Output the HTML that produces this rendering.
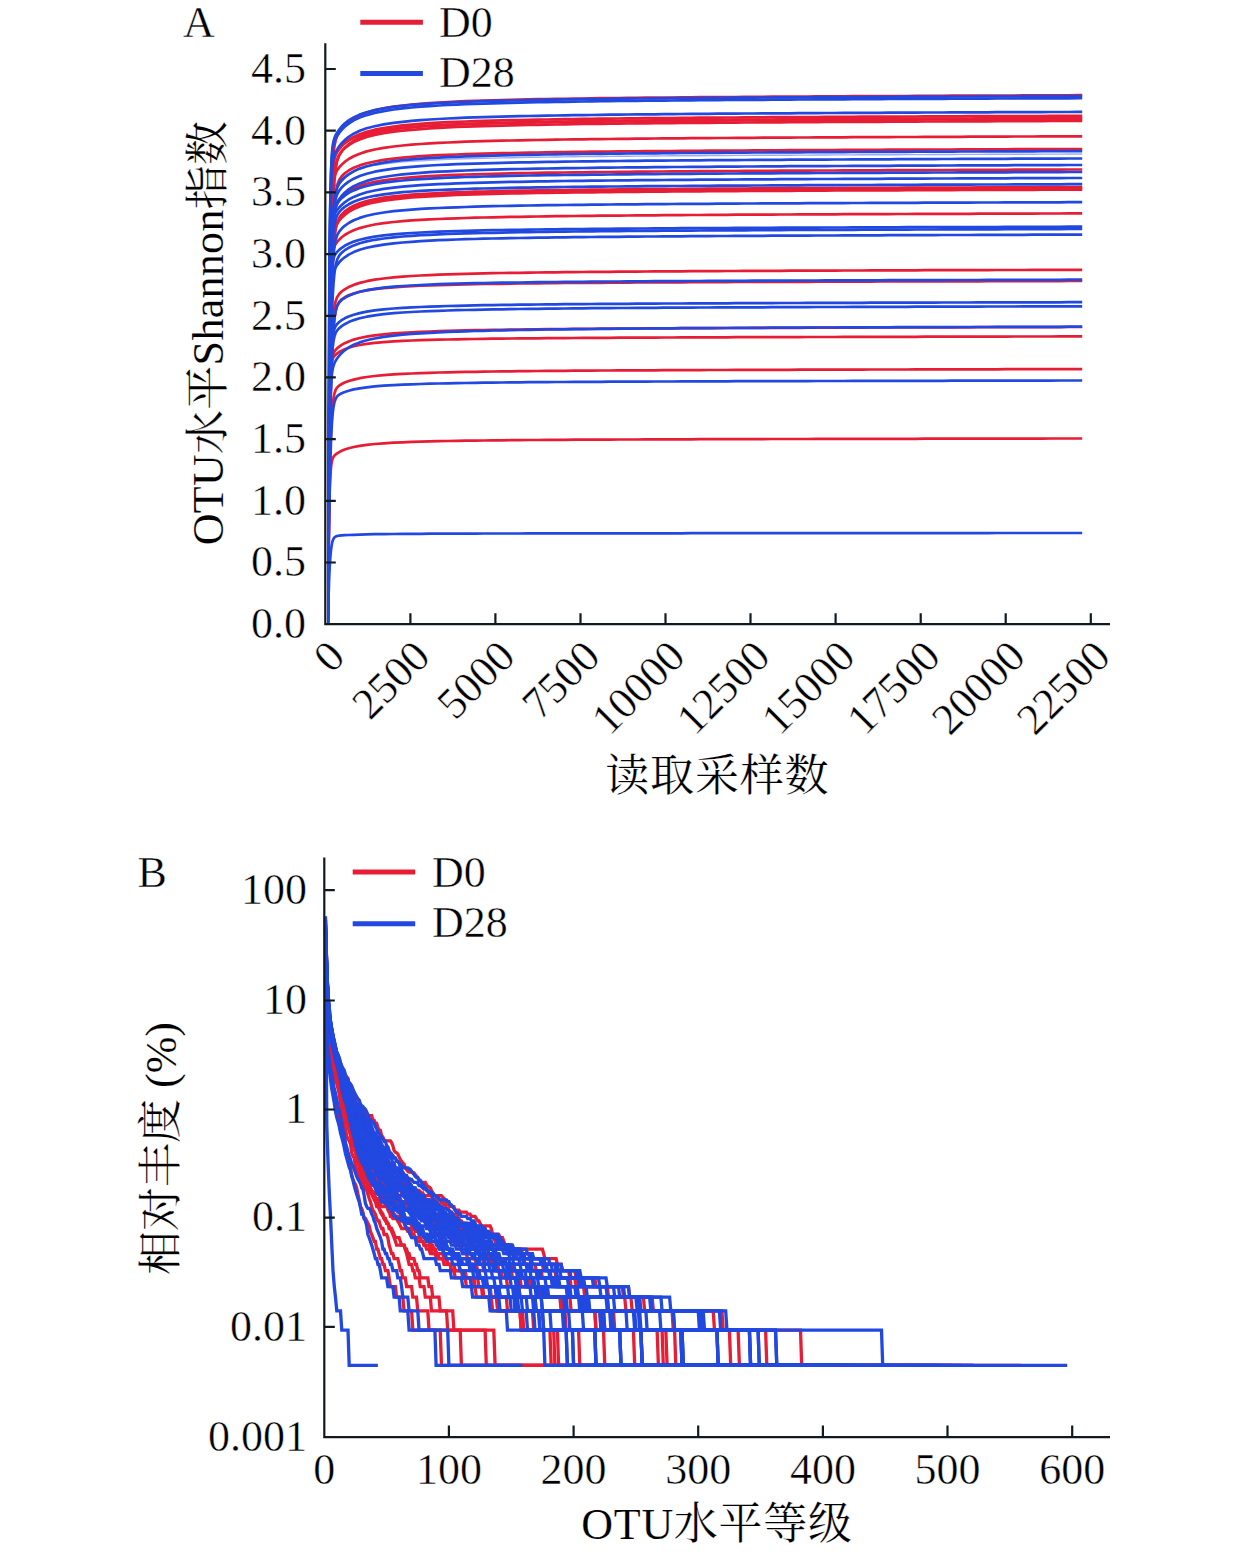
<!DOCTYPE html>
<html lang="zh"><head><meta charset="utf-8"><title>Figure</title>
<style>html,body{margin:0;padding:0;background:#fff}svg{display:block}text{font-family:"Liberation Serif","Noto Serif CJK SC",serif;font-size:44px;fill:#000;stroke:#fff;stroke-width:.45px}.cj{stroke-width:.15px}.ax{stroke:#111a1e;stroke-width:2.2;fill:none;stroke-linecap:butt}.r{stroke:#e71d36;fill:none}.b{stroke:#2148e0;fill:none}.ca path{stroke-width:2.7;stroke-linejoin:round}.cb path{stroke-width:3.3;stroke-linejoin:miter}</style></head><body>
<svg width="1260" height="1555" viewBox="0 0 1260 1555">
<rect width="1260" height="1555" fill="#fff"/>
<clipPath id="ca"><rect x="327.7" y="40" width="760" height="590"/></clipPath>
<g class="ca" clip-path="url(#ca)">
<path class="r" d="M327.7 624.2L327.8 604.0L327.9 578.4L328.1 548.3L328.3 509.1L328.5 471.9L328.8 429.0L329.0 390.5L329.3 350.0L329.6 315.3L330.0 277.1L330.4 246.7L330.9 217.6L331.4 196.2L332.0 177.9L332.7 163.7L333.5 153.3L334.5 145.6L335.7 140.1L337.2 135.9L339.2 132.1L341.7 128.6L344.7 125.2L348.7 121.6L353.7 118.2L359.7 115.1L366.7 112.5L374.7 110.2L383.7 108.3L393.7 106.6L402.7 105.5L411.7 104.6L420.7 103.8L429.7 103.1L438.7 102.6L447.7 102.1L456.7 101.6L465.7 101.2L474.7 100.9L483.7 100.6L492.7 100.3L501.7 100.1L510.7 99.8L519.7 99.6L528.7 99.4L537.7 99.2L546.7 99.1L555.7 98.9L564.7 98.8L573.7 98.6L582.7 98.5L591.7 98.4L600.7 98.2L609.7 98.1L618.7 98.0L627.7 97.9L636.7 97.8L645.7 97.7L654.7 97.6L663.7 97.6L672.7 97.5L681.7 97.4L690.7 97.3L699.7 97.2L708.7 97.2L717.7 97.1L726.7 97.0L735.7 97.0L744.7 96.9L753.7 96.8L762.7 96.8L771.7 96.7L780.7 96.7L789.7 96.6L798.7 96.5L807.7 96.5L816.7 96.4L825.7 96.4L834.7 96.3L843.7 96.3L852.7 96.2L861.7 96.2L870.7 96.1L879.7 96.1L888.7 96.0L897.7 96.0L906.7 96.0L915.7 95.9L924.7 95.9L933.7 95.8L942.7 95.8L951.7 95.7L960.7 95.7L969.7 95.7L978.7 95.6L987.7 95.6L996.7 95.5L1005.7 95.5L1014.7 95.5L1023.7 95.4L1032.7 95.4L1041.7 95.4L1050.7 95.3L1059.7 95.3L1068.7 95.3L1077.7 95.2L1082.2 95.2"/>
<path class="r" d="M327.7 624.2L327.8 597.0L327.9 563.4L328.1 524.8L328.3 476.2L328.5 432.2L328.8 383.9L329.0 343.1L329.3 302.9L329.6 270.9L330.0 238.5L330.4 215.3L330.9 195.4L331.4 182.3L332.0 172.5L332.7 165.6L333.5 161.0L334.5 157.5L335.7 154.7L337.2 152.0L339.2 149.1L341.7 146.1L344.7 143.1L348.7 139.9L353.7 136.9L359.7 134.2L366.7 131.8L374.7 129.7L383.7 128.0L393.7 126.5L402.7 125.4L411.7 124.6L420.7 123.8L429.7 123.2L438.7 122.7L447.7 122.2L456.7 121.8L465.7 121.5L474.7 121.2L483.7 120.9L492.7 120.6L501.7 120.4L510.7 120.2L519.7 120.0L528.7 119.8L537.7 119.6L546.7 119.5L555.7 119.3L564.7 119.2L573.7 119.0L582.7 118.9L591.7 118.8L600.7 118.7L609.7 118.6L618.7 118.5L627.7 118.4L636.7 118.3L645.7 118.2L654.7 118.1L663.7 118.0L672.7 118.0L681.7 117.9L690.7 117.8L699.7 117.7L708.7 117.7L717.7 117.6L726.7 117.5L735.7 117.5L744.7 117.4L753.7 117.3L762.7 117.3L771.7 117.2L780.7 117.2L789.7 117.1L798.7 117.1L807.7 117.0L816.7 117.0L825.7 116.9L834.7 116.9L843.7 116.8L852.7 116.8L861.7 116.7L870.7 116.7L879.7 116.6L888.7 116.6L897.7 116.6L906.7 116.5L915.7 116.5L924.7 116.4L933.7 116.4L942.7 116.4L951.7 116.3L960.7 116.3L969.7 116.2L978.7 116.2L987.7 116.2L996.7 116.1L1005.7 116.1L1014.7 116.1L1023.7 116.0L1032.7 116.0L1041.7 116.0L1050.7 115.9L1059.7 115.9L1068.7 115.9L1077.7 115.8L1082.2 115.8"/>
<path class="r" d="M327.7 624.2L327.8 607.8L327.9 587.0L328.1 562.2L328.3 529.4L328.5 497.7L328.8 460.6L329.0 426.5L329.3 389.6L329.6 357.2L330.0 320.1L330.4 289.5L330.9 258.9L331.4 235.2L332.0 213.9L332.7 196.4L333.5 182.9L334.5 172.3L335.7 164.8L337.2 159.3L339.2 154.9L341.7 151.2L344.7 147.8L348.7 144.2L353.7 140.8L359.7 137.8L366.7 135.1L374.7 132.9L383.7 130.9L393.7 129.3L402.7 128.2L411.7 127.3L420.7 126.5L429.7 125.8L438.7 125.3L447.7 124.8L456.7 124.3L465.7 124.0L474.7 123.6L483.7 123.3L492.7 123.0L501.7 122.8L510.7 122.6L519.7 122.4L528.7 122.2L537.7 122.0L546.7 121.8L555.7 121.6L564.7 121.5L573.7 121.4L582.7 121.2L591.7 121.1L600.7 121.0L609.7 120.9L618.7 120.8L627.7 120.7L636.7 120.6L645.7 120.5L654.7 120.4L663.7 120.3L672.7 120.2L681.7 120.1L690.7 120.1L699.7 120.0L708.7 119.9L717.7 119.9L726.7 119.8L735.7 119.7L744.7 119.7L753.7 119.6L762.7 119.5L771.7 119.5L780.7 119.4L789.7 119.4L798.7 119.3L807.7 119.3L816.7 119.2L825.7 119.2L834.7 119.1L843.7 119.1L852.7 119.0L861.7 119.0L870.7 118.9L879.7 118.9L888.7 118.8L897.7 118.8L906.7 118.7L915.7 118.7L924.7 118.7L933.7 118.6L942.7 118.6L951.7 118.5L960.7 118.5L969.7 118.5L978.7 118.4L987.7 118.4L996.7 118.3L1005.7 118.3L1014.7 118.3L1023.7 118.2L1032.7 118.2L1041.7 118.2L1050.7 118.1L1059.7 118.1L1068.7 118.1L1077.7 118.0L1082.2 118.0"/>
<path class="r" d="M327.7 624.2L327.8 604.2L327.9 579.1L328.1 549.4L328.3 510.8L328.5 474.2L328.8 432.2L329.0 394.6L329.3 355.0L329.6 321.2L330.0 284.1L330.4 254.7L330.9 226.7L331.4 206.2L332.0 188.8L332.7 175.5L333.5 166.0L334.5 159.1L335.7 154.5L337.2 151.2L339.2 148.3L341.7 145.7L344.7 143.2L348.7 140.5L353.7 137.8L359.7 135.5L366.7 133.3L374.7 131.5L383.7 130.0L393.7 128.6L402.7 127.7L411.7 126.9L420.7 126.3L429.7 125.7L438.7 125.3L447.7 124.9L456.7 124.5L465.7 124.2L474.7 123.9L483.7 123.6L492.7 123.4L501.7 123.2L510.7 123.0L519.7 122.8L528.7 122.6L537.7 122.5L546.7 122.3L555.7 122.2L564.7 122.1L573.7 121.9L582.7 121.8L591.7 121.7L600.7 121.6L609.7 121.5L618.7 121.4L627.7 121.3L636.7 121.2L645.7 121.2L654.7 121.1L663.7 121.0L672.7 120.9L681.7 120.9L690.7 120.8L699.7 120.7L708.7 120.7L717.7 120.6L726.7 120.5L735.7 120.5L744.7 120.4L753.7 120.4L762.7 120.3L771.7 120.3L780.7 120.2L789.7 120.2L798.7 120.1L807.7 120.1L816.7 120.0L825.7 120.0L834.7 119.9L843.7 119.9L852.7 119.8L861.7 119.8L870.7 119.8L879.7 119.7L888.7 119.7L897.7 119.6L906.7 119.6L915.7 119.6L924.7 119.5L933.7 119.5L942.7 119.4L951.7 119.4L960.7 119.4L969.7 119.3L978.7 119.3L987.7 119.3L996.7 119.2L1005.7 119.2L1014.7 119.1L1023.7 119.1L1032.7 119.1L1041.7 119.0L1050.7 119.0L1059.7 119.0L1068.7 118.9L1077.7 118.9L1082.2 118.9"/>
<path class="r" d="M327.7 624.2L327.8 610.8L327.9 593.6L328.1 572.9L328.3 545.1L328.5 517.9L328.8 485.2L329.0 454.5L329.3 420.5L329.6 389.6L330.0 353.2L330.4 321.7L330.9 288.8L331.4 262.0L332.0 236.5L332.7 214.1L333.5 195.8L334.5 180.5L335.7 169.1L337.2 161.1L339.2 155.3L341.7 151.4L344.7 148.2L348.7 145.1L353.7 142.1L359.7 139.4L366.7 137.0L374.7 135.0L383.7 133.2L393.7 131.7L402.7 130.7L411.7 129.8L420.7 129.1L429.7 128.4L438.7 127.9L447.7 127.4L456.7 127.0L465.7 126.7L474.7 126.4L483.7 126.1L492.7 125.8L501.7 125.6L510.7 125.3L519.7 125.1L528.7 124.9L537.7 124.8L546.7 124.6L555.7 124.5L564.7 124.3L573.7 124.2L582.7 124.0L591.7 123.9L600.7 123.8L609.7 123.7L618.7 123.6L627.7 123.5L636.7 123.4L645.7 123.3L654.7 123.2L663.7 123.2L672.7 123.1L681.7 123.0L690.7 122.9L699.7 122.9L708.7 122.8L717.7 122.7L726.7 122.6L735.7 122.6L744.7 122.5L753.7 122.5L762.7 122.4L771.7 122.3L780.7 122.3L789.7 122.2L798.7 122.2L807.7 122.1L816.7 122.1L825.7 122.0L834.7 122.0L843.7 121.9L852.7 121.9L861.7 121.8L870.7 121.8L879.7 121.8L888.7 121.7L897.7 121.7L906.7 121.6L915.7 121.6L924.7 121.5L933.7 121.5L942.7 121.5L951.7 121.4L960.7 121.4L969.7 121.3L978.7 121.3L987.7 121.3L996.7 121.2L1005.7 121.2L1014.7 121.2L1023.7 121.1L1032.7 121.1L1041.7 121.1L1050.7 121.0L1059.7 121.0L1068.7 121.0L1077.7 120.9L1082.2 120.9"/>
<path class="r" d="M327.7 624.2L327.8 602.7L327.9 575.8L328.1 544.3L328.3 503.8L328.5 466.0L328.8 423.3L329.0 385.8L329.3 347.1L329.6 314.9L330.0 280.5L330.4 254.1L330.9 229.9L331.4 212.8L332.0 199.0L332.7 188.7L333.5 181.7L334.5 176.6L335.7 173.0L337.2 170.2L339.2 167.4L341.7 164.6L344.7 161.9L348.7 159.0L353.7 156.2L359.7 153.7L366.7 151.4L374.7 149.5L383.7 147.9L393.7 146.5L402.7 145.5L411.7 144.6L420.7 144.0L429.7 143.4L438.7 142.9L447.7 142.5L456.7 142.1L465.7 141.7L474.7 141.4L483.7 141.2L492.7 140.9L501.7 140.7L510.7 140.5L519.7 140.3L528.7 140.1L537.7 140.0L546.7 139.8L555.7 139.7L564.7 139.5L573.7 139.4L582.7 139.3L591.7 139.2L600.7 139.1L609.7 139.0L618.7 138.9L627.7 138.8L636.7 138.7L645.7 138.6L654.7 138.5L663.7 138.4L672.7 138.4L681.7 138.3L690.7 138.2L699.7 138.2L708.7 138.1L717.7 138.0L726.7 138.0L735.7 137.9L744.7 137.8L753.7 137.8L762.7 137.7L771.7 137.7L780.7 137.6L789.7 137.6L798.7 137.5L807.7 137.5L816.7 137.4L825.7 137.4L834.7 137.3L843.7 137.3L852.7 137.2L861.7 137.2L870.7 137.2L879.7 137.1L888.7 137.1L897.7 137.0L906.7 137.0L915.7 137.0L924.7 136.9L933.7 136.9L942.7 136.8L951.7 136.8L960.7 136.8L969.7 136.7L978.7 136.7L987.7 136.7L996.7 136.6L1005.7 136.6L1014.7 136.5L1023.7 136.5L1032.7 136.5L1041.7 136.4L1050.7 136.4L1059.7 136.4L1068.7 136.3L1077.7 136.3L1082.2 136.3"/>
<path class="r" d="M327.7 624.2L327.8 611.8L327.9 595.8L328.1 576.5L328.3 550.7L328.5 525.3L328.8 494.8L329.0 466.1L329.3 434.1L329.6 405.1L330.0 370.6L330.4 340.8L330.9 309.5L331.4 283.8L332.0 259.3L332.7 237.7L333.5 219.8L334.5 204.8L335.7 193.6L337.2 185.6L339.2 180.0L341.7 176.2L344.7 173.3L348.7 170.5L353.7 167.8L359.7 165.4L366.7 163.3L374.7 161.5L383.7 159.9L393.7 158.6L402.7 157.7L411.7 156.9L420.7 156.2L429.7 155.7L438.7 155.2L447.7 154.8L456.7 154.5L465.7 154.1L474.7 153.9L483.7 153.6L492.7 153.4L501.7 153.2L510.7 153.0L519.7 152.8L528.7 152.6L537.7 152.5L546.7 152.3L555.7 152.2L564.7 152.1L573.7 151.9L582.7 151.8L591.7 151.7L600.7 151.6L609.7 151.5L618.7 151.4L627.7 151.3L636.7 151.3L645.7 151.2L654.7 151.1L663.7 151.0L672.7 151.0L681.7 150.9L690.7 150.8L699.7 150.8L708.7 150.7L717.7 150.6L726.7 150.6L735.7 150.5L744.7 150.5L753.7 150.4L762.7 150.4L771.7 150.3L780.7 150.3L789.7 150.2L798.7 150.2L807.7 150.1L816.7 150.1L825.7 150.0L834.7 150.0L843.7 149.9L852.7 149.9L861.7 149.9L870.7 149.8L879.7 149.8L888.7 149.7L897.7 149.7L906.7 149.7L915.7 149.6L924.7 149.6L933.7 149.5L942.7 149.5L951.7 149.5L960.7 149.4L969.7 149.4L978.7 149.4L987.7 149.3L996.7 149.3L1005.7 149.3L1014.7 149.2L1023.7 149.2L1032.7 149.2L1041.7 149.1L1050.7 149.1L1059.7 149.1L1068.7 149.0L1077.7 149.0L1082.2 149.0"/>
<path class="r" d="M327.7 624.2L327.8 608.8L327.9 589.2L328.1 565.9L328.3 535.2L328.5 505.7L328.8 471.3L329.0 439.8L329.3 405.9L329.6 376.3L330.0 342.8L330.4 315.3L330.9 288.1L331.4 267.3L332.0 248.8L332.7 233.8L333.5 222.5L334.5 213.8L335.7 207.7L337.2 203.4L339.2 199.9L341.7 196.8L344.7 194.1L348.7 191.2L353.7 188.4L359.7 185.9L366.7 183.7L374.7 181.9L383.7 180.3L393.7 179.0L402.7 178.0L411.7 177.3L420.7 176.6L429.7 176.1L438.7 175.6L447.7 175.2L456.7 174.8L465.7 174.5L474.7 174.3L483.7 174.0L492.7 173.8L501.7 173.6L510.7 173.4L519.7 173.2L528.7 173.0L537.7 172.9L546.7 172.7L555.7 172.6L564.7 172.5L573.7 172.4L582.7 172.3L591.7 172.1L600.7 172.0L609.7 172.0L618.7 171.9L627.7 171.8L636.7 171.7L645.7 171.6L654.7 171.5L663.7 171.5L672.7 171.4L681.7 171.3L690.7 171.3L699.7 171.2L708.7 171.2L717.7 171.1L726.7 171.0L735.7 171.0L744.7 170.9L753.7 170.9L762.7 170.8L771.7 170.8L780.7 170.7L789.7 170.7L798.7 170.6L807.7 170.6L816.7 170.5L825.7 170.5L834.7 170.5L843.7 170.4L852.7 170.4L861.7 170.3L870.7 170.3L879.7 170.3L888.7 170.2L897.7 170.2L906.7 170.1L915.7 170.1L924.7 170.1L933.7 170.0L942.7 170.0L951.7 170.0L960.7 169.9L969.7 169.9L978.7 169.9L987.7 169.8L996.7 169.8L1005.7 169.8L1014.7 169.7L1023.7 169.7L1032.7 169.7L1041.7 169.6L1050.7 169.6L1059.7 169.6L1068.7 169.5L1077.7 169.5L1082.2 169.5"/>
<path class="r" d="M327.7 624.2L327.8 612.2L327.9 596.9L328.1 578.4L328.3 553.7L328.5 529.5L328.8 500.6L329.0 473.5L329.3 443.6L329.6 416.6L330.0 384.9L330.4 357.7L330.9 329.4L331.4 306.6L332.0 285.1L332.7 266.4L333.5 251.2L334.5 238.6L335.7 229.4L337.2 222.8L339.2 217.9L341.7 214.4L344.7 211.4L348.7 208.5L353.7 205.8L359.7 203.3L366.7 201.1L374.7 199.3L383.7 197.7L393.7 196.4L402.7 195.5L411.7 194.7L420.7 194.1L429.7 193.5L438.7 193.1L447.7 192.7L456.7 192.3L465.7 192.0L474.7 191.7L483.7 191.5L492.7 191.3L501.7 191.1L510.7 190.9L519.7 190.7L528.7 190.5L537.7 190.4L546.7 190.3L555.7 190.1L564.7 190.0L573.7 189.9L582.7 189.8L591.7 189.7L600.7 189.6L609.7 189.5L618.7 189.4L627.7 189.3L636.7 189.2L645.7 189.2L654.7 189.1L663.7 189.0L672.7 189.0L681.7 188.9L690.7 188.8L699.7 188.8L708.7 188.7L717.7 188.6L726.7 188.6L735.7 188.5L744.7 188.5L753.7 188.4L762.7 188.4L771.7 188.3L780.7 188.3L789.7 188.2L798.7 188.2L807.7 188.2L816.7 188.1L825.7 188.1L834.7 188.0L843.7 188.0L852.7 187.9L861.7 187.9L870.7 187.9L879.7 187.8L888.7 187.8L897.7 187.8L906.7 187.7L915.7 187.7L924.7 187.6L933.7 187.6L942.7 187.6L951.7 187.5L960.7 187.5L969.7 187.5L978.7 187.4L987.7 187.4L996.7 187.4L1005.7 187.4L1014.7 187.3L1023.7 187.3L1032.7 187.3L1041.7 187.2L1050.7 187.2L1059.7 187.2L1068.7 187.1L1077.7 187.1L1082.2 187.1"/>
<path class="r" d="M327.7 624.2L327.8 607.7L327.9 586.9L328.1 562.3L328.3 530.2L328.5 499.8L328.8 464.8L329.0 433.3L329.3 400.1L329.6 371.7L330.0 340.3L330.4 315.4L330.9 291.4L331.4 273.8L332.0 258.7L332.7 246.9L333.5 238.3L334.5 231.9L335.7 227.3L337.2 223.9L339.2 220.7L341.7 217.7L344.7 214.9L348.7 211.9L353.7 209.0L359.7 206.5L366.7 204.2L374.7 202.3L383.7 200.7L393.7 199.3L402.7 198.3L411.7 197.5L420.7 196.9L429.7 196.3L438.7 195.8L447.7 195.4L456.7 195.0L465.7 194.7L474.7 194.4L483.7 194.2L492.7 193.9L501.7 193.7L510.7 193.5L519.7 193.3L528.7 193.2L537.7 193.0L546.7 192.9L555.7 192.7L564.7 192.6L573.7 192.5L582.7 192.4L591.7 192.3L600.7 192.2L609.7 192.1L618.7 192.0L627.7 191.9L636.7 191.8L645.7 191.7L654.7 191.6L663.7 191.6L672.7 191.5L681.7 191.4L690.7 191.4L699.7 191.3L708.7 191.2L717.7 191.2L726.7 191.1L735.7 191.1L744.7 191.0L753.7 191.0L762.7 190.9L771.7 190.9L780.7 190.8L789.7 190.8L798.7 190.7L807.7 190.7L816.7 190.6L825.7 190.6L834.7 190.5L843.7 190.5L852.7 190.5L861.7 190.4L870.7 190.4L879.7 190.3L888.7 190.3L897.7 190.3L906.7 190.2L915.7 190.2L924.7 190.2L933.7 190.1L942.7 190.1L951.7 190.1L960.7 190.0L969.7 190.0L978.7 190.0L987.7 189.9L996.7 189.9L1005.7 189.9L1014.7 189.8L1023.7 189.8L1032.7 189.8L1041.7 189.7L1050.7 189.7L1059.7 189.7L1068.7 189.6L1077.7 189.6L1082.2 189.6"/>
<path class="r" d="M327.7 624.2L327.8 606.1L327.9 583.4L328.1 556.8L328.3 522.3L328.5 489.9L328.8 453.1L329.0 420.4L329.3 386.5L329.6 358.0L330.0 327.1L330.4 303.0L330.9 280.6L331.4 264.5L332.0 251.1L332.7 241.0L333.5 233.9L334.5 228.7L335.7 225.0L337.2 222.1L339.2 219.3L341.7 216.5L344.7 213.8L348.7 211.0L353.7 208.2L359.7 205.6L366.7 203.4L374.7 201.5L383.7 199.8L393.7 198.4L402.7 197.4L411.7 196.6L420.7 195.9L429.7 195.4L438.7 194.9L447.7 194.4L456.7 194.0L465.7 193.7L474.7 193.4L483.7 193.1L492.7 192.9L501.7 192.7L510.7 192.5L519.7 192.3L528.7 192.1L537.7 191.9L546.7 191.8L555.7 191.6L564.7 191.5L573.7 191.4L582.7 191.3L591.7 191.2L600.7 191.0L609.7 191.0L618.7 190.9L627.7 190.8L636.7 190.7L645.7 190.6L654.7 190.5L663.7 190.4L672.7 190.4L681.7 190.3L690.7 190.2L699.7 190.2L708.7 190.1L717.7 190.0L726.7 190.0L735.7 189.9L744.7 189.9L753.7 189.8L762.7 189.8L771.7 189.7L780.7 189.7L789.7 189.6L798.7 189.6L807.7 189.5L816.7 189.5L825.7 189.4L834.7 189.4L843.7 189.3L852.7 189.3L861.7 189.2L870.7 189.2L879.7 189.2L888.7 189.1L897.7 189.1L906.7 189.0L915.7 189.0L924.7 189.0L933.7 188.9L942.7 188.9L951.7 188.9L960.7 188.8L969.7 188.8L978.7 188.8L987.7 188.7L996.7 188.7L1005.7 188.7L1014.7 188.6L1023.7 188.6L1032.7 188.6L1041.7 188.5L1050.7 188.5L1059.7 188.5L1068.7 188.4L1077.7 188.4L1082.2 188.4"/>
<path class="r" d="M327.7 624.2L327.8 602.6L327.9 576.0L328.1 545.3L328.3 506.5L328.5 471.2L328.8 432.5L329.0 399.5L329.3 366.8L329.6 340.7L330.0 314.1L330.4 294.8L330.9 278.1L331.4 267.2L332.0 258.8L332.7 253.0L333.5 249.1L334.5 246.3L335.7 244.0L337.2 241.9L339.2 239.7L341.7 237.3L344.7 235.0L348.7 232.6L353.7 230.2L359.7 228.1L366.7 226.2L374.7 224.5L383.7 223.1L393.7 222.0L402.7 221.1L411.7 220.4L420.7 219.9L429.7 219.4L438.7 219.0L447.7 218.6L456.7 218.3L465.7 218.0L474.7 217.7L483.7 217.5L492.7 217.3L501.7 217.1L510.7 216.9L519.7 216.8L528.7 216.6L537.7 216.5L546.7 216.3L555.7 216.2L564.7 216.1L573.7 216.0L582.7 215.9L591.7 215.8L600.7 215.7L609.7 215.6L618.7 215.6L627.7 215.5L636.7 215.4L645.7 215.3L654.7 215.3L663.7 215.2L672.7 215.1L681.7 215.1L690.7 215.0L699.7 215.0L708.7 214.9L717.7 214.8L726.7 214.8L735.7 214.7L744.7 214.7L753.7 214.7L762.7 214.6L771.7 214.6L780.7 214.5L789.7 214.5L798.7 214.4L807.7 214.4L816.7 214.3L825.7 214.3L834.7 214.3L843.7 214.2L852.7 214.2L861.7 214.2L870.7 214.1L879.7 214.1L888.7 214.1L897.7 214.0L906.7 214.0L915.7 213.9L924.7 213.9L933.7 213.9L942.7 213.9L951.7 213.8L960.7 213.8L969.7 213.8L978.7 213.7L987.7 213.7L996.7 213.7L1005.7 213.6L1014.7 213.6L1023.7 213.6L1032.7 213.6L1041.7 213.5L1050.7 213.5L1059.7 213.5L1068.7 213.4L1077.7 213.4L1082.2 213.4"/>
<path class="r" d="M327.7 624.2L327.8 613.1L327.9 598.9L328.1 582.0L328.3 559.6L328.5 537.9L328.8 512.3L329.0 488.7L329.3 463.1L329.6 440.3L330.0 414.2L330.4 392.5L330.9 370.5L331.4 353.3L332.0 337.7L332.7 324.7L333.5 314.6L334.5 306.6L335.7 301.0L337.2 297.0L339.2 294.0L341.7 291.5L344.7 289.4L348.7 287.1L353.7 284.9L359.7 282.9L366.7 281.2L374.7 279.7L383.7 278.5L393.7 277.4L402.7 276.6L411.7 276.0L420.7 275.5L429.7 275.1L438.7 274.7L447.7 274.4L456.7 274.1L465.7 273.8L474.7 273.6L483.7 273.4L492.7 273.2L501.7 273.0L510.7 272.9L519.7 272.8L528.7 272.6L537.7 272.5L546.7 272.4L555.7 272.3L564.7 272.2L573.7 272.1L582.7 272.0L591.7 271.9L600.7 271.8L609.7 271.8L618.7 271.7L627.7 271.6L636.7 271.6L645.7 271.5L654.7 271.4L663.7 271.4L672.7 271.3L681.7 271.3L690.7 271.2L699.7 271.2L708.7 271.1L717.7 271.1L726.7 271.0L735.7 271.0L744.7 270.9L753.7 270.9L762.7 270.9L771.7 270.8L780.7 270.8L789.7 270.7L798.7 270.7L807.7 270.7L816.7 270.6L825.7 270.6L834.7 270.6L843.7 270.5L852.7 270.5L861.7 270.5L870.7 270.4L879.7 270.4L888.7 270.4L897.7 270.3L906.7 270.3L915.7 270.3L924.7 270.2L933.7 270.2L942.7 270.2L951.7 270.2L960.7 270.1L969.7 270.1L978.7 270.1L987.7 270.1L996.7 270.0L1005.7 270.0L1014.7 270.0L1023.7 270.0L1032.7 269.9L1041.7 269.9L1050.7 269.9L1059.7 269.9L1068.7 269.8L1077.7 269.8L1082.2 269.8"/>
<path class="r" d="M327.7 624.2L327.8 615.0L327.9 603.1L328.1 588.9L328.3 569.7L328.5 551.0L328.8 528.5L329.0 507.4L329.3 484.0L329.6 462.7L330.0 437.6L330.4 415.9L330.9 393.3L331.4 374.8L332.0 357.3L332.7 342.0L333.5 329.4L334.5 318.9L335.7 311.2L337.2 305.7L339.2 301.9L341.7 299.3L344.7 297.3L348.7 295.3L353.7 293.5L359.7 291.8L366.7 290.4L374.7 289.2L383.7 288.2L393.7 287.3L402.7 286.7L411.7 286.2L420.7 285.7L429.7 285.4L438.7 285.1L447.7 284.8L456.7 284.6L465.7 284.4L474.7 284.2L483.7 284.0L492.7 283.9L501.7 283.8L510.7 283.6L519.7 283.5L528.7 283.4L537.7 283.3L546.7 283.2L555.7 283.1L564.7 283.0L573.7 283.0L582.7 282.9L591.7 282.8L600.7 282.8L609.7 282.7L618.7 282.6L627.7 282.6L636.7 282.5L645.7 282.5L654.7 282.4L663.7 282.4L672.7 282.3L681.7 282.3L690.7 282.2L699.7 282.2L708.7 282.1L717.7 282.1L726.7 282.1L735.7 282.0L744.7 282.0L753.7 282.0L762.7 281.9L771.7 281.9L780.7 281.9L789.7 281.8L798.7 281.8L807.7 281.8L816.7 281.7L825.7 281.7L834.7 281.7L843.7 281.6L852.7 281.6L861.7 281.6L870.7 281.6L879.7 281.5L888.7 281.5L897.7 281.5L906.7 281.5L915.7 281.4L924.7 281.4L933.7 281.4L942.7 281.4L951.7 281.3L960.7 281.3L969.7 281.3L978.7 281.3L987.7 281.2L996.7 281.2L1005.7 281.2L1014.7 281.2L1023.7 281.1L1032.7 281.1L1041.7 281.1L1050.7 281.1L1059.7 281.1L1068.7 281.0L1077.7 281.0L1082.2 281.0"/>
<path class="r" d="M327.7 624.2L327.8 606.0L327.9 583.8L328.1 558.6L328.3 527.7L328.5 500.3L328.8 471.3L329.0 447.5L329.3 424.9L329.6 407.7L330.0 391.2L330.4 380.0L330.9 371.0L331.4 365.5L332.0 361.6L332.7 359.0L333.5 357.3L334.5 355.9L335.7 354.7L337.2 353.4L339.2 352.0L341.7 350.6L344.7 349.2L348.7 347.7L353.7 346.3L359.7 345.0L366.7 343.9L374.7 342.9L383.7 342.1L393.7 341.4L402.7 340.9L411.7 340.5L420.7 340.2L429.7 339.9L438.7 339.7L447.7 339.5L456.7 339.3L465.7 339.1L474.7 339.0L483.7 338.9L492.7 338.7L501.7 338.6L510.7 338.5L519.7 338.4L528.7 338.3L537.7 338.3L546.7 338.2L555.7 338.1L564.7 338.1L573.7 338.0L582.7 337.9L591.7 337.9L600.7 337.8L609.7 337.8L618.7 337.7L627.7 337.7L636.7 337.6L645.7 337.6L654.7 337.6L663.7 337.5L672.7 337.5L681.7 337.4L690.7 337.4L699.7 337.4L708.7 337.3L717.7 337.3L726.7 337.3L735.7 337.2L744.7 337.2L753.7 337.2L762.7 337.2L771.7 337.1L780.7 337.1L789.7 337.1L798.7 337.1L807.7 337.0L816.7 337.0L825.7 337.0L834.7 337.0L843.7 336.9L852.7 336.9L861.7 336.9L870.7 336.9L879.7 336.8L888.7 336.8L897.7 336.8L906.7 336.8L915.7 336.8L924.7 336.7L933.7 336.7L942.7 336.7L951.7 336.7L960.7 336.6L969.7 336.6L978.7 336.6L987.7 336.6L996.7 336.6L1005.7 336.6L1014.7 336.5L1023.7 336.5L1032.7 336.5L1041.7 336.5L1050.7 336.5L1059.7 336.4L1068.7 336.4L1077.7 336.4L1082.2 336.4"/>
<path class="r" d="M327.7 624.2L327.8 608.3L327.9 588.7L328.1 566.1L328.3 537.8L328.5 512.0L328.8 483.8L329.0 460.0L329.3 436.4L329.6 417.7L330.0 398.8L330.4 385.2L330.9 373.5L331.4 365.9L332.0 360.1L332.7 356.1L333.5 353.5L334.5 351.5L335.7 349.8L337.2 348.3L339.2 346.6L341.7 344.9L344.7 343.2L348.7 341.4L353.7 339.6L359.7 338.0L366.7 336.6L374.7 335.3L383.7 334.3L393.7 333.4L402.7 332.8L411.7 332.3L420.7 331.8L429.7 331.5L438.7 331.1L447.7 330.9L456.7 330.6L465.7 330.4L474.7 330.2L483.7 330.1L492.7 329.9L501.7 329.8L510.7 329.6L519.7 329.5L528.7 329.4L537.7 329.3L546.7 329.2L555.7 329.1L564.7 329.0L573.7 328.9L582.7 328.9L591.7 328.8L600.7 328.7L609.7 328.7L618.7 328.6L627.7 328.5L636.7 328.5L645.7 328.4L654.7 328.4L663.7 328.3L672.7 328.3L681.7 328.2L690.7 328.2L699.7 328.2L708.7 328.1L717.7 328.1L726.7 328.0L735.7 328.0L744.7 328.0L753.7 327.9L762.7 327.9L771.7 327.9L780.7 327.8L789.7 327.8L798.7 327.8L807.7 327.7L816.7 327.7L825.7 327.7L834.7 327.6L843.7 327.6L852.7 327.6L861.7 327.6L870.7 327.5L879.7 327.5L888.7 327.5L897.7 327.5L906.7 327.4L915.7 327.4L924.7 327.4L933.7 327.4L942.7 327.3L951.7 327.3L960.7 327.3L969.7 327.3L978.7 327.2L987.7 327.2L996.7 327.2L1005.7 327.2L1014.7 327.2L1023.7 327.1L1032.7 327.1L1041.7 327.1L1050.7 327.1L1059.7 327.1L1068.7 327.0L1077.7 327.0L1082.2 327.0"/>
<path class="r" d="M327.7 624.2L327.8 615.6L327.9 604.7L328.1 591.7L328.3 574.5L328.5 558.1L328.8 538.8L329.0 521.1L329.3 502.1L329.6 485.5L330.0 466.6L330.4 451.0L330.9 435.6L331.4 423.8L332.0 413.3L332.7 404.7L333.5 398.2L334.5 393.3L335.7 389.8L337.2 387.4L339.2 385.6L341.7 384.0L344.7 382.5L348.7 381.0L353.7 379.6L359.7 378.2L366.7 377.0L374.7 376.0L383.7 375.2L393.7 374.4L402.7 373.9L411.7 373.5L420.7 373.1L429.7 372.8L438.7 372.5L447.7 372.3L456.7 372.1L465.7 371.9L474.7 371.8L483.7 371.6L492.7 371.5L501.7 371.4L510.7 371.3L519.7 371.2L528.7 371.1L537.7 371.0L546.7 370.9L555.7 370.9L564.7 370.8L573.7 370.7L582.7 370.7L591.7 370.6L600.7 370.5L609.7 370.5L618.7 370.4L627.7 370.4L636.7 370.3L645.7 370.3L654.7 370.3L663.7 370.2L672.7 370.2L681.7 370.1L690.7 370.1L699.7 370.1L708.7 370.0L717.7 370.0L726.7 370.0L735.7 369.9L744.7 369.9L753.7 369.9L762.7 369.8L771.7 369.8L780.7 369.8L789.7 369.8L798.7 369.7L807.7 369.7L816.7 369.7L825.7 369.7L834.7 369.6L843.7 369.6L852.7 369.6L861.7 369.6L870.7 369.5L879.7 369.5L888.7 369.5L897.7 369.5L906.7 369.5L915.7 369.4L924.7 369.4L933.7 369.4L942.7 369.4L951.7 369.4L960.7 369.3L969.7 369.3L978.7 369.3L987.7 369.3L996.7 369.3L1005.7 369.2L1014.7 369.2L1023.7 369.2L1032.7 369.2L1041.7 369.2L1050.7 369.2L1059.7 369.1L1068.7 369.1L1077.7 369.1L1082.2 369.1"/>
<path class="r" d="M327.7 624.2L327.8 614.0L327.9 601.5L328.1 587.2L328.3 569.2L328.5 553.0L328.8 535.5L329.0 520.7L329.3 506.3L329.6 494.9L330.0 483.5L330.4 475.5L330.9 468.6L331.4 464.2L332.0 460.8L332.7 458.5L333.5 456.9L334.5 455.5L335.7 454.4L337.2 453.3L339.2 452.1L341.7 450.8L344.7 449.5L348.7 448.2L353.7 447.0L359.7 445.9L366.7 444.9L374.7 444.0L383.7 443.3L393.7 442.7L402.7 442.3L411.7 441.9L420.7 441.7L429.7 441.4L438.7 441.2L447.7 441.0L456.7 440.9L465.7 440.7L474.7 440.6L483.7 440.5L492.7 440.4L501.7 440.3L510.7 440.2L519.7 440.1L528.7 440.0L537.7 440.0L546.7 439.9L555.7 439.9L564.7 439.8L573.7 439.7L582.7 439.7L591.7 439.7L600.7 439.6L609.7 439.6L618.7 439.5L627.7 439.5L636.7 439.5L645.7 439.4L654.7 439.4L663.7 439.4L672.7 439.3L681.7 439.3L690.7 439.3L699.7 439.2L708.7 439.2L717.7 439.2L726.7 439.2L735.7 439.1L744.7 439.1L753.7 439.1L762.7 439.1L771.7 439.0L780.7 439.0L789.7 439.0L798.7 439.0L807.7 439.0L816.7 438.9L825.7 438.9L834.7 438.9L843.7 438.9L852.7 438.9L861.7 438.9L870.7 438.8L879.7 438.8L888.7 438.8L897.7 438.8L906.7 438.8L915.7 438.8L924.7 438.7L933.7 438.7L942.7 438.7L951.7 438.7L960.7 438.7L969.7 438.7L978.7 438.7L987.7 438.6L996.7 438.6L1005.7 438.6L1014.7 438.6L1023.7 438.6L1032.7 438.6L1041.7 438.6L1050.7 438.5L1059.7 438.5L1068.7 438.5L1077.7 438.5L1082.2 438.5"/>
<path class="b" d="M327.7 624.2L327.8 595.3L327.9 559.6L328.1 518.6L328.3 467.3L328.5 420.9L328.8 370.3L329.0 327.5L329.3 285.7L329.6 252.5L330.0 219.2L330.4 195.5L330.9 175.3L331.4 162.2L332.0 152.4L332.7 145.7L333.5 141.2L334.5 137.8L335.7 135.0L337.2 132.4L339.2 129.5L341.7 126.5L344.7 123.5L348.7 120.4L353.7 117.4L359.7 114.6L366.7 112.2L374.7 110.1L383.7 108.4L393.7 106.9L402.7 105.8L411.7 104.9L420.7 104.2L429.7 103.6L438.7 103.0L447.7 102.6L456.7 102.2L465.7 101.8L474.7 101.5L483.7 101.2L492.7 100.9L501.7 100.7L510.7 100.5L519.7 100.3L528.7 100.1L537.7 99.9L546.7 99.7L555.7 99.6L564.7 99.4L573.7 99.3L582.7 99.2L591.7 99.1L600.7 99.0L609.7 98.8L618.7 98.7L627.7 98.6L636.7 98.5L645.7 98.5L654.7 98.4L663.7 98.3L672.7 98.2L681.7 98.1L690.7 98.1L699.7 98.0L708.7 97.9L717.7 97.8L726.7 97.8L735.7 97.7L744.7 97.7L753.7 97.6L762.7 97.5L771.7 97.5L780.7 97.4L789.7 97.4L798.7 97.3L807.7 97.3L816.7 97.2L825.7 97.2L834.7 97.1L843.7 97.1L852.7 97.0L861.7 97.0L870.7 96.9L879.7 96.9L888.7 96.8L897.7 96.8L906.7 96.7L915.7 96.7L924.7 96.7L933.7 96.6L942.7 96.6L951.7 96.5L960.7 96.5L969.7 96.5L978.7 96.4L987.7 96.4L996.7 96.3L1005.7 96.3L1014.7 96.3L1023.7 96.2L1032.7 96.2L1041.7 96.2L1050.7 96.1L1059.7 96.1L1068.7 96.1L1077.7 96.0L1082.2 96.0"/>
<path class="b" d="M327.7 624.2L327.8 595.4L327.9 559.8L328.1 519.0L328.3 467.9L328.5 421.7L328.8 371.4L329.0 329.0L329.3 287.4L329.6 254.6L330.0 221.6L330.4 198.2L330.9 178.2L331.4 165.4L332.0 155.7L332.7 149.0L333.5 144.6L334.5 141.2L335.7 138.5L337.2 135.8L339.2 132.9L341.7 129.8L344.7 126.8L348.7 123.6L353.7 120.4L359.7 117.6L366.7 115.1L374.7 112.9L383.7 111.1L393.7 109.5L402.7 108.4L411.7 107.5L420.7 106.7L429.7 106.1L438.7 105.5L447.7 105.0L456.7 104.6L465.7 104.2L474.7 103.9L483.7 103.6L492.7 103.3L501.7 103.1L510.7 102.8L519.7 102.6L528.7 102.4L537.7 102.2L546.7 102.1L555.7 101.9L564.7 101.8L573.7 101.6L582.7 101.5L591.7 101.4L600.7 101.2L609.7 101.1L618.7 101.0L627.7 100.9L636.7 100.8L645.7 100.7L654.7 100.6L663.7 100.6L672.7 100.5L681.7 100.4L690.7 100.3L699.7 100.2L708.7 100.2L717.7 100.1L726.7 100.0L735.7 100.0L744.7 99.9L753.7 99.8L762.7 99.8L771.7 99.7L780.7 99.7L789.7 99.6L798.7 99.5L807.7 99.5L816.7 99.4L825.7 99.4L834.7 99.3L843.7 99.3L852.7 99.2L861.7 99.2L870.7 99.1L879.7 99.1L888.7 99.0L897.7 99.0L906.7 99.0L915.7 98.9L924.7 98.9L933.7 98.8L942.7 98.8L951.7 98.7L960.7 98.7L969.7 98.7L978.7 98.6L987.7 98.6L996.7 98.5L1005.7 98.5L1014.7 98.5L1023.7 98.4L1032.7 98.4L1041.7 98.4L1050.7 98.3L1059.7 98.3L1068.7 98.3L1077.7 98.2L1082.2 98.2"/>
<path class="b" d="M327.7 624.2L327.8 596.7L327.9 562.7L328.1 523.7L328.3 474.6L328.5 430.2L328.8 381.6L329.0 340.6L329.3 300.2L329.6 268.1L330.0 235.8L330.4 212.6L330.9 192.8L331.4 179.8L332.0 170.0L332.7 163.2L333.5 158.6L334.5 155.1L335.7 152.2L337.2 149.4L339.2 146.3L341.7 143.2L344.7 140.1L348.7 136.8L353.7 133.7L359.7 130.8L366.7 128.3L374.7 126.2L383.7 124.4L393.7 122.9L402.7 121.8L411.7 120.9L420.7 120.1L429.7 119.5L438.7 119.0L447.7 118.5L456.7 118.1L465.7 117.7L474.7 117.4L483.7 117.1L492.7 116.8L501.7 116.6L510.7 116.4L519.7 116.2L528.7 116.0L537.7 115.8L546.7 115.6L555.7 115.5L564.7 115.3L573.7 115.2L582.7 115.1L591.7 115.0L600.7 114.8L609.7 114.7L618.7 114.6L627.7 114.5L636.7 114.4L645.7 114.3L654.7 114.3L663.7 114.2L672.7 114.1L681.7 114.0L690.7 113.9L699.7 113.9L708.7 113.8L717.7 113.7L726.7 113.7L735.7 113.6L744.7 113.5L753.7 113.5L762.7 113.4L771.7 113.4L780.7 113.3L789.7 113.3L798.7 113.2L807.7 113.1L816.7 113.1L825.7 113.0L834.7 113.0L843.7 112.9L852.7 112.9L861.7 112.9L870.7 112.8L879.7 112.8L888.7 112.7L897.7 112.7L906.7 112.6L915.7 112.6L924.7 112.5L933.7 112.5L942.7 112.5L951.7 112.4L960.7 112.4L969.7 112.4L978.7 112.3L987.7 112.3L996.7 112.2L1005.7 112.2L1014.7 112.2L1023.7 112.1L1032.7 112.1L1041.7 112.1L1050.7 112.0L1059.7 112.0L1068.7 112.0L1077.7 111.9L1082.2 111.9"/>
<path class="b" d="M327.7 624.2L327.8 608.3L327.9 588.1L328.1 564.1L328.3 532.5L328.5 502.0L328.8 466.5L329.0 433.9L329.3 398.9L329.6 368.2L330.0 333.5L330.4 304.9L330.9 276.7L331.4 255.0L332.0 235.7L332.7 220.0L333.5 208.0L334.5 198.8L335.7 192.3L337.2 187.6L339.2 183.8L341.7 180.5L344.7 177.5L348.7 174.4L353.7 171.3L359.7 168.6L366.7 166.3L374.7 164.3L383.7 162.6L393.7 161.2L402.7 160.2L411.7 159.3L420.7 158.7L429.7 158.1L438.7 157.6L447.7 157.1L456.7 156.8L465.7 156.4L474.7 156.1L483.7 155.9L492.7 155.6L501.7 155.4L510.7 155.2L519.7 155.0L528.7 154.8L537.7 154.7L546.7 154.5L555.7 154.4L564.7 154.2L573.7 154.1L582.7 154.0L591.7 153.9L600.7 153.8L609.7 153.7L618.7 153.6L627.7 153.5L636.7 153.4L645.7 153.3L654.7 153.3L663.7 153.2L672.7 153.1L681.7 153.0L690.7 153.0L699.7 152.9L708.7 152.8L717.7 152.8L726.7 152.7L735.7 152.7L744.7 152.6L753.7 152.5L762.7 152.5L771.7 152.4L780.7 152.4L789.7 152.3L798.7 152.3L807.7 152.2L816.7 152.2L825.7 152.1L834.7 152.1L843.7 152.1L852.7 152.0L861.7 152.0L870.7 151.9L879.7 151.9L888.7 151.9L897.7 151.8L906.7 151.8L915.7 151.7L924.7 151.7L933.7 151.7L942.7 151.6L951.7 151.6L960.7 151.5L969.7 151.5L978.7 151.5L987.7 151.4L996.7 151.4L1005.7 151.4L1014.7 151.3L1023.7 151.3L1032.7 151.3L1041.7 151.2L1050.7 151.2L1059.7 151.2L1068.7 151.1L1077.7 151.1L1082.2 151.1"/>
<path class="b" d="M327.7 624.2L327.8 608.7L327.9 588.9L328.1 565.4L328.3 534.4L328.5 504.6L328.8 469.7L329.0 437.8L329.3 403.4L329.6 373.2L330.0 338.9L330.4 310.8L330.9 282.8L331.4 261.3L332.0 242.1L332.7 226.4L333.5 214.5L334.5 205.3L335.7 198.9L337.2 194.3L339.2 190.7L341.7 187.5L344.7 184.6L348.7 181.6L353.7 178.7L359.7 176.0L366.7 173.7L374.7 171.7L383.7 170.1L393.7 168.6L402.7 167.6L411.7 166.8L420.7 166.1L429.7 165.5L438.7 165.0L447.7 164.6L456.7 164.2L465.7 163.9L474.7 163.6L483.7 163.3L492.7 163.1L501.7 162.8L510.7 162.6L519.7 162.4L528.7 162.3L537.7 162.1L546.7 161.9L555.7 161.8L564.7 161.7L573.7 161.5L582.7 161.4L591.7 161.3L600.7 161.2L609.7 161.1L618.7 161.0L627.7 160.9L636.7 160.8L645.7 160.7L654.7 160.7L663.7 160.6L672.7 160.5L681.7 160.4L690.7 160.4L699.7 160.3L708.7 160.2L717.7 160.2L726.7 160.1L735.7 160.1L744.7 160.0L753.7 159.9L762.7 159.9L771.7 159.8L780.7 159.8L789.7 159.7L798.7 159.7L807.7 159.6L816.7 159.6L825.7 159.6L834.7 159.5L843.7 159.5L852.7 159.4L861.7 159.4L870.7 159.3L879.7 159.3L888.7 159.3L897.7 159.2L906.7 159.2L915.7 159.1L924.7 159.1L933.7 159.1L942.7 159.0L951.7 159.0L960.7 158.9L969.7 158.9L978.7 158.9L987.7 158.8L996.7 158.8L1005.7 158.8L1014.7 158.7L1023.7 158.7L1032.7 158.7L1041.7 158.6L1050.7 158.6L1059.7 158.6L1068.7 158.5L1077.7 158.5L1082.2 158.5"/>
<path class="b" d="M327.7 624.2L327.8 596.0L327.9 561.6L328.1 522.8L328.3 475.0L328.5 432.7L328.8 387.9L329.0 351.3L329.3 316.6L329.6 290.2L330.0 264.9L330.4 247.6L330.9 233.6L331.4 224.9L332.0 218.6L332.7 214.0L333.5 210.8L334.5 207.9L335.7 205.2L337.2 202.3L339.2 199.2L341.7 195.9L344.7 192.7L348.7 189.4L353.7 186.2L359.7 183.4L366.7 180.9L374.7 178.8L383.7 177.0L393.7 175.5L402.7 174.4L411.7 173.6L420.7 172.8L429.7 172.2L438.7 171.7L447.7 171.3L456.7 170.9L465.7 170.5L474.7 170.2L483.7 169.9L492.7 169.6L501.7 169.4L510.7 169.2L519.7 169.0L528.7 168.8L537.7 168.7L546.7 168.5L555.7 168.4L564.7 168.2L573.7 168.1L582.7 168.0L591.7 167.9L600.7 167.7L609.7 167.6L618.7 167.5L627.7 167.4L636.7 167.4L645.7 167.3L654.7 167.2L663.7 167.1L672.7 167.0L681.7 167.0L690.7 166.9L699.7 166.8L708.7 166.8L717.7 166.7L726.7 166.6L735.7 166.6L744.7 166.5L753.7 166.5L762.7 166.4L771.7 166.4L780.7 166.3L789.7 166.2L798.7 166.2L807.7 166.2L816.7 166.1L825.7 166.1L834.7 166.0L843.7 166.0L852.7 165.9L861.7 165.9L870.7 165.8L879.7 165.8L888.7 165.8L897.7 165.7L906.7 165.7L915.7 165.6L924.7 165.6L933.7 165.6L942.7 165.5L951.7 165.5L960.7 165.4L969.7 165.4L978.7 165.4L987.7 165.3L996.7 165.3L1005.7 165.3L1014.7 165.2L1023.7 165.2L1032.7 165.2L1041.7 165.1L1050.7 165.1L1059.7 165.1L1068.7 165.0L1077.7 165.0L1082.2 165.0"/>
<path class="b" d="M327.7 624.2L327.8 608.1L327.9 587.7L328.1 563.6L328.3 531.8L328.5 501.5L328.8 466.2L329.0 434.1L329.3 399.9L329.6 370.1L330.0 336.6L330.4 309.5L330.9 282.9L331.4 262.8L332.0 245.2L332.7 231.1L333.5 220.7L334.5 212.9L335.7 207.5L337.2 203.8L339.2 200.7L341.7 198.1L344.7 195.6L348.7 192.9L353.7 190.4L359.7 188.0L366.7 186.0L374.7 184.2L383.7 182.7L393.7 181.4L402.7 180.5L411.7 179.7L420.7 179.1L429.7 178.6L438.7 178.1L447.7 177.7L456.7 177.3L465.7 177.0L474.7 176.8L483.7 176.5L492.7 176.3L501.7 176.1L510.7 175.9L519.7 175.7L528.7 175.5L537.7 175.4L546.7 175.2L555.7 175.1L564.7 175.0L573.7 174.9L582.7 174.8L591.7 174.7L600.7 174.6L609.7 174.5L618.7 174.4L627.7 174.3L636.7 174.2L645.7 174.1L654.7 174.1L663.7 174.0L672.7 173.9L681.7 173.8L690.7 173.8L699.7 173.7L708.7 173.7L717.7 173.6L726.7 173.5L735.7 173.5L744.7 173.4L753.7 173.4L762.7 173.3L771.7 173.3L780.7 173.2L789.7 173.2L798.7 173.1L807.7 173.1L816.7 173.0L825.7 173.0L834.7 173.0L843.7 172.9L852.7 172.9L861.7 172.8L870.7 172.8L879.7 172.8L888.7 172.7L897.7 172.7L906.7 172.6L915.7 172.6L924.7 172.6L933.7 172.5L942.7 172.5L951.7 172.5L960.7 172.4L969.7 172.4L978.7 172.4L987.7 172.3L996.7 172.3L1005.7 172.3L1014.7 172.2L1023.7 172.2L1032.7 172.2L1041.7 172.1L1050.7 172.1L1059.7 172.1L1068.7 172.0L1077.7 172.0L1082.2 172.0"/>
<path class="b" d="M327.7 624.2L327.8 601.2L327.9 572.7L328.1 539.8L328.3 498.3L328.5 460.4L328.8 418.6L329.0 383.0L329.3 347.6L329.6 319.1L330.0 290.1L330.4 268.9L330.9 250.5L331.4 238.4L332.0 229.0L332.7 222.5L333.5 218.1L334.5 214.9L335.7 212.3L337.2 210.0L339.2 207.5L341.7 204.9L344.7 202.3L348.7 199.5L353.7 196.9L359.7 194.5L366.7 192.3L374.7 190.5L383.7 188.9L393.7 187.6L402.7 186.7L411.7 185.9L420.7 185.2L429.7 184.7L438.7 184.2L447.7 183.8L456.7 183.4L465.7 183.1L474.7 182.8L483.7 182.6L492.7 182.3L501.7 182.1L510.7 181.9L519.7 181.8L528.7 181.6L537.7 181.4L546.7 181.3L555.7 181.2L564.7 181.0L573.7 180.9L582.7 180.8L591.7 180.7L600.7 180.6L609.7 180.5L618.7 180.4L627.7 180.3L636.7 180.2L645.7 180.1L654.7 180.1L663.7 180.0L672.7 179.9L681.7 179.9L690.7 179.8L699.7 179.7L708.7 179.7L717.7 179.6L726.7 179.6L735.7 179.5L744.7 179.4L753.7 179.4L762.7 179.3L771.7 179.3L780.7 179.2L789.7 179.2L798.7 179.1L807.7 179.1L816.7 179.0L825.7 179.0L834.7 179.0L843.7 178.9L852.7 178.9L861.7 178.8L870.7 178.8L879.7 178.8L888.7 178.7L897.7 178.7L906.7 178.6L915.7 178.6L924.7 178.6L933.7 178.5L942.7 178.5L951.7 178.5L960.7 178.4L969.7 178.4L978.7 178.4L987.7 178.3L996.7 178.3L1005.7 178.3L1014.7 178.2L1023.7 178.2L1032.7 178.2L1041.7 178.1L1050.7 178.1L1059.7 178.1L1068.7 178.0L1077.7 178.0L1082.2 178.0"/>
<path class="b" d="M327.7 624.2L327.8 609.1L327.9 589.8L328.1 567.0L328.3 536.9L328.5 508.1L328.8 474.4L329.0 443.6L329.3 410.6L329.6 381.7L330.0 349.1L330.4 322.5L330.9 296.1L331.4 276.1L332.0 258.3L332.7 243.9L333.5 233.1L334.5 224.9L335.7 219.2L337.2 215.3L339.2 212.1L341.7 209.4L344.7 206.9L348.7 204.3L353.7 201.8L359.7 199.5L366.7 197.5L374.7 195.8L383.7 194.3L393.7 193.1L402.7 192.2L411.7 191.5L420.7 190.9L429.7 190.4L438.7 190.0L447.7 189.6L456.7 189.3L465.7 189.0L474.7 188.7L483.7 188.5L492.7 188.3L501.7 188.1L510.7 187.9L519.7 187.7L528.7 187.6L537.7 187.4L546.7 187.3L555.7 187.2L564.7 187.0L573.7 186.9L582.7 186.8L591.7 186.7L600.7 186.6L609.7 186.5L618.7 186.5L627.7 186.4L636.7 186.3L645.7 186.2L654.7 186.2L663.7 186.1L672.7 186.0L681.7 186.0L690.7 185.9L699.7 185.8L708.7 185.8L717.7 185.7L726.7 185.7L735.7 185.6L744.7 185.6L753.7 185.5L762.7 185.5L771.7 185.4L780.7 185.4L789.7 185.3L798.7 185.3L807.7 185.2L816.7 185.2L825.7 185.2L834.7 185.1L843.7 185.1L852.7 185.0L861.7 185.0L870.7 185.0L879.7 184.9L888.7 184.9L897.7 184.8L906.7 184.8L915.7 184.8L924.7 184.7L933.7 184.7L942.7 184.7L951.7 184.6L960.7 184.6L969.7 184.6L978.7 184.5L987.7 184.5L996.7 184.5L1005.7 184.5L1014.7 184.4L1023.7 184.4L1032.7 184.4L1041.7 184.3L1050.7 184.3L1059.7 184.3L1068.7 184.2L1077.7 184.2L1082.2 184.2"/>
<path class="b" d="M327.7 624.2L327.8 610.6L327.9 593.2L328.1 572.6L328.3 545.2L328.5 518.8L328.8 487.8L329.0 459.3L329.3 428.6L329.6 401.4L330.0 370.4L330.4 344.7L330.9 319.0L331.4 299.1L332.0 281.1L332.7 266.3L333.5 254.9L334.5 246.0L335.7 239.7L337.2 235.2L339.2 231.6L341.7 228.6L344.7 225.8L348.7 223.0L353.7 220.3L359.7 217.9L366.7 215.8L374.7 214.0L383.7 212.5L393.7 211.2L402.7 210.3L411.7 209.6L420.7 208.9L429.7 208.4L438.7 208.0L447.7 207.6L456.7 207.3L465.7 207.0L474.7 206.7L483.7 206.4L492.7 206.2L501.7 206.0L510.7 205.8L519.7 205.7L528.7 205.5L537.7 205.4L546.7 205.2L555.7 205.1L564.7 205.0L573.7 204.9L582.7 204.8L591.7 204.7L600.7 204.6L609.7 204.5L618.7 204.4L627.7 204.3L636.7 204.3L645.7 204.2L654.7 204.1L663.7 204.1L672.7 204.0L681.7 203.9L690.7 203.9L699.7 203.8L708.7 203.8L717.7 203.7L726.7 203.6L735.7 203.6L744.7 203.5L753.7 203.5L762.7 203.4L771.7 203.4L780.7 203.3L789.7 203.3L798.7 203.3L807.7 203.2L816.7 203.2L825.7 203.1L834.7 203.1L843.7 203.1L852.7 203.0L861.7 203.0L870.7 202.9L879.7 202.9L888.7 202.9L897.7 202.8L906.7 202.8L915.7 202.8L924.7 202.7L933.7 202.7L942.7 202.7L951.7 202.6L960.7 202.6L969.7 202.6L978.7 202.5L987.7 202.5L996.7 202.5L1005.7 202.4L1014.7 202.4L1023.7 202.4L1032.7 202.4L1041.7 202.3L1050.7 202.3L1059.7 202.3L1068.7 202.2L1077.7 202.2L1082.2 202.2"/>
<path class="b" d="M327.7 624.2L327.8 603.7L327.9 578.4L328.1 549.1L328.3 512.1L328.5 478.2L328.8 440.8L329.0 408.7L329.3 376.7L329.6 351.0L330.0 324.5L330.4 305.2L330.9 288.3L331.4 277.2L332.0 268.6L332.7 262.6L333.5 258.6L334.5 255.8L335.7 253.7L337.2 251.9L339.2 249.9L341.7 247.8L344.7 245.8L348.7 243.7L353.7 241.6L359.7 239.7L366.7 238.1L374.7 236.6L383.7 235.4L393.7 234.4L402.7 233.6L411.7 233.0L420.7 232.5L429.7 232.1L438.7 231.7L447.7 231.4L456.7 231.1L465.7 230.9L474.7 230.6L483.7 230.4L492.7 230.2L501.7 230.1L510.7 229.9L519.7 229.8L528.7 229.6L537.7 229.5L546.7 229.4L555.7 229.3L564.7 229.2L573.7 229.1L582.7 229.0L591.7 228.9L600.7 228.8L609.7 228.8L618.7 228.7L627.7 228.6L636.7 228.5L645.7 228.5L654.7 228.4L663.7 228.4L672.7 228.3L681.7 228.2L690.7 228.2L699.7 228.1L708.7 228.1L717.7 228.0L726.7 228.0L735.7 227.9L744.7 227.9L753.7 227.9L762.7 227.8L771.7 227.8L780.7 227.7L789.7 227.7L798.7 227.7L807.7 227.6L816.7 227.6L825.7 227.5L834.7 227.5L843.7 227.5L852.7 227.4L861.7 227.4L870.7 227.4L879.7 227.3L888.7 227.3L897.7 227.3L906.7 227.2L915.7 227.2L924.7 227.2L933.7 227.2L942.7 227.1L951.7 227.1L960.7 227.1L969.7 227.0L978.7 227.0L987.7 227.0L996.7 227.0L1005.7 226.9L1014.7 226.9L1023.7 226.9L1032.7 226.8L1041.7 226.8L1050.7 226.8L1059.7 226.8L1068.7 226.7L1077.7 226.7L1082.2 226.7"/>
<path class="b" d="M327.7 624.2L327.8 612.9L327.9 598.5L328.1 581.2L328.3 558.0L328.5 535.5L328.8 508.7L329.0 483.6L329.3 456.0L329.6 431.2L330.0 402.3L330.4 377.7L330.9 352.2L331.4 331.8L332.0 312.8L332.7 296.5L333.5 283.4L334.5 272.7L335.7 264.9L337.2 259.5L339.2 255.6L341.7 252.7L344.7 250.2L348.7 247.8L353.7 245.4L359.7 243.3L366.7 241.4L374.7 239.8L383.7 238.5L393.7 237.3L402.7 236.5L411.7 235.8L420.7 235.2L429.7 234.8L438.7 234.4L447.7 234.0L456.7 233.7L465.7 233.4L474.7 233.2L483.7 233.0L492.7 232.8L501.7 232.6L510.7 232.4L519.7 232.2L528.7 232.1L537.7 232.0L546.7 231.8L555.7 231.7L564.7 231.6L573.7 231.5L582.7 231.4L591.7 231.3L600.7 231.2L609.7 231.2L618.7 231.1L627.7 231.0L636.7 230.9L645.7 230.9L654.7 230.8L663.7 230.7L672.7 230.7L681.7 230.6L690.7 230.6L699.7 230.5L708.7 230.4L717.7 230.4L726.7 230.3L735.7 230.3L744.7 230.3L753.7 230.2L762.7 230.2L771.7 230.1L780.7 230.1L789.7 230.0L798.7 230.0L807.7 230.0L816.7 229.9L825.7 229.9L834.7 229.8L843.7 229.8L852.7 229.8L861.7 229.7L870.7 229.7L879.7 229.7L888.7 229.6L897.7 229.6L906.7 229.6L915.7 229.5L924.7 229.5L933.7 229.5L942.7 229.4L951.7 229.4L960.7 229.4L969.7 229.3L978.7 229.3L987.7 229.3L996.7 229.3L1005.7 229.2L1014.7 229.2L1023.7 229.2L1032.7 229.1L1041.7 229.1L1050.7 229.1L1059.7 229.1L1068.7 229.0L1077.7 229.0L1082.2 229.0"/>
<path class="b" d="M327.7 624.2L327.8 605.7L327.9 582.7L328.1 555.9L328.3 521.9L328.5 490.4L328.8 455.4L329.0 425.1L329.3 394.4L329.6 369.4L330.0 343.2L330.4 323.7L330.9 306.2L331.4 294.3L332.0 284.8L332.7 278.0L333.5 273.3L334.5 269.8L335.7 267.2L337.2 264.8L339.2 262.3L341.7 259.7L344.7 257.3L348.7 254.6L353.7 252.1L359.7 249.8L366.7 247.8L374.7 246.1L383.7 244.6L393.7 243.4L402.7 242.5L411.7 241.8L420.7 241.2L429.7 240.7L438.7 240.2L447.7 239.9L456.7 239.5L465.7 239.2L474.7 239.0L483.7 238.7L492.7 238.5L501.7 238.3L510.7 238.1L519.7 238.0L528.7 237.8L537.7 237.7L546.7 237.6L555.7 237.4L564.7 237.3L573.7 237.2L582.7 237.1L591.7 237.0L600.7 236.9L609.7 236.8L618.7 236.8L627.7 236.7L636.7 236.6L645.7 236.5L654.7 236.5L663.7 236.4L672.7 236.3L681.7 236.3L690.7 236.2L699.7 236.1L708.7 236.1L717.7 236.0L726.7 236.0L735.7 235.9L744.7 235.9L753.7 235.8L762.7 235.8L771.7 235.7L780.7 235.7L789.7 235.7L798.7 235.6L807.7 235.6L816.7 235.5L825.7 235.5L834.7 235.5L843.7 235.4L852.7 235.4L861.7 235.3L870.7 235.3L879.7 235.3L888.7 235.2L897.7 235.2L906.7 235.2L915.7 235.1L924.7 235.1L933.7 235.1L942.7 235.0L951.7 235.0L960.7 235.0L969.7 235.0L978.7 234.9L987.7 234.9L996.7 234.9L1005.7 234.8L1014.7 234.8L1023.7 234.8L1032.7 234.7L1041.7 234.7L1050.7 234.7L1059.7 234.7L1068.7 234.6L1077.7 234.6L1082.2 234.6"/>
<path class="b" d="M327.7 624.2L327.8 614.3L327.9 601.6L328.1 586.4L328.3 566.1L328.5 546.3L328.8 522.7L329.0 500.7L329.3 476.6L329.6 454.9L330.0 429.6L330.4 408.1L330.9 386.0L331.4 368.3L332.0 351.8L332.7 337.7L333.5 326.4L334.5 317.2L335.7 310.6L337.2 305.9L339.2 302.5L341.7 300.0L344.7 297.9L348.7 295.7L353.7 293.7L359.7 291.8L366.7 290.2L374.7 288.9L383.7 287.7L393.7 286.7L402.7 286.0L411.7 285.5L420.7 285.0L429.7 284.6L438.7 284.2L447.7 283.9L456.7 283.7L465.7 283.4L474.7 283.2L483.7 283.1L492.7 282.9L501.7 282.7L510.7 282.6L519.7 282.5L528.7 282.3L537.7 282.2L546.7 282.1L555.7 282.0L564.7 281.9L573.7 281.8L582.7 281.8L591.7 281.7L600.7 281.6L609.7 281.5L618.7 281.5L627.7 281.4L636.7 281.3L645.7 281.3L654.7 281.2L663.7 281.2L672.7 281.1L681.7 281.1L690.7 281.0L699.7 281.0L708.7 280.9L717.7 280.9L726.7 280.8L735.7 280.8L744.7 280.8L753.7 280.7L762.7 280.7L771.7 280.7L780.7 280.6L789.7 280.6L798.7 280.5L807.7 280.5L816.7 280.5L825.7 280.4L834.7 280.4L843.7 280.4L852.7 280.4L861.7 280.3L870.7 280.3L879.7 280.3L888.7 280.2L897.7 280.2L906.7 280.2L915.7 280.2L924.7 280.1L933.7 280.1L942.7 280.1L951.7 280.0L960.7 280.0L969.7 280.0L978.7 280.0L987.7 279.9L996.7 279.9L1005.7 279.9L1014.7 279.9L1023.7 279.8L1032.7 279.8L1041.7 279.8L1050.7 279.8L1059.7 279.8L1068.7 279.7L1077.7 279.7L1082.2 279.7"/>
<path class="b" d="M327.7 624.2L327.8 610.9L327.9 594.3L328.1 574.7L328.3 549.3L328.5 525.4L328.8 498.1L329.0 473.8L329.3 448.5L329.6 427.1L330.0 403.9L330.4 385.7L330.9 368.6L331.4 356.3L332.0 346.0L332.7 338.2L333.5 332.7L334.5 328.7L335.7 326.0L337.2 323.9L339.2 322.0L341.7 320.1L344.7 318.3L348.7 316.5L353.7 314.7L359.7 313.1L366.7 311.6L374.7 310.4L383.7 309.4L393.7 308.5L402.7 307.9L411.7 307.4L420.7 307.0L429.7 306.6L438.7 306.3L447.7 306.0L456.7 305.8L465.7 305.6L474.7 305.4L483.7 305.2L492.7 305.1L501.7 304.9L510.7 304.8L519.7 304.7L528.7 304.6L537.7 304.5L546.7 304.4L555.7 304.3L564.7 304.2L573.7 304.1L582.7 304.1L591.7 304.0L600.7 303.9L609.7 303.9L618.7 303.8L627.7 303.8L636.7 303.7L645.7 303.6L654.7 303.6L663.7 303.5L672.7 303.5L681.7 303.5L690.7 303.4L699.7 303.4L708.7 303.3L717.7 303.3L726.7 303.3L735.7 303.2L744.7 303.2L753.7 303.1L762.7 303.1L771.7 303.1L780.7 303.0L789.7 303.0L798.7 303.0L807.7 302.9L816.7 302.9L825.7 302.9L834.7 302.9L843.7 302.8L852.7 302.8L861.7 302.8L870.7 302.7L879.7 302.7L888.7 302.7L897.7 302.7L906.7 302.6L915.7 302.6L924.7 302.6L933.7 302.6L942.7 302.5L951.7 302.5L960.7 302.5L969.7 302.5L978.7 302.4L987.7 302.4L996.7 302.4L1005.7 302.4L1014.7 302.4L1023.7 302.3L1032.7 302.3L1041.7 302.3L1050.7 302.3L1059.7 302.3L1068.7 302.2L1077.7 302.2L1082.2 302.2"/>
<path class="b" d="M327.7 624.2L327.8 612.3L327.9 597.3L328.1 579.5L328.3 556.3L328.5 534.3L328.8 508.9L329.0 485.9L329.3 461.6L329.6 440.8L330.0 417.6L330.4 399.1L330.9 381.3L331.4 368.1L332.0 356.7L332.7 347.7L333.5 341.2L334.5 336.3L335.7 332.9L337.2 330.4L339.2 328.2L341.7 326.1L344.7 324.2L348.7 322.1L353.7 320.1L359.7 318.3L366.7 316.7L374.7 315.3L383.7 314.2L393.7 313.2L402.7 312.5L411.7 312.0L420.7 311.5L429.7 311.1L438.7 310.8L447.7 310.5L456.7 310.2L465.7 310.0L474.7 309.8L483.7 309.6L492.7 309.4L501.7 309.3L510.7 309.1L519.7 309.0L528.7 308.9L537.7 308.8L546.7 308.7L555.7 308.6L564.7 308.5L573.7 308.4L582.7 308.3L591.7 308.2L600.7 308.1L609.7 308.1L618.7 308.0L627.7 308.0L636.7 307.9L645.7 307.8L654.7 307.8L663.7 307.7L672.7 307.7L681.7 307.6L690.7 307.6L699.7 307.5L708.7 307.5L717.7 307.4L726.7 307.4L735.7 307.4L744.7 307.3L753.7 307.3L762.7 307.3L771.7 307.2L780.7 307.2L789.7 307.1L798.7 307.1L807.7 307.1L816.7 307.0L825.7 307.0L834.7 307.0L843.7 307.0L852.7 306.9L861.7 306.9L870.7 306.9L879.7 306.8L888.7 306.8L897.7 306.8L906.7 306.8L915.7 306.7L924.7 306.7L933.7 306.7L942.7 306.7L951.7 306.6L960.7 306.6L969.7 306.6L978.7 306.6L987.7 306.5L996.7 306.5L1005.7 306.5L1014.7 306.5L1023.7 306.4L1032.7 306.4L1041.7 306.4L1050.7 306.4L1059.7 306.4L1068.7 306.3L1077.7 306.3L1082.2 306.3"/>
<path class="b" d="M327.7 624.2L327.8 609.5L327.9 591.3L328.1 570.3L328.3 543.8L328.5 519.8L328.8 493.3L329.0 470.7L329.3 448.4L329.6 430.5L330.0 412.2L330.4 398.9L330.9 387.3L331.4 379.5L332.0 373.4L332.7 369.0L333.5 365.7L334.5 363.0L335.7 360.7L337.2 358.3L339.2 355.7L341.7 353.0L344.7 350.3L348.7 347.5L353.7 344.8L359.7 342.4L366.7 340.3L374.7 338.5L383.7 336.9L393.7 335.6L402.7 334.7L411.7 333.9L420.7 333.3L429.7 332.8L438.7 332.3L447.7 331.9L456.7 331.6L465.7 331.3L474.7 331.0L483.7 330.8L492.7 330.5L501.7 330.3L510.7 330.1L519.7 330.0L528.7 329.8L537.7 329.7L546.7 329.5L555.7 329.4L564.7 329.3L573.7 329.2L582.7 329.1L591.7 329.0L600.7 328.9L609.7 328.8L618.7 328.7L627.7 328.7L636.7 328.6L645.7 328.5L654.7 328.4L663.7 328.4L672.7 328.3L681.7 328.2L690.7 328.2L699.7 328.1L708.7 328.1L717.7 328.0L726.7 328.0L735.7 327.9L744.7 327.9L753.7 327.8L762.7 327.8L771.7 327.7L780.7 327.7L789.7 327.7L798.7 327.6L807.7 327.6L816.7 327.5L825.7 327.5L834.7 327.5L843.7 327.4L852.7 327.4L861.7 327.4L870.7 327.3L879.7 327.3L888.7 327.3L897.7 327.2L906.7 327.2L915.7 327.2L924.7 327.2L933.7 327.1L942.7 327.1L951.7 327.1L960.7 327.0L969.7 327.0L978.7 327.0L987.7 327.0L996.7 326.9L1005.7 326.9L1014.7 326.9L1023.7 326.9L1032.7 326.8L1041.7 326.8L1050.7 326.8L1059.7 326.8L1068.7 326.7L1077.7 326.7L1082.2 326.7"/>
<path class="b" d="M327.7 624.2L327.8 616.1L327.9 605.7L328.1 593.4L328.3 577.2L328.5 561.5L328.8 543.2L329.0 526.3L329.3 508.1L329.6 492.1L330.0 473.9L330.4 458.9L330.9 443.8L331.4 432.3L332.0 421.9L332.7 413.4L333.5 407.0L334.5 402.0L335.7 398.7L337.2 396.3L339.2 394.6L341.7 393.2L344.7 392.0L348.7 390.7L353.7 389.4L359.7 388.3L366.7 387.3L374.7 386.4L383.7 385.7L393.7 385.1L402.7 384.6L411.7 384.3L420.7 384.0L429.7 383.7L438.7 383.5L447.7 383.3L456.7 383.1L465.7 383.0L474.7 382.8L483.7 382.7L492.7 382.6L501.7 382.5L510.7 382.4L519.7 382.3L528.7 382.2L537.7 382.2L546.7 382.1L555.7 382.0L564.7 382.0L573.7 381.9L582.7 381.9L591.7 381.8L600.7 381.8L609.7 381.7L618.7 381.7L627.7 381.6L636.7 381.6L645.7 381.6L654.7 381.5L663.7 381.5L672.7 381.5L681.7 381.4L690.7 381.4L699.7 381.4L708.7 381.3L717.7 381.3L726.7 381.3L735.7 381.2L744.7 381.2L753.7 381.2L762.7 381.2L771.7 381.1L780.7 381.1L789.7 381.1L798.7 381.1L807.7 381.1L816.7 381.0L825.7 381.0L834.7 381.0L843.7 381.0L852.7 380.9L861.7 380.9L870.7 380.9L879.7 380.9L888.7 380.9L897.7 380.8L906.7 380.8L915.7 380.8L924.7 380.8L933.7 380.8L942.7 380.8L951.7 380.7L960.7 380.7L969.7 380.7L978.7 380.7L987.7 380.7L996.7 380.7L1005.7 380.6L1014.7 380.6L1023.7 380.6L1032.7 380.6L1041.7 380.6L1050.7 380.6L1059.7 380.5L1068.7 380.5L1077.7 380.5L1082.2 380.5"/>
<path class="b" d="M327.7 624.2L327.8 620.7L327.9 616.2L328.1 610.9L328.3 604.0L328.5 597.4L328.8 589.8L329.0 582.8L329.3 575.5L329.6 569.2L330.0 562.2L330.4 556.5L330.9 551.0L331.4 546.9L332.0 543.4L332.7 540.7L333.5 538.8L334.5 537.4L335.7 536.6L337.2 536.0L339.2 535.7L341.7 535.4L344.7 535.2L348.7 535.0L353.7 534.8L359.7 534.6L366.7 534.4L374.7 534.2L383.7 534.1L393.7 534.0L402.7 533.9L411.7 533.8L420.7 533.8L429.7 533.7L438.7 533.7L447.7 533.6L456.7 533.6L465.7 533.6L474.7 533.6L483.7 533.5L492.7 533.5L501.7 533.5L510.7 533.5L519.7 533.5L528.7 533.4L537.7 533.4L546.7 533.4L555.7 533.4L564.7 533.4L573.7 533.4L582.7 533.4L591.7 533.3L600.7 533.3L609.7 533.3L618.7 533.3L627.7 533.3L636.7 533.3L645.7 533.3L654.7 533.3L663.7 533.3L672.7 533.3L681.7 533.3L690.7 533.2L699.7 533.2L708.7 533.2L717.7 533.2L726.7 533.2L735.7 533.2L744.7 533.2L753.7 533.2L762.7 533.2L771.7 533.2L780.7 533.2L789.7 533.2L798.7 533.2L807.7 533.2L816.7 533.2L825.7 533.1L834.7 533.1L843.7 533.1L852.7 533.1L861.7 533.1L870.7 533.1L879.7 533.1L888.7 533.1L897.7 533.1L906.7 533.1L915.7 533.1L924.7 533.1L933.7 533.1L942.7 533.1L951.7 533.1L960.7 533.1L969.7 533.1L978.7 533.1L987.7 533.1L996.7 533.0L1005.7 533.0L1014.7 533.0L1023.7 533.0L1032.7 533.0L1041.7 533.0L1050.7 533.0L1059.7 533.0L1068.7 533.0L1077.7 533.0L1082.2 533.0"/>
<path class="b" style="stroke-width:1.4;opacity:.45" d="M327.7 624.2L327.8 593.6L327.9 556.3L328.1 514.3L328.3 462.8L328.5 417.5L328.8 369.8L329.0 331.0L329.3 294.5L329.6 267.0L330.0 240.9L330.4 223.4L330.9 209.6L331.4 201.3L332.0 195.4L332.7 191.5L333.5 188.9L334.5 186.8L335.7 184.9L337.2 182.9L339.2 180.6L341.7 178.3L344.7 175.9L348.7 173.5L353.7 171.1L359.7 168.9L366.7 167.0L374.7 165.4L383.7 164.0L393.7 162.8L402.7 161.9L411.7 161.2L420.7 160.7L429.7 160.2L438.7 159.7L447.7 159.4L456.7 159.0L465.7 158.8L474.7 158.5L483.7 158.3L492.7 158.1L501.7 157.9L510.7 157.7L519.7 157.5L528.7 157.4L537.7 157.2L546.7 157.1L555.7 157.0L564.7 156.9L573.7 156.8L582.7 156.6L591.7 156.6L600.7 156.5L609.7 156.4L618.7 156.3L627.7 156.2L636.7 156.1L645.7 156.1L654.7 156.0L663.7 155.9L672.7 155.8L681.7 155.8L690.7 155.7L699.7 155.7L708.7 155.6L717.7 155.6L726.7 155.5L735.7 155.4L744.7 155.4L753.7 155.3L762.7 155.3L771.7 155.2L780.7 155.2L789.7 155.2L798.7 155.1L807.7 155.1L816.7 155.0L825.7 155.0L834.7 154.9L843.7 154.9L852.7 154.9L861.7 154.8L870.7 154.8L879.7 154.7L888.7 154.7L897.7 154.7L906.7 154.6L915.7 154.6L924.7 154.6L933.7 154.5L942.7 154.5L951.7 154.5L960.7 154.4L969.7 154.4L978.7 154.4L987.7 154.3L996.7 154.3L1005.7 154.3L1014.7 154.2L1023.7 154.2L1032.7 154.2L1041.7 154.1L1050.7 154.1L1059.7 154.1L1068.7 154.0L1077.7 154.0L1082.2 154.0"/>
</g>
<path class="ax" d="M325.3 43.2V624.2H1110.0"/>
<path class="ax" d="M325.3 562.5h10.5M325.3 500.8h10.5M325.3 439.1h10.5M325.3 377.4h10.5M325.3 315.8h10.5M325.3 254.1h10.5M325.3 192.4h10.5M325.3 130.7h10.5M325.3 69.0h10.5M410.4 624.2v-11M495.4 624.2v-11M580.5 624.2v-11M665.5 624.2v-11M750.5 624.2v-11M835.6 624.2v-11M920.7 624.2v-11M1005.7 624.2v-11M1090.8 624.2v-11"/>
<text x="306" y="638.0" text-anchor="end">0.0</text>
<text x="306" y="576.3" text-anchor="end">0.5</text>
<text x="306" y="514.6" text-anchor="end">1.0</text>
<text x="306" y="452.9" text-anchor="end">1.5</text>
<text x="306" y="391.2" text-anchor="end">2.0</text>
<text x="306" y="329.6" text-anchor="end">2.5</text>
<text x="306" y="267.9" text-anchor="end">3.0</text>
<text x="306" y="206.2" text-anchor="end">3.5</text>
<text x="306" y="144.5" text-anchor="end">4.0</text>
<text x="306" y="82.8" text-anchor="end">4.5</text>
<text transform="translate(347.1 659) rotate(-45)" text-anchor="end">0</text>
<text transform="translate(432.2 659) rotate(-45)" text-anchor="end">2500</text>
<text transform="translate(517.2 659) rotate(-45)" text-anchor="end">5000</text>
<text transform="translate(602.2 659) rotate(-45)" text-anchor="end">7500</text>
<text transform="translate(687.3 659) rotate(-45)" text-anchor="end">10000</text>
<text transform="translate(772.3 659) rotate(-45)" text-anchor="end">12500</text>
<text transform="translate(857.4 659) rotate(-45)" text-anchor="end">15000</text>
<text transform="translate(942.5 659) rotate(-45)" text-anchor="end">17500</text>
<text transform="translate(1027.5 659) rotate(-45)" text-anchor="end">20000</text>
<text transform="translate(1112.5 659) rotate(-45)" text-anchor="end">22500</text>
<text x="183" y="37.1">A</text>
<text transform="translate(223.3 333) rotate(-90)" text-anchor="middle" class="cj" style="letter-spacing:.3px">OTU水平Shannon指数</text>
<text x="717.3" y="790.5" text-anchor="middle" class="cj" style="letter-spacing:.8px">读取采样数</text>
<path d="M360.3 22.3H422.9" stroke="#e71d36" stroke-width="5" fill="none"/>
<path d="M360.3 73.4H422.9" stroke="#2148e0" stroke-width="5" fill="none"/>
<text x="439" y="36.8">D0</text>
<text x="439" y="87">D28</text>
<g class="cb">
<path class="r" d="M325.5 1026.3L326.8 1046.1L328.0 1057.5L329.3 1067.2L330.5 1074.5L331.8 1083.0L333.0 1090.2L334.3 1096.5L335.5 1103.8L336.8 1108.6L338.0 1113.6L339.3 1118.2L340.5 1121.3L341.8 1125.6L343.0 1133.5L344.2 1139.1L345.5 1144.5L346.7 1152.2L348.0 1158.1L349.2 1160.1L350.5 1168.7L351.7 1174.6L353.0 1179.3L354.2 1182.4L355.5 1184.5L356.7 1188.0L358.0 1194.3L359.2 1200.0L360.4 1206.6L361.7 1208.4L362.9 1212.2L364.2 1218.5L365.4 1218.5L366.7 1220.8L367.9 1223.3L369.2 1225.8L370.4 1231.4L371.7 1234.5L372.9 1237.7L374.2 1241.3L375.4 1241.3L376.7 1249.2L377.9 1249.2L379.1 1253.7L380.4 1258.7L381.6 1258.7L382.9 1264.3L384.1 1264.3L385.4 1270.6L387.9 1270.6L389.1 1277.9L390.4 1286.6L395.4 1286.6L396.6 1297.2L402.8 1297.2L404.1 1310.8L411.6 1310.8L412.8 1330.2L440.2 1330.2L441.5 1365.4L552.4 1365.4"/>
<path class="r" d="M325.5 1018.7L326.8 1033.3L328.0 1046.6L329.3 1055.2L330.5 1062.4L331.8 1066.6L333.0 1073.1L334.3 1075.0L335.5 1081.2L336.8 1083.4L338.0 1088.5L339.3 1093.8L340.5 1103.8L341.8 1110.7L343.0 1115.3L344.2 1121.9L345.5 1128.9L346.7 1135.9L348.0 1139.1L349.2 1140.9L350.5 1144.0L351.7 1152.8L353.0 1156.3L354.2 1158.1L355.5 1166.4L356.7 1168.7L358.0 1172.9L359.2 1177.4L360.4 1178.3L361.7 1182.4L362.9 1188.0L364.2 1188.0L365.4 1189.2L366.7 1190.4L367.9 1194.3L369.2 1198.5L370.4 1201.6L371.7 1206.6L372.9 1210.2L374.2 1212.2L375.4 1214.2L376.7 1218.5L377.9 1220.8L379.1 1220.8L380.4 1225.8L381.6 1228.5L382.9 1228.5L384.1 1234.5L386.6 1234.5L387.9 1237.7L389.1 1245.1L390.4 1249.2L391.6 1253.7L392.9 1253.7L394.1 1258.7L397.8 1258.7L399.1 1264.3L400.3 1270.6L401.6 1270.6L402.8 1277.9L405.3 1277.9L406.6 1286.6L411.6 1286.6L412.8 1297.2L416.5 1297.2L417.8 1310.8L427.8 1310.8L429.0 1330.2L460.2 1330.2L461.4 1365.4L573.6 1365.4"/>
<path class="r" d="M325.5 982.1L326.8 1008.8L328.0 1027.3L329.3 1039.5L330.5 1048.1L331.8 1055.0L333.0 1062.9L334.3 1067.7L335.5 1073.2L336.8 1080.1L338.0 1084.7L339.3 1090.1L340.5 1095.5L341.8 1100.9L343.0 1105.6L344.2 1109.8L345.5 1112.3L346.7 1118.0L348.0 1125.6L349.2 1131.0L350.5 1133.9L351.7 1138.7L353.0 1141.7L354.2 1146.9L355.5 1151.7L356.7 1158.1L358.0 1163.5L359.2 1164.9L360.4 1167.9L361.7 1172.0L362.9 1174.6L364.2 1179.3L365.4 1182.4L366.7 1183.4L367.9 1188.0L369.2 1188.0L370.4 1193.0L371.7 1194.3L372.9 1197.1L374.2 1198.5L375.4 1200.0L376.7 1203.2L377.9 1203.2L379.1 1208.4L380.4 1210.2L381.6 1214.2L382.9 1216.3L384.1 1218.5L385.4 1218.5L386.6 1223.3L387.9 1223.3L389.1 1225.8L390.4 1228.5L391.6 1231.4L392.9 1234.5L394.1 1237.7L395.4 1241.3L396.6 1245.1L404.1 1245.1L405.3 1249.2L406.6 1253.7L407.8 1258.7L409.1 1264.3L411.6 1264.3L412.8 1270.6L414.0 1270.6L415.3 1277.9L419.0 1277.9L420.3 1286.6L424.0 1286.6L425.3 1297.2L430.3 1297.2L431.5 1310.8L446.5 1310.8L447.7 1330.2L485.1 1330.2L486.3 1365.4L572.4 1365.4"/>
<path class="r" d="M325.5 966.9L326.8 997.4L328.0 1015.4L329.3 1024.4L330.5 1034.0L331.8 1043.3L333.0 1052.6L334.3 1059.7L335.5 1068.5L336.8 1073.1L338.0 1078.5L339.3 1085.6L340.5 1093.7L341.8 1099.7L343.0 1105.6L344.2 1111.2L345.5 1117.7L346.7 1121.3L348.0 1123.4L349.2 1129.9L350.5 1135.1L351.7 1140.9L353.0 1144.0L354.2 1148.5L355.5 1153.3L356.7 1156.3L358.0 1162.8L359.2 1167.2L360.4 1171.2L361.7 1177.4L362.9 1180.3L364.2 1185.6L365.4 1188.0L367.9 1188.0L369.2 1190.4L370.4 1190.4L371.7 1193.0L372.9 1194.3L374.2 1200.0L375.4 1201.6L376.7 1206.6L377.9 1206.6L379.1 1208.4L380.4 1212.2L381.6 1212.2L382.9 1214.2L384.1 1218.5L385.4 1220.8L386.6 1220.8L387.9 1223.3L389.1 1228.5L391.6 1228.5L392.9 1231.4L394.1 1234.5L395.4 1237.7L399.1 1237.7L400.3 1241.3L401.6 1245.1L404.1 1245.1L405.3 1249.2L406.6 1249.2L407.8 1253.7L409.1 1253.7L410.3 1258.7L414.0 1258.7L415.3 1264.3L416.5 1264.3L417.8 1270.6L419.0 1270.6L420.3 1277.9L427.8 1277.9L429.0 1286.6L431.5 1286.6L432.7 1297.2L439.0 1297.2L440.2 1310.8L452.7 1310.8L453.9 1330.2L493.8 1330.2L495.1 1365.4L601.0 1365.4"/>
<path class="r" d="M325.5 965.4L326.8 991.9L328.0 1010.6L329.3 1022.1L330.5 1031.7L331.8 1040.0L333.0 1047.3L334.3 1053.8L335.5 1059.6L336.8 1066.0L338.0 1072.8L339.3 1075.2L340.5 1080.3L341.8 1086.0L343.0 1091.9L344.2 1097.0L345.5 1107.1L346.7 1114.6L348.0 1118.8L349.2 1125.0L350.5 1129.9L351.7 1136.7L353.0 1140.4L354.2 1144.5L355.5 1149.5L356.7 1152.2L358.0 1153.9L359.2 1158.1L360.4 1160.7L361.7 1163.5L362.9 1167.9L364.2 1170.3L365.4 1172.9L366.7 1177.4L367.9 1180.3L369.2 1186.8L370.4 1188.0L371.7 1190.4L372.9 1191.7L374.2 1194.3L375.4 1197.1L376.7 1198.5L377.9 1198.5L379.1 1201.6L380.4 1203.2L381.6 1206.6L389.1 1206.6L390.4 1210.2L391.6 1212.2L392.9 1212.2L394.1 1214.2L395.4 1216.3L396.6 1216.3L397.8 1220.8L399.1 1223.3L400.3 1225.8L401.6 1228.5L406.6 1228.5L407.8 1231.4L409.1 1231.4L410.3 1234.5L414.0 1234.5L415.3 1237.7L420.3 1237.7L421.5 1241.3L422.8 1241.3L424.0 1245.1L425.3 1245.1L426.5 1249.2L429.0 1249.2L430.3 1253.7L437.7 1253.7L439.0 1258.7L446.5 1258.7L447.7 1264.3L450.2 1264.3L451.4 1270.6L453.9 1270.6L455.2 1277.9L465.2 1277.9L466.4 1286.6L475.1 1286.6L476.4 1297.2L491.3 1297.2L492.6 1310.8L520.0 1310.8L521.2 1330.2L549.9 1330.2L551.2 1365.4L670.8 1365.4"/>
<path class="r" d="M325.5 988.9L326.8 1006.4L328.0 1018.0L329.3 1025.6L330.5 1032.4L331.8 1040.9L333.0 1045.9L334.3 1050.0L335.5 1056.8L336.8 1065.1L338.0 1069.3L339.3 1078.8L340.5 1086.3L341.8 1095.7L343.0 1102.0L344.2 1107.1L345.5 1111.2L346.7 1116.9L348.0 1121.6L349.2 1125.9L350.5 1133.9L351.7 1139.1L353.0 1145.9L354.2 1146.4L355.5 1149.5L356.7 1154.5L358.0 1160.1L359.2 1163.5L360.4 1167.9L361.7 1172.9L362.9 1172.9L364.2 1174.6L365.4 1176.4L366.7 1177.4L367.9 1181.3L369.2 1183.4L370.4 1188.0L371.7 1191.7L372.9 1193.0L379.1 1193.0L380.4 1195.7L381.6 1198.5L382.9 1201.6L384.1 1201.6L385.4 1203.2L386.6 1206.6L387.9 1208.4L389.1 1210.2L390.4 1216.3L391.6 1216.3L392.9 1218.5L396.6 1218.5L397.8 1220.8L402.8 1220.8L404.1 1223.3L405.3 1225.8L406.6 1228.5L410.3 1228.5L411.6 1231.4L412.8 1234.5L414.0 1237.7L416.5 1237.7L417.8 1241.3L422.8 1241.3L424.0 1245.1L429.0 1245.1L430.3 1249.2L431.5 1249.2L432.7 1253.7L435.2 1253.7L436.5 1258.7L446.5 1258.7L447.7 1264.3L450.2 1264.3L451.4 1270.6L465.2 1270.6L466.4 1277.9L473.9 1277.9L475.1 1286.6L481.4 1286.6L482.6 1297.2L496.3 1297.2L497.6 1310.8L522.5 1310.8L523.7 1330.2L553.7 1330.2L554.9 1365.4L687.0 1365.4"/>
<path class="r" d="M325.5 935.8L326.8 977.0L328.0 1001.5L329.3 1018.2L330.5 1029.3L331.8 1038.9L333.0 1046.7L334.3 1054.9L335.5 1056.5L336.8 1061.1L338.0 1063.5L339.3 1068.2L340.5 1071.2L341.8 1075.9L343.0 1083.8L344.2 1090.2L345.5 1097.9L346.7 1106.3L348.0 1113.6L349.2 1115.8L350.5 1118.8L351.7 1122.2L353.0 1128.2L354.2 1133.2L355.5 1135.1L356.7 1140.9L358.0 1144.5L359.2 1145.9L360.4 1150.0L361.7 1152.2L362.9 1152.8L364.2 1158.1L365.4 1162.1L366.7 1164.9L367.9 1164.9L369.2 1167.2L370.4 1170.3L371.7 1172.9L372.9 1174.6L374.2 1178.3L375.4 1178.3L376.7 1180.3L377.9 1182.4L379.1 1183.4L380.4 1185.6L381.6 1185.6L382.9 1188.0L384.1 1190.4L385.4 1194.3L389.1 1194.3L390.4 1198.5L391.6 1200.0L392.9 1200.0L394.1 1201.6L395.4 1203.2L396.6 1204.9L397.8 1210.2L401.6 1210.2L402.8 1214.2L404.1 1216.3L405.3 1218.5L409.1 1218.5L410.3 1220.8L411.6 1220.8L412.8 1225.8L414.0 1228.5L415.3 1231.4L421.5 1231.4L422.8 1234.5L424.0 1237.7L427.8 1237.7L429.0 1241.3L430.3 1245.1L431.5 1249.2L435.2 1249.2L436.5 1253.7L442.7 1253.7L444.0 1258.7L446.5 1258.7L447.7 1264.3L450.2 1264.3L451.4 1270.6L462.7 1270.6L463.9 1277.9L471.4 1277.9L472.6 1286.6L482.6 1286.6L483.9 1297.2L497.6 1297.2L498.8 1310.8L520.0 1310.8L521.2 1330.2L557.4 1330.2L558.6 1365.4L703.2 1365.4"/>
<path class="r" d="M325.5 977.7L326.8 996.6L328.0 1012.4L329.3 1022.6L330.5 1029.0L331.8 1035.8L333.0 1042.9L334.3 1049.7L335.5 1056.2L336.8 1061.2L338.0 1067.2L339.3 1075.8L340.5 1080.0L341.8 1088.9L343.0 1095.3L344.2 1103.8L345.5 1107.5L346.7 1112.3L348.0 1117.4L349.2 1121.0L350.5 1127.5L351.7 1131.0L353.0 1134.7L354.2 1140.4L355.5 1146.4L356.7 1147.9L358.0 1151.1L359.2 1155.1L360.4 1155.7L361.7 1158.8L362.9 1162.8L364.2 1167.9L365.4 1170.3L366.7 1170.3L367.9 1172.0L369.2 1172.9L370.4 1172.9L371.7 1176.4L372.9 1178.3L374.2 1180.3L375.4 1184.5L376.7 1184.5L377.9 1185.6L379.1 1190.4L380.4 1193.0L381.6 1194.3L382.9 1197.1L384.1 1200.0L385.4 1203.2L386.6 1204.9L387.9 1210.2L389.1 1212.2L391.6 1212.2L392.9 1214.2L394.1 1214.2L395.4 1216.3L400.3 1216.3L401.6 1218.5L409.1 1218.5L410.3 1223.3L411.6 1225.8L412.8 1228.5L416.5 1228.5L417.8 1231.4L421.5 1231.4L422.8 1234.5L424.0 1234.5L425.3 1237.7L426.5 1241.3L430.3 1241.3L431.5 1245.1L432.7 1245.1L434.0 1249.2L435.2 1249.2L436.5 1253.7L437.7 1253.7L439.0 1258.7L442.7 1258.7L444.0 1264.3L453.9 1264.3L455.2 1270.6L461.4 1270.6L462.7 1277.9L477.6 1277.9L478.9 1286.6L490.1 1286.6L491.3 1297.2L506.3 1297.2L507.5 1310.8L532.5 1310.8L533.7 1330.2L578.6 1330.2L579.8 1365.4L728.2 1365.4"/>
<path class="r" d="M325.5 923.3L326.8 968.8L328.0 995.2L329.3 1013.3L330.5 1027.5L331.8 1034.5L333.0 1038.4L334.3 1046.2L335.5 1052.6L336.8 1057.1L338.0 1062.6L339.3 1067.5L340.5 1071.0L341.8 1075.1L343.0 1081.3L344.2 1087.2L345.5 1093.2L346.7 1096.4L348.0 1103.0L349.2 1104.4L350.5 1109.8L351.7 1112.3L353.0 1115.3L354.2 1116.9L355.5 1119.9L356.7 1124.6L358.0 1127.5L359.2 1129.2L360.4 1130.6L361.7 1133.9L362.9 1137.5L364.2 1138.7L365.4 1141.7L366.7 1145.9L367.9 1147.9L369.2 1149.0L370.4 1149.5L371.7 1150.6L372.9 1156.3L374.2 1159.4L375.4 1160.7L376.7 1162.1L377.9 1162.1L379.1 1165.7L380.4 1167.2L381.6 1167.2L382.9 1167.9L384.1 1167.9L385.4 1171.2L386.6 1172.9L387.9 1172.9L389.1 1175.5L390.4 1176.4L391.6 1178.3L392.9 1178.3L394.1 1182.4L395.4 1184.5L396.6 1184.5L397.8 1186.8L399.1 1189.2L400.3 1190.4L401.6 1193.0L402.8 1193.0L404.1 1194.3L405.3 1194.3L406.6 1197.1L407.8 1200.0L411.6 1200.0L412.8 1204.9L414.0 1206.6L415.3 1208.4L416.5 1210.2L417.8 1212.2L419.0 1214.2L420.3 1214.2L421.5 1216.3L422.8 1216.3L424.0 1218.5L425.3 1220.8L429.0 1220.8L430.3 1223.3L432.7 1223.3L434.0 1228.5L436.5 1228.5L437.7 1231.4L439.0 1231.4L440.2 1234.5L447.7 1234.5L448.9 1237.7L452.7 1237.7L453.9 1241.3L455.2 1245.1L458.9 1245.1L460.2 1249.2L461.4 1249.2L462.7 1253.7L466.4 1253.7L467.6 1258.7L475.1 1258.7L476.4 1264.3L477.6 1270.6L501.3 1270.6L502.5 1277.9L506.3 1277.9L507.5 1286.6L518.8 1286.6L520.0 1297.2L535.0 1297.2L536.2 1310.8L564.9 1310.8L566.1 1330.2L603.5 1330.2L604.8 1365.4L736.9 1365.4"/>
<path class="r" d="M325.5 962.8L326.8 989.8L328.0 1006.0L329.3 1018.3L330.5 1027.4L331.8 1036.9L333.0 1043.6L334.3 1048.7L335.5 1052.1L336.8 1061.0L338.0 1066.9L339.3 1069.9L340.5 1072.4L341.8 1075.2L343.0 1080.0L344.2 1084.6L345.5 1088.5L346.7 1094.7L348.0 1098.3L349.2 1101.8L350.5 1101.8L351.7 1105.6L353.0 1108.6L354.2 1115.1L355.5 1119.3L356.7 1122.2L358.0 1123.7L359.2 1126.2L360.4 1128.9L361.7 1133.2L362.9 1135.1L364.2 1136.3L365.4 1142.2L366.7 1145.0L367.9 1146.4L369.2 1147.4L370.4 1150.6L371.7 1150.6L372.9 1151.7L374.2 1151.7L375.4 1153.3L376.7 1156.9L377.9 1162.8L379.1 1165.7L380.4 1166.4L381.6 1167.9L382.9 1170.3L384.1 1170.3L385.4 1172.9L386.6 1174.6L390.4 1174.6L391.6 1177.4L392.9 1178.3L394.1 1178.3L395.4 1180.3L399.1 1180.3L400.3 1182.4L401.6 1184.5L404.1 1184.5L405.3 1188.0L406.6 1190.4L407.8 1193.0L409.1 1195.7L411.6 1195.7L412.8 1197.1L414.0 1198.5L415.3 1198.5L416.5 1201.6L417.8 1203.2L419.0 1204.9L420.3 1208.4L421.5 1208.4L422.8 1210.2L424.0 1212.2L426.5 1212.2L427.8 1214.2L429.0 1216.3L430.3 1218.5L437.7 1218.5L439.0 1220.8L440.2 1223.3L441.5 1223.3L442.7 1225.8L444.0 1231.4L448.9 1231.4L450.2 1234.5L452.7 1234.5L453.9 1237.7L455.2 1241.3L456.4 1241.3L457.7 1245.1L466.4 1245.1L467.6 1249.2L468.9 1249.2L470.1 1253.7L472.6 1253.7L473.9 1258.7L482.6 1258.7L483.9 1264.3L492.6 1264.3L493.8 1270.6L506.3 1270.6L507.5 1277.9L517.5 1277.9L518.8 1286.6L542.4 1286.6L543.7 1297.2L563.6 1297.2L564.9 1310.8L594.8 1310.8L596.0 1330.2L633.4 1330.2L634.7 1365.4L780.5 1365.4"/>
<path class="r" d="M325.5 988.3L326.8 1002.5L328.0 1013.9L329.3 1020.2L330.5 1026.0L331.8 1033.6L333.0 1038.7L334.3 1045.0L335.5 1051.7L336.8 1054.6L338.0 1058.0L339.3 1062.5L340.5 1066.4L341.8 1069.0L343.0 1071.9L344.2 1073.1L345.5 1075.3L346.7 1076.8L348.0 1078.5L349.2 1085.6L350.5 1089.8L351.7 1094.3L353.0 1097.7L354.2 1098.1L355.5 1101.6L356.7 1103.4L358.0 1106.7L359.2 1109.1L360.4 1110.9L361.7 1113.1L362.9 1114.8L364.2 1120.8L365.4 1125.3L366.7 1126.9L367.9 1128.9L369.2 1132.4L370.4 1133.5L371.7 1136.7L372.9 1139.6L374.2 1142.2L375.4 1145.5L376.7 1146.4L377.9 1149.0L379.1 1152.2L380.4 1155.7L382.9 1155.7L384.1 1157.5L385.4 1159.4L386.6 1162.1L387.9 1162.1L389.1 1163.5L391.6 1163.5L392.9 1164.9L394.1 1170.3L395.4 1173.7L396.6 1175.5L397.8 1178.3L399.1 1180.3L401.6 1180.3L402.8 1183.4L404.1 1184.5L405.3 1188.0L406.6 1190.4L407.8 1191.7L410.3 1191.7L411.6 1193.0L412.8 1194.3L414.0 1195.7L415.3 1197.1L416.5 1200.0L419.0 1200.0L420.3 1201.6L424.0 1201.6L425.3 1204.9L426.5 1206.6L427.8 1206.6L429.0 1208.4L430.3 1208.4L431.5 1212.2L432.7 1212.2L434.0 1214.2L435.2 1216.3L436.5 1218.5L437.7 1220.8L439.0 1220.8L440.2 1223.3L441.5 1225.8L446.5 1225.8L447.7 1228.5L456.4 1228.5L457.7 1231.4L463.9 1231.4L465.2 1234.5L466.4 1234.5L467.6 1237.7L468.9 1241.3L472.6 1241.3L473.9 1245.1L476.4 1245.1L477.6 1249.2L487.6 1249.2L488.8 1253.7L493.8 1253.7L495.1 1258.7L502.5 1258.7L503.8 1264.3L512.5 1264.3L513.8 1270.6L517.5 1270.6L518.8 1277.9L525.0 1277.9L526.2 1286.6L544.9 1286.6L546.2 1297.2L559.9 1297.2L561.1 1310.8L599.8 1310.8L601.0 1330.2L657.1 1330.2L658.4 1365.4L816.7 1365.4"/>
<path class="r" d="M325.5 971.5L326.8 994.2L328.0 1013.0L329.3 1021.5L330.5 1028.3L331.8 1033.2L333.0 1040.1L334.3 1045.5L335.5 1050.8L336.8 1054.0L338.0 1058.5L339.3 1064.8L340.5 1068.8L341.8 1074.9L343.0 1078.9L344.2 1079.0L345.5 1084.3L346.7 1088.3L348.0 1091.3L349.2 1092.9L350.5 1093.7L351.7 1098.1L353.0 1100.1L354.2 1103.8L355.5 1104.0L356.7 1104.8L358.0 1105.2L359.2 1108.9L360.4 1114.1L361.7 1117.4L362.9 1119.3L364.2 1121.6L365.4 1124.3L366.7 1127.5L367.9 1132.4L369.2 1133.5L370.4 1136.3L371.7 1138.3L372.9 1138.7L374.2 1140.0L375.4 1141.7L376.7 1141.7L377.9 1146.4L379.1 1148.5L380.4 1151.1L381.6 1151.7L382.9 1151.7L384.1 1155.1L385.4 1156.3L386.6 1159.4L387.9 1162.1L389.1 1162.1L390.4 1163.5L391.6 1167.2L392.9 1168.7L394.1 1171.2L395.4 1173.7L396.6 1175.5L397.8 1177.4L399.1 1179.3L400.3 1181.3L401.6 1181.3L402.8 1188.0L404.1 1190.4L405.3 1191.7L406.6 1194.3L407.8 1195.7L409.1 1200.0L410.3 1200.0L411.6 1201.6L414.0 1201.6L415.3 1204.9L416.5 1206.6L419.0 1206.6L420.3 1208.4L421.5 1208.4L422.8 1210.2L424.0 1210.2L425.3 1212.2L426.5 1212.2L427.8 1214.2L432.7 1214.2L434.0 1216.3L435.2 1216.3L436.5 1220.8L439.0 1220.8L440.2 1223.3L441.5 1223.3L442.7 1225.8L446.5 1225.8L447.7 1228.5L448.9 1228.5L450.2 1231.4L452.7 1231.4L453.9 1234.5L457.7 1234.5L458.9 1237.7L460.2 1237.7L461.4 1241.3L471.4 1241.3L472.6 1245.1L473.9 1245.1L475.1 1249.2L476.4 1249.2L477.6 1253.7L482.6 1253.7L483.9 1258.7L488.8 1258.7L490.1 1264.3L493.8 1264.3L495.1 1270.6L505.0 1270.6L506.3 1277.9L531.2 1277.9L532.5 1286.6L538.7 1286.6L539.9 1297.2L561.1 1297.2L562.4 1310.8L594.8 1310.8L596.0 1330.2L662.1 1330.2L663.3 1365.4L812.9 1365.4"/>
<path class="r" d="M325.5 983.9L326.8 1001.9L328.0 1011.4L329.3 1017.3L330.5 1024.2L331.8 1029.0L333.0 1039.4L334.3 1043.9L335.5 1050.4L336.8 1057.7L338.0 1062.7L339.3 1067.5L340.5 1070.4L341.8 1080.8L343.0 1086.5L344.2 1093.0L345.5 1098.6L346.7 1105.0L348.0 1109.5L349.2 1115.6L350.5 1119.9L351.7 1123.4L353.0 1126.9L354.2 1131.7L355.5 1135.1L356.7 1138.3L358.0 1142.6L359.2 1144.5L360.4 1146.9L361.7 1148.5L362.9 1149.0L364.2 1152.8L365.4 1156.3L366.7 1160.1L367.9 1164.2L369.2 1167.9L370.4 1168.7L371.7 1168.7L372.9 1169.5L374.2 1169.5L375.4 1172.9L376.7 1177.4L377.9 1178.3L379.1 1180.3L380.4 1182.4L381.6 1182.4L382.9 1183.4L384.1 1186.8L385.4 1189.2L386.6 1191.7L387.9 1191.7L389.1 1194.3L392.9 1194.3L394.1 1195.7L395.4 1197.1L396.6 1201.6L400.3 1201.6L401.6 1203.2L404.1 1203.2L405.3 1204.9L407.8 1204.9L409.1 1206.6L411.6 1206.6L412.8 1208.4L421.5 1208.4L422.8 1212.2L424.0 1212.2L425.3 1218.5L426.5 1220.8L430.3 1220.8L431.5 1223.3L434.0 1223.3L435.2 1225.8L436.5 1225.8L437.7 1228.5L439.0 1228.5L440.2 1231.4L442.7 1231.4L444.0 1234.5L456.4 1234.5L457.7 1237.7L458.9 1237.7L460.2 1241.3L466.4 1241.3L467.6 1245.1L468.9 1245.1L470.1 1249.2L482.6 1249.2L483.9 1253.7L486.3 1253.7L487.6 1258.7L492.6 1258.7L493.8 1264.3L497.6 1264.3L498.8 1270.6L511.3 1270.6L512.5 1277.9L520.0 1277.9L521.2 1286.6L537.5 1286.6L538.7 1297.2L569.9 1297.2L571.1 1310.8L603.5 1310.8L604.8 1330.2L665.8 1330.2L667.1 1365.4L839.1 1365.4"/>
<path class="r" d="M325.5 932.7L326.8 973.9L328.0 997.6L329.3 1014.0L330.5 1023.9L331.8 1031.1L333.0 1036.5L334.3 1042.7L335.5 1050.5L336.8 1055.0L338.0 1060.1L339.3 1066.2L340.5 1071.5L341.8 1075.2L343.0 1081.6L344.2 1087.6L345.5 1093.8L346.7 1098.8L348.0 1104.0L349.2 1107.8L350.5 1112.6L351.7 1114.8L353.0 1119.1L354.2 1125.6L355.5 1129.2L356.7 1132.4L358.0 1134.3L359.2 1136.7L360.4 1139.1L361.7 1139.1L362.9 1144.5L364.2 1147.9L365.4 1149.0L366.7 1154.5L367.9 1154.5L369.2 1155.7L370.4 1158.1L371.7 1160.7L372.9 1162.8L374.2 1165.7L375.4 1166.4L376.7 1170.3L377.9 1172.9L379.1 1174.6L380.4 1174.6L381.6 1177.4L382.9 1178.3L384.1 1180.3L385.4 1182.4L386.6 1183.4L387.9 1184.5L389.1 1185.6L390.4 1185.6L391.6 1186.8L392.9 1188.0L394.1 1193.0L396.6 1193.0L397.8 1194.3L399.1 1197.1L400.3 1198.5L401.6 1201.6L404.1 1201.6L405.3 1204.9L407.8 1204.9L409.1 1206.6L411.6 1206.6L412.8 1210.2L415.3 1210.2L416.5 1212.2L417.8 1214.2L421.5 1214.2L422.8 1216.3L424.0 1216.3L425.3 1218.5L427.8 1218.5L429.0 1220.8L441.5 1220.8L442.7 1223.3L444.0 1225.8L445.2 1225.8L446.5 1228.5L453.9 1228.5L455.2 1231.4L456.4 1231.4L457.7 1234.5L458.9 1234.5L460.2 1237.7L461.4 1237.7L462.7 1241.3L467.6 1241.3L468.9 1245.1L470.1 1245.1L471.4 1249.2L483.9 1249.2L485.1 1253.7L488.8 1253.7L490.1 1258.7L491.3 1258.7L492.6 1264.3L496.3 1264.3L497.6 1270.6L505.0 1270.6L506.3 1277.9L528.7 1277.9L530.0 1286.6L543.7 1286.6L544.9 1297.2L583.6 1297.2L584.8 1310.8L613.5 1310.8L614.7 1330.2L674.6 1330.2L675.8 1365.4L854.1 1365.4"/>
<path class="r" d="M325.5 952.3L326.8 985.1L328.0 1005.9L329.3 1019.8L330.5 1028.5L331.8 1034.0L333.0 1042.5L334.3 1047.6L335.5 1052.8L336.8 1057.7L338.0 1063.2L339.3 1068.5L340.5 1073.9L341.8 1078.3L343.0 1083.5L344.2 1087.6L345.5 1092.4L346.7 1099.6L348.0 1105.6L349.2 1110.7L350.5 1116.1L351.7 1118.8L353.0 1121.0L354.2 1125.9L355.5 1129.6L356.7 1132.8L358.0 1138.3L359.2 1140.9L360.4 1147.4L361.7 1151.1L362.9 1153.3L364.2 1155.7L365.4 1156.3L366.7 1157.5L367.9 1160.1L369.2 1163.5L370.4 1164.9L371.7 1165.7L372.9 1168.7L374.2 1168.7L375.4 1170.3L376.7 1171.2L377.9 1174.6L379.1 1177.4L380.4 1178.3L381.6 1179.3L385.4 1179.3L386.6 1180.3L387.9 1181.3L389.1 1181.3L390.4 1182.4L391.6 1183.4L392.9 1183.4L394.1 1185.6L395.4 1186.8L396.6 1186.8L397.8 1188.0L399.1 1189.2L400.3 1189.2L401.6 1191.7L402.8 1194.3L411.6 1194.3L412.8 1195.7L414.0 1195.7L415.3 1197.1L419.0 1197.1L420.3 1198.5L421.5 1200.0L422.8 1203.2L424.0 1203.2L425.3 1206.6L426.5 1206.6L427.8 1208.4L429.0 1208.4L430.3 1210.2L431.5 1214.2L445.2 1214.2L446.5 1216.3L451.4 1216.3L452.7 1218.5L457.7 1218.5L458.9 1223.3L460.2 1225.8L461.4 1228.5L463.9 1228.5L465.2 1231.4L467.6 1231.4L468.9 1237.7L477.6 1237.7L478.9 1241.3L481.4 1241.3L482.6 1245.1L496.3 1245.1L497.6 1249.2L506.3 1249.2L507.5 1253.7L508.8 1253.7L510.0 1258.7L523.7 1258.7L525.0 1264.3L535.0 1264.3L536.2 1270.6L541.2 1270.6L542.4 1277.9L574.8 1277.9L576.1 1286.6L607.3 1286.6L608.5 1297.2L624.7 1297.2L626.0 1310.8L673.3 1310.8L674.6 1330.2L729.4 1330.2L730.7 1365.4L927.6 1365.4"/>
<path class="r" d="M325.5 967.4L326.8 993.2L328.0 1010.0L329.3 1021.3L330.5 1028.8L331.8 1034.5L333.0 1040.7L334.3 1046.5L335.5 1050.7L336.8 1055.4L338.0 1059.4L339.3 1062.2L340.5 1066.2L341.8 1071.1L343.0 1077.1L344.2 1083.4L345.5 1088.2L346.7 1090.7L348.0 1092.6L349.2 1095.7L350.5 1100.7L351.7 1105.8L353.0 1105.8L354.2 1108.2L355.5 1112.1L356.7 1115.3L358.0 1118.0L359.2 1120.5L360.4 1123.1L361.7 1125.0L362.9 1125.6L364.2 1126.9L365.4 1128.2L366.7 1130.6L367.9 1130.6L369.2 1133.2L370.4 1135.9L371.7 1138.3L372.9 1140.0L374.2 1145.0L375.4 1149.5L376.7 1152.2L377.9 1156.3L379.1 1156.9L380.4 1158.1L381.6 1159.4L382.9 1160.7L384.1 1162.1L385.4 1164.2L386.6 1164.9L390.4 1164.9L391.6 1167.9L392.9 1171.2L397.8 1171.2L399.1 1173.7L400.3 1174.6L401.6 1176.4L405.3 1176.4L406.6 1178.3L407.8 1179.3L409.1 1182.4L410.3 1183.4L411.6 1186.8L412.8 1189.2L414.0 1190.4L415.3 1191.7L417.8 1191.7L419.0 1194.3L420.3 1195.7L421.5 1198.5L425.3 1198.5L426.5 1200.0L435.2 1200.0L436.5 1201.6L437.7 1203.2L439.0 1204.9L440.2 1206.6L441.5 1208.4L442.7 1212.2L444.0 1214.2L445.2 1216.3L446.5 1216.3L447.7 1218.5L452.7 1218.5L453.9 1220.8L455.2 1223.3L456.4 1225.8L457.7 1228.5L458.9 1231.4L466.4 1231.4L467.6 1234.5L476.4 1234.5L477.6 1237.7L493.8 1237.7L495.1 1241.3L496.3 1241.3L497.6 1245.1L498.8 1249.2L513.8 1249.2L515.0 1253.7L516.3 1258.7L530.0 1258.7L531.2 1264.3L542.4 1264.3L543.7 1270.6L554.9 1270.6L556.1 1277.9L569.9 1277.9L571.1 1286.6L583.6 1286.6L584.8 1297.2L630.9 1297.2L632.2 1310.8L672.1 1310.8L673.3 1330.2L738.1 1330.2L739.4 1365.4L933.8 1365.4"/>
<path class="r" d="M325.5 990.1L326.8 1005.9L328.0 1017.9L329.3 1023.4L330.5 1029.8L331.8 1036.8L333.0 1042.3L334.3 1047.3L335.5 1053.9L336.8 1058.7L338.0 1061.1L339.3 1066.4L340.5 1070.4L341.8 1071.8L343.0 1075.7L344.2 1079.1L345.5 1081.9L346.7 1087.3L348.0 1092.4L349.2 1098.5L350.5 1103.8L351.7 1106.7L353.0 1110.0L354.2 1113.6L355.5 1115.1L356.7 1116.4L358.0 1120.5L359.2 1122.2L360.4 1128.2L361.7 1131.0L362.9 1135.1L364.2 1136.3L365.4 1139.6L366.7 1144.0L367.9 1145.0L369.2 1147.9L370.4 1149.5L371.7 1149.5L372.9 1153.3L374.2 1153.3L375.4 1156.3L376.7 1156.3L377.9 1158.1L379.1 1160.1L380.4 1160.7L381.6 1161.4L382.9 1162.1L384.1 1163.5L385.4 1164.2L392.9 1164.2L394.1 1167.9L395.4 1168.7L397.8 1168.7L399.1 1171.2L400.3 1172.0L401.6 1172.9L402.8 1173.7L404.1 1176.4L405.3 1178.3L407.8 1178.3L409.1 1181.3L410.3 1184.5L411.6 1188.0L414.0 1188.0L415.3 1190.4L419.0 1190.4L420.3 1191.7L421.5 1193.0L422.8 1193.0L424.0 1195.7L431.5 1195.7L432.7 1200.0L440.2 1200.0L441.5 1203.2L442.7 1203.2L444.0 1204.9L445.2 1206.6L446.5 1208.4L447.7 1208.4L448.9 1210.2L450.2 1212.2L451.4 1212.2L452.7 1214.2L456.4 1214.2L457.7 1216.3L458.9 1218.5L460.2 1220.8L461.4 1220.8L462.7 1223.3L467.6 1223.3L468.9 1225.8L470.1 1228.5L473.9 1228.5L475.1 1231.4L478.9 1231.4L480.1 1234.5L498.8 1234.5L500.1 1237.7L502.5 1237.7L503.8 1241.3L505.0 1245.1L508.8 1245.1L510.0 1249.2L521.2 1249.2L522.5 1253.7L528.7 1253.7L530.0 1258.7L543.7 1258.7L544.9 1264.3L561.1 1264.3L562.4 1270.6L574.8 1270.6L576.1 1277.9L594.8 1277.9L596.0 1286.6L622.2 1286.6L623.5 1297.2L643.4 1297.2L644.7 1310.8L713.2 1310.8L714.5 1330.2L765.6 1330.2L766.8 1365.4L961.3 1365.4"/>
<path class="r" d="M325.5 944.1L326.8 983.0L328.0 1004.7L329.3 1017.1L330.5 1027.5L331.8 1036.5L333.0 1042.5L334.3 1046.0L335.5 1050.5L336.8 1052.7L338.0 1054.6L339.3 1061.3L340.5 1064.1L341.8 1067.5L343.0 1072.9L344.2 1075.4L345.5 1078.8L346.7 1080.1L348.0 1082.5L349.2 1084.4L350.5 1084.4L351.7 1087.5L353.0 1089.6L354.2 1094.7L355.5 1096.4L356.7 1098.8L358.0 1099.9L359.2 1102.0L360.4 1105.6L361.7 1108.6L362.9 1110.0L364.2 1112.8L365.4 1113.3L366.7 1114.6L367.9 1115.6L371.7 1115.6L372.9 1120.5L374.2 1120.5L375.4 1123.4L376.7 1123.4L377.9 1127.5L379.1 1129.6L380.4 1130.3L381.6 1135.5L382.9 1137.1L384.1 1140.4L385.4 1140.4L386.6 1140.9L390.4 1140.9L391.6 1142.6L392.9 1145.9L394.1 1150.6L395.4 1152.2L396.6 1152.8L397.8 1153.9L399.1 1156.9L400.3 1159.4L401.6 1161.4L402.8 1162.8L404.1 1164.2L405.3 1167.9L406.6 1169.5L407.8 1171.2L409.1 1172.0L411.6 1172.0L412.8 1172.9L414.0 1172.9L415.3 1174.6L416.5 1176.4L417.8 1178.3L419.0 1179.3L420.3 1181.3L421.5 1182.4L425.3 1182.4L426.5 1184.5L427.8 1186.8L429.0 1186.8L430.3 1188.0L431.5 1190.4L432.7 1193.0L434.0 1195.7L441.5 1195.7L442.7 1197.1L444.0 1198.5L445.2 1201.6L446.5 1204.9L448.9 1204.9L450.2 1206.6L453.9 1206.6L455.2 1210.2L458.9 1210.2L460.2 1212.2L466.4 1212.2L467.6 1214.2L470.1 1214.2L471.4 1216.3L475.1 1216.3L476.4 1218.5L477.6 1220.8L478.9 1220.8L480.1 1223.3L481.4 1225.8L490.1 1225.8L491.3 1228.5L492.6 1234.5L497.6 1234.5L498.8 1237.7L500.1 1241.3L501.3 1241.3L502.5 1245.1L511.3 1245.1L512.5 1249.2L542.4 1249.2L543.7 1253.7L544.9 1258.7L556.1 1258.7L557.4 1264.3L561.1 1264.3L562.4 1270.6L568.6 1270.6L569.9 1277.9L576.1 1277.9L577.3 1286.6L628.4 1286.6L629.7 1297.2L652.1 1297.2L653.4 1310.8L721.9 1310.8L723.2 1330.2L800.5 1330.2L801.7 1365.4L1021.1 1365.4"/>
<path class="b" d="M325.5 987.5L326.8 1029.5L328.0 1053.6L329.3 1069.0L330.5 1079.5L331.8 1089.2L333.0 1095.7L334.3 1103.2L335.5 1111.4L336.8 1117.7L338.0 1121.6L339.3 1126.6L340.5 1132.8L341.8 1137.5L343.0 1142.2L344.2 1147.4L345.5 1153.9L346.7 1158.1L348.0 1162.8L349.2 1167.2L350.5 1170.3L351.7 1176.4L353.0 1180.3L354.2 1185.6L355.5 1190.4L356.7 1194.3L358.0 1198.5L359.2 1201.6L360.4 1206.6L361.7 1214.2L362.9 1214.2L364.2 1218.5L365.4 1220.8L366.7 1225.8L367.9 1234.5L369.2 1237.7L370.4 1241.3L371.7 1245.1L372.9 1249.2L374.2 1253.7L375.4 1258.7L376.7 1258.7L377.9 1264.3L379.1 1264.3L380.4 1270.6L381.6 1277.9L386.6 1277.9L387.9 1286.6L392.9 1286.6L394.1 1297.2L399.1 1297.2L400.3 1310.8L407.8 1310.8L409.1 1330.2L434.9 1330.2L436.1 1365.4L519.6 1365.4"/>
<path class="b" d="M325.5 1007.3L326.8 1034.0L328.0 1049.9L329.3 1058.4L330.5 1068.1L331.8 1074.2L333.0 1081.3L334.3 1089.0L335.5 1093.2L336.8 1099.7L338.0 1105.6L339.3 1110.9L340.5 1116.4L341.8 1122.8L343.0 1130.3L344.2 1134.7L345.5 1143.1L346.7 1146.9L348.0 1152.2L349.2 1155.7L350.5 1159.4L351.7 1163.5L353.0 1166.4L354.2 1169.5L355.5 1172.9L356.7 1176.4L358.0 1179.3L359.2 1181.3L360.4 1183.4L361.7 1188.0L362.9 1189.2L364.2 1195.7L365.4 1203.2L366.7 1206.6L367.9 1208.4L369.2 1208.4L370.4 1210.2L371.7 1214.2L372.9 1216.3L374.2 1220.8L375.4 1223.3L376.7 1228.5L377.9 1231.4L379.1 1234.5L380.4 1237.7L381.6 1241.3L382.9 1249.2L384.1 1249.2L385.4 1253.7L386.6 1253.7L387.9 1258.7L389.1 1258.7L390.4 1264.3L391.6 1264.3L392.9 1270.6L396.6 1270.6L397.8 1277.9L400.3 1277.9L401.6 1286.6L402.8 1297.2L407.8 1297.2L409.1 1310.8L417.8 1310.8L419.0 1330.2L447.7 1330.2L448.9 1365.4L522.5 1365.4"/>
<path class="b" d="M325.5 959.4L326.8 988.2L328.0 1006.3L329.3 1021.5L330.5 1029.3L331.8 1034.2L333.0 1041.0L334.3 1048.0L335.5 1055.3L336.8 1062.5L338.0 1067.2L339.3 1072.5L340.5 1079.0L341.8 1085.5L343.0 1092.2L344.2 1095.7L345.5 1101.0L346.7 1103.4L348.0 1111.2L349.2 1117.4L350.5 1121.9L351.7 1126.6L353.0 1132.1L354.2 1137.1L355.5 1144.5L356.7 1148.5L358.0 1153.3L359.2 1157.5L360.4 1159.4L361.7 1162.1L362.9 1164.9L364.2 1164.9L365.4 1167.2L366.7 1171.2L367.9 1171.2L369.2 1172.0L370.4 1172.9L371.7 1176.4L372.9 1179.3L374.2 1180.3L375.4 1182.4L376.7 1185.6L377.9 1188.0L379.1 1193.0L380.4 1198.5L381.6 1201.6L382.9 1201.6L384.1 1203.2L385.4 1203.2L386.6 1204.9L387.9 1206.6L389.1 1208.4L390.4 1208.4L391.6 1210.2L392.9 1214.2L394.1 1216.3L395.4 1216.3L396.6 1218.5L400.3 1218.5L401.6 1220.8L404.1 1220.8L405.3 1225.8L406.6 1228.5L407.8 1228.5L409.1 1231.4L410.3 1234.5L411.6 1237.7L415.3 1237.7L416.5 1245.1L419.0 1245.1L420.3 1249.2L421.5 1249.2L422.8 1253.7L424.0 1258.7L435.2 1258.7L436.5 1264.3L439.0 1264.3L440.2 1270.6L450.2 1270.6L451.4 1277.9L461.4 1277.9L462.7 1286.6L471.4 1286.6L472.6 1297.2L488.8 1297.2L490.1 1310.8L506.3 1310.8L507.5 1330.2L543.7 1330.2L544.9 1365.4L657.1 1365.4"/>
<path class="b" d="M325.5 932.6L326.8 973.8L328.0 1000.2L329.3 1013.1L330.5 1021.7L331.8 1030.2L333.0 1037.7L334.3 1044.4L335.5 1048.3L336.8 1053.5L338.0 1057.7L339.3 1064.0L340.5 1069.5L341.8 1077.2L343.0 1079.4L344.2 1084.0L345.5 1090.2L346.7 1092.4L348.0 1097.9L349.2 1102.8L350.5 1105.6L351.7 1110.7L353.0 1115.6L354.2 1120.5L355.5 1122.8L356.7 1126.2L358.0 1127.5L359.2 1133.2L360.4 1134.7L361.7 1137.1L362.9 1141.3L364.2 1143.6L365.4 1145.5L366.7 1148.5L367.9 1148.5L369.2 1150.0L370.4 1152.8L371.7 1156.9L372.9 1159.4L374.2 1160.1L375.4 1160.1L376.7 1164.2L377.9 1167.2L379.1 1168.7L380.4 1172.0L381.6 1172.0L382.9 1174.6L384.1 1180.3L385.4 1181.3L386.6 1185.6L387.9 1185.6L389.1 1189.2L391.6 1189.2L392.9 1191.7L394.1 1193.0L395.4 1195.7L396.6 1198.5L397.8 1200.0L399.1 1201.6L400.3 1203.2L401.6 1204.9L402.8 1206.6L404.1 1208.4L409.1 1208.4L410.3 1212.2L412.8 1212.2L414.0 1216.3L415.3 1218.5L416.5 1223.3L417.8 1225.8L425.3 1225.8L426.5 1228.5L429.0 1228.5L430.3 1231.4L431.5 1234.5L434.0 1234.5L435.2 1237.7L436.5 1241.3L437.7 1245.1L439.0 1245.1L440.2 1249.2L442.7 1249.2L444.0 1253.7L451.4 1253.7L452.7 1258.7L458.9 1258.7L460.2 1264.3L472.6 1264.3L473.9 1270.6L478.9 1270.6L480.1 1277.9L486.3 1277.9L487.6 1286.6L498.8 1286.6L500.1 1297.2L510.0 1297.2L511.3 1310.8L533.7 1310.8L535.0 1330.2L566.1 1330.2L567.4 1365.4L704.5 1365.4"/>
<path class="b" d="M325.5 977.0L326.8 1000.4L328.0 1014.7L329.3 1025.8L330.5 1031.9L331.8 1036.4L333.0 1043.3L334.3 1050.9L335.5 1054.1L336.8 1059.6L338.0 1065.1L339.3 1068.7L340.5 1071.1L341.8 1075.9L343.0 1082.6L344.2 1086.5L345.5 1089.2L346.7 1091.5L348.0 1097.0L349.2 1101.6L350.5 1106.7L351.7 1113.6L353.0 1115.6L354.2 1118.5L355.5 1121.9L356.7 1125.0L358.0 1125.6L359.2 1131.3L360.4 1134.7L361.7 1137.9L362.9 1142.2L364.2 1144.5L365.4 1147.9L366.7 1151.7L367.9 1154.5L369.2 1154.5L370.4 1159.4L371.7 1161.4L372.9 1164.2L374.2 1164.2L375.4 1167.2L376.7 1171.2L377.9 1174.6L379.1 1178.3L380.4 1184.5L381.6 1184.5L382.9 1185.6L384.1 1189.2L385.4 1189.2L386.6 1191.7L387.9 1191.7L389.1 1193.0L390.4 1197.1L391.6 1198.5L392.9 1201.6L394.1 1201.6L395.4 1203.2L396.6 1204.9L397.8 1208.4L399.1 1210.2L400.3 1212.2L401.6 1214.2L404.1 1214.2L405.3 1218.5L411.6 1218.5L412.8 1220.8L414.0 1223.3L416.5 1223.3L417.8 1225.8L419.0 1228.5L420.3 1228.5L421.5 1234.5L429.0 1234.5L430.3 1237.7L431.5 1241.3L436.5 1241.3L437.7 1245.1L439.0 1249.2L442.7 1249.2L444.0 1253.7L445.2 1253.7L446.5 1258.7L451.4 1258.7L452.7 1264.3L458.9 1264.3L460.2 1270.6L462.7 1270.6L463.9 1277.9L470.1 1277.9L471.4 1286.6L488.8 1286.6L490.1 1297.2L498.8 1297.2L500.1 1310.8L526.2 1310.8L527.5 1330.2L566.1 1330.2L567.4 1365.4L684.5 1365.4"/>
<path class="b" d="M325.5 951.7L326.8 985.3L328.0 1005.6L329.3 1020.0L330.5 1028.7L331.8 1038.1L333.0 1040.4L334.3 1044.5L335.5 1049.0L336.8 1055.4L338.0 1062.4L339.3 1067.0L340.5 1071.1L341.8 1077.8L343.0 1077.8L344.2 1082.2L345.5 1085.8L346.7 1089.0L348.0 1092.6L349.2 1095.0L350.5 1098.1L351.7 1104.0L353.0 1104.0L354.2 1107.8L355.5 1110.0L356.7 1117.7L358.0 1120.5L359.2 1124.3L360.4 1125.9L361.7 1131.0L362.9 1133.5L364.2 1134.3L365.4 1136.3L366.7 1137.9L367.9 1140.9L369.2 1148.5L370.4 1149.5L371.7 1152.8L372.9 1153.3L374.2 1155.7L375.4 1157.5L376.7 1158.8L377.9 1159.4L379.1 1159.4L380.4 1164.9L382.9 1164.9L384.1 1165.7L385.4 1167.2L386.6 1171.2L387.9 1175.5L389.1 1178.3L390.4 1178.3L391.6 1179.3L392.9 1179.3L394.1 1182.4L395.4 1183.4L396.6 1183.4L397.8 1184.5L399.1 1185.6L400.3 1190.4L402.8 1190.4L404.1 1191.7L405.3 1193.0L406.6 1194.3L407.8 1195.7L409.1 1200.0L410.3 1201.6L411.6 1201.6L412.8 1203.2L414.0 1206.6L415.3 1208.4L416.5 1208.4L417.8 1210.2L420.3 1210.2L421.5 1212.2L422.8 1212.2L424.0 1214.2L425.3 1216.3L426.5 1216.3L427.8 1218.5L429.0 1220.8L430.3 1223.3L431.5 1225.8L432.7 1228.5L434.0 1228.5L435.2 1231.4L436.5 1234.5L440.2 1234.5L441.5 1237.7L442.7 1241.3L444.0 1245.1L446.5 1245.1L447.7 1249.2L450.2 1249.2L451.4 1253.7L457.7 1253.7L458.9 1258.7L466.4 1258.7L467.6 1264.3L468.9 1264.3L470.1 1270.6L477.6 1270.6L478.9 1277.9L482.6 1277.9L483.9 1286.6L507.5 1286.6L508.8 1297.2L521.2 1297.2L522.5 1310.8L538.7 1310.8L539.9 1330.2L572.4 1330.2L573.6 1365.4L718.2 1365.4"/>
<path class="b" d="M325.5 938.1L326.8 977.6L328.0 1002.4L329.3 1016.9L330.5 1027.3L331.8 1033.5L333.0 1041.4L334.3 1050.3L335.5 1059.4L336.8 1062.7L338.0 1064.9L339.3 1066.7L340.5 1071.9L341.8 1080.9L343.0 1085.1L344.2 1089.3L345.5 1095.7L346.7 1104.0L348.0 1109.1L349.2 1114.1L350.5 1119.3L351.7 1124.0L353.0 1126.2L354.2 1132.4L355.5 1139.6L356.7 1141.7L358.0 1143.6L359.2 1145.9L360.4 1147.4L361.7 1149.0L362.9 1151.1L364.2 1156.3L365.4 1159.4L366.7 1162.1L367.9 1164.9L369.2 1167.2L370.4 1171.2L371.7 1172.9L372.9 1173.7L374.2 1177.4L375.4 1181.3L376.7 1183.4L377.9 1185.6L379.1 1185.6L380.4 1186.8L381.6 1186.8L382.9 1190.4L384.1 1193.0L385.4 1195.7L386.6 1198.5L387.9 1198.5L389.1 1201.6L390.4 1203.2L391.6 1204.9L392.9 1206.6L394.1 1210.2L399.1 1210.2L400.3 1212.2L402.8 1212.2L404.1 1214.2L405.3 1218.5L406.6 1220.8L407.8 1223.3L412.8 1223.3L414.0 1225.8L415.3 1225.8L416.5 1228.5L419.0 1228.5L420.3 1231.4L421.5 1234.5L422.8 1234.5L424.0 1237.7L425.3 1237.7L426.5 1241.3L440.2 1241.3L441.5 1245.1L442.7 1245.1L444.0 1249.2L448.9 1249.2L450.2 1253.7L458.9 1253.7L460.2 1258.7L467.6 1258.7L468.9 1264.3L473.9 1264.3L475.1 1270.6L476.4 1270.6L477.6 1277.9L483.9 1277.9L485.1 1286.6L498.8 1286.6L500.1 1297.2L513.8 1297.2L515.0 1310.8L542.4 1310.8L543.7 1330.2L594.8 1330.2L596.0 1365.4L731.9 1365.4"/>
<path class="b" d="M325.5 920.0L326.8 970.8L328.0 1000.0L329.3 1017.1L330.5 1031.0L331.8 1036.4L333.0 1045.4L334.3 1054.1L335.5 1061.1L336.8 1064.6L338.0 1069.4L339.3 1075.4L340.5 1079.8L341.8 1088.7L343.0 1093.4L344.2 1099.0L345.5 1103.2L346.7 1105.4L348.0 1112.1L349.2 1116.6L350.5 1122.8L351.7 1128.5L353.0 1134.3L354.2 1137.5L355.5 1140.9L356.7 1142.2L358.0 1146.4L359.2 1151.1L360.4 1154.5L361.7 1158.1L362.9 1163.5L364.2 1165.7L365.4 1169.5L366.7 1172.0L367.9 1176.4L369.2 1179.3L370.4 1180.3L371.7 1182.4L372.9 1185.6L374.2 1185.6L375.4 1189.2L376.7 1191.7L377.9 1194.3L379.1 1194.3L380.4 1195.7L381.6 1197.1L384.1 1197.1L385.4 1200.0L386.6 1201.6L387.9 1201.6L389.1 1203.2L394.1 1203.2L395.4 1206.6L396.6 1208.4L397.8 1212.2L399.1 1212.2L400.3 1214.2L401.6 1214.2L402.8 1218.5L404.1 1218.5L405.3 1220.8L411.6 1220.8L412.8 1223.3L414.0 1225.8L415.3 1228.5L417.8 1228.5L419.0 1234.5L426.5 1234.5L427.8 1237.7L435.2 1237.7L436.5 1241.3L444.0 1241.3L445.2 1245.1L446.5 1245.1L447.7 1249.2L452.7 1249.2L453.9 1253.7L456.4 1253.7L457.7 1258.7L461.4 1258.7L462.7 1264.3L471.4 1264.3L472.6 1270.6L478.9 1270.6L480.1 1277.9L482.6 1277.9L483.9 1286.6L512.5 1286.6L513.8 1297.2L526.2 1297.2L527.5 1310.8L549.9 1310.8L551.2 1330.2L594.8 1330.2L596.0 1365.4L730.7 1365.4"/>
<path class="b" d="M325.5 960.9L326.8 990.9L328.0 1007.4L329.3 1018.5L330.5 1025.5L331.8 1031.7L333.0 1040.4L334.3 1043.4L335.5 1051.0L336.8 1056.8L338.0 1062.5L339.3 1065.1L340.5 1068.3L341.8 1073.6L343.0 1075.1L344.2 1082.2L345.5 1087.0L346.7 1088.5L348.0 1090.4L349.2 1091.0L350.5 1095.2L351.7 1099.4L353.0 1103.8L354.2 1108.2L355.5 1110.9L356.7 1116.1L358.0 1120.2L359.2 1123.1L360.4 1125.9L361.7 1126.2L362.9 1127.9L364.2 1130.3L365.4 1136.3L366.7 1138.7L367.9 1140.4L369.2 1142.2L370.4 1146.4L372.9 1146.4L374.2 1146.9L375.4 1147.4L376.7 1151.7L377.9 1154.5L379.1 1154.5L380.4 1156.9L381.6 1158.8L382.9 1160.7L384.1 1163.5L385.4 1164.2L386.6 1165.7L387.9 1168.7L389.1 1174.6L390.4 1175.5L391.6 1175.5L392.9 1176.4L394.1 1178.3L396.6 1178.3L397.8 1182.4L399.1 1185.6L400.3 1186.8L401.6 1189.2L402.8 1191.7L404.1 1193.0L405.3 1197.1L406.6 1201.6L407.8 1203.2L409.1 1203.2L410.3 1206.6L411.6 1208.4L412.8 1210.2L417.8 1210.2L419.0 1212.2L420.3 1212.2L421.5 1214.2L422.8 1216.3L424.0 1216.3L425.3 1218.5L426.5 1220.8L429.0 1220.8L430.3 1223.3L431.5 1223.3L432.7 1225.8L436.5 1225.8L437.7 1228.5L439.0 1228.5L440.2 1231.4L441.5 1234.5L447.7 1234.5L448.9 1237.7L450.2 1237.7L451.4 1241.3L462.7 1241.3L463.9 1245.1L466.4 1245.1L467.6 1249.2L468.9 1253.7L471.4 1253.7L472.6 1258.7L478.9 1258.7L480.1 1264.3L492.6 1264.3L493.8 1270.6L498.8 1270.6L500.1 1277.9L510.0 1277.9L511.3 1286.6L517.5 1286.6L518.8 1297.2L541.2 1297.2L542.4 1310.8L568.6 1310.8L569.9 1330.2L619.7 1330.2L621.0 1365.4L773.0 1365.4"/>
<path class="b" d="M325.5 979.4L326.8 999.3L328.0 1011.8L329.3 1020.5L330.5 1029.8L331.8 1037.1L333.0 1043.6L334.3 1050.9L335.5 1056.2L336.8 1059.8L338.0 1063.0L339.3 1069.3L340.5 1072.8L341.8 1077.6L343.0 1082.2L344.2 1085.4L345.5 1090.2L346.7 1094.7L348.0 1098.3L349.2 1101.4L350.5 1107.5L351.7 1111.9L353.0 1118.0L354.2 1121.3L355.5 1124.6L356.7 1133.9L358.0 1135.9L359.2 1136.7L360.4 1139.1L361.7 1141.3L362.9 1143.6L364.2 1145.0L365.4 1148.5L366.7 1154.5L367.9 1158.1L369.2 1158.1L370.4 1160.7L371.7 1162.1L372.9 1163.5L374.2 1163.5L375.4 1164.2L376.7 1164.2L377.9 1164.9L379.1 1167.9L380.4 1172.0L381.6 1176.4L382.9 1179.3L384.1 1180.3L385.4 1180.3L386.6 1184.5L387.9 1188.0L389.1 1188.0L390.4 1190.4L391.6 1194.3L392.9 1198.5L399.1 1198.5L400.3 1201.6L402.8 1201.6L404.1 1204.9L405.3 1210.2L407.8 1210.2L409.1 1212.2L412.8 1212.2L414.0 1214.2L417.8 1214.2L419.0 1216.3L420.3 1216.3L421.5 1218.5L425.3 1218.5L426.5 1223.3L429.0 1223.3L430.3 1225.8L431.5 1228.5L432.7 1228.5L434.0 1231.4L435.2 1231.4L436.5 1234.5L439.0 1234.5L440.2 1237.7L445.2 1237.7L446.5 1241.3L450.2 1241.3L451.4 1245.1L455.2 1245.1L456.4 1249.2L461.4 1249.2L462.7 1253.7L473.9 1253.7L475.1 1258.7L477.6 1258.7L478.9 1264.3L483.9 1264.3L485.1 1270.6L486.3 1277.9L493.8 1277.9L495.1 1286.6L518.8 1286.6L520.0 1297.2L535.0 1297.2L536.2 1310.8L563.6 1310.8L564.9 1330.2L619.7 1330.2L621.0 1365.4L758.1 1365.4"/>
<path class="b" d="M325.5 991.4L326.8 1007.1L328.0 1019.7L329.3 1025.8L330.5 1030.5L331.8 1033.9L333.0 1037.8L334.3 1044.7L335.5 1050.6L336.8 1055.8L338.0 1061.1L339.3 1068.7L340.5 1071.2L341.8 1075.7L343.0 1079.6L344.2 1080.8L345.5 1086.7L346.7 1090.8L348.0 1095.3L349.2 1099.4L350.5 1102.0L351.7 1108.4L353.0 1113.1L354.2 1114.8L355.5 1119.1L356.7 1124.0L358.0 1124.6L359.2 1128.5L360.4 1132.8L361.7 1135.5L362.9 1139.1L364.2 1141.3L365.4 1143.6L366.7 1146.4L367.9 1146.9L369.2 1148.5L370.4 1150.0L371.7 1151.1L372.9 1152.8L374.2 1153.9L375.4 1153.9L376.7 1154.5L377.9 1156.9L379.1 1158.8L380.4 1161.4L384.1 1161.4L385.4 1163.5L386.6 1167.2L387.9 1167.2L389.1 1167.9L390.4 1171.2L391.6 1173.7L392.9 1177.4L394.1 1177.4L395.4 1178.3L396.6 1179.3L397.8 1182.4L399.1 1183.4L400.3 1184.5L401.6 1188.0L402.8 1188.0L404.1 1190.4L407.8 1190.4L409.1 1195.7L410.3 1197.1L411.6 1200.0L412.8 1200.0L414.0 1201.6L415.3 1203.2L419.0 1203.2L420.3 1206.6L421.5 1208.4L422.8 1210.2L424.0 1210.2L425.3 1212.2L426.5 1214.2L427.8 1218.5L429.0 1218.5L430.3 1220.8L431.5 1225.8L441.5 1225.8L442.7 1228.5L444.0 1231.4L447.7 1231.4L448.9 1234.5L455.2 1234.5L456.4 1237.7L457.7 1241.3L458.9 1245.1L466.4 1245.1L467.6 1249.2L468.9 1249.2L470.1 1253.7L482.6 1253.7L483.9 1258.7L487.6 1258.7L488.8 1264.3L490.1 1270.6L505.0 1270.6L506.3 1277.9L517.5 1277.9L518.8 1286.6L530.0 1286.6L531.2 1297.2L541.2 1297.2L542.4 1310.8L582.3 1310.8L583.6 1330.2L640.9 1330.2L642.2 1365.4L809.2 1365.4"/>
<path class="b" d="M325.5 932.8L326.8 973.0L328.0 997.7L329.3 1014.4L330.5 1025.6L331.8 1030.7L333.0 1036.3L334.3 1041.1L335.5 1046.5L336.8 1053.3L338.0 1058.0L339.3 1062.9L340.5 1067.4L341.8 1073.9L343.0 1078.2L344.2 1082.5L345.5 1085.1L346.7 1091.5L348.0 1093.4L349.2 1097.9L350.5 1101.4L351.7 1107.5L353.0 1111.4L354.2 1114.6L355.5 1117.2L356.7 1120.2L358.0 1123.7L359.2 1125.3L360.4 1128.2L361.7 1129.2L362.9 1134.7L364.2 1137.9L365.4 1139.6L366.7 1142.2L367.9 1146.4L369.2 1146.4L370.4 1147.9L371.7 1150.0L372.9 1152.2L374.2 1155.7L375.4 1156.9L376.7 1158.8L377.9 1158.8L379.1 1161.4L381.6 1161.4L382.9 1164.9L384.1 1167.2L385.4 1169.5L386.6 1171.2L387.9 1174.6L389.1 1175.5L390.4 1175.5L391.6 1178.3L395.4 1178.3L396.6 1179.3L397.8 1182.4L399.1 1184.5L400.3 1185.6L402.8 1185.6L404.1 1186.8L405.3 1186.8L406.6 1190.4L407.8 1193.0L409.1 1193.0L410.3 1195.7L411.6 1197.1L412.8 1198.5L414.0 1200.0L415.3 1203.2L416.5 1203.2L417.8 1206.6L419.0 1206.6L420.3 1208.4L427.8 1208.4L429.0 1212.2L430.3 1214.2L431.5 1216.3L432.7 1218.5L434.0 1220.8L436.5 1220.8L437.7 1223.3L439.0 1225.8L441.5 1225.8L442.7 1228.5L446.5 1228.5L447.7 1231.4L448.9 1234.5L456.4 1234.5L457.7 1241.3L460.2 1241.3L461.4 1245.1L465.2 1245.1L466.4 1249.2L475.1 1249.2L476.4 1253.7L483.9 1253.7L485.1 1258.7L493.8 1258.7L495.1 1264.3L502.5 1264.3L503.8 1270.6L508.8 1270.6L510.0 1277.9L516.3 1277.9L517.5 1286.6L535.0 1286.6L536.2 1297.2L566.1 1297.2L567.4 1310.8L599.8 1310.8L601.0 1330.2L640.9 1330.2L642.2 1365.4L801.7 1365.4"/>
<path class="b" d="M325.5 926.4L326.8 970.6L328.0 1000.1L329.3 1014.5L330.5 1026.5L331.8 1034.2L333.0 1041.0L334.3 1046.9L335.5 1052.6L336.8 1059.8L338.0 1066.6L339.3 1070.5L340.5 1076.3L341.8 1084.4L343.0 1089.2L344.2 1090.8L345.5 1093.2L346.7 1096.4L348.0 1101.6L349.2 1106.7L350.5 1110.2L351.7 1114.3L353.0 1119.1L354.2 1125.0L355.5 1130.6L356.7 1133.9L358.0 1133.9L359.2 1137.1L360.4 1138.7L361.7 1144.5L362.9 1149.5L364.2 1151.1L365.4 1155.1L366.7 1157.5L367.9 1158.1L369.2 1160.7L370.4 1162.1L371.7 1162.1L372.9 1164.2L374.2 1165.7L375.4 1169.5L376.7 1169.5L377.9 1171.2L379.1 1173.7L380.4 1173.7L381.6 1178.3L382.9 1178.3L384.1 1181.3L385.4 1182.4L390.4 1182.4L391.6 1188.0L392.9 1188.0L394.1 1193.0L395.4 1194.3L396.6 1195.7L402.8 1195.7L404.1 1197.1L405.3 1197.1L406.6 1200.0L407.8 1201.6L409.1 1204.9L412.8 1204.9L414.0 1206.6L415.3 1208.4L416.5 1208.4L417.8 1210.2L420.3 1210.2L421.5 1212.2L422.8 1214.2L424.0 1216.3L425.3 1216.3L426.5 1218.5L436.5 1218.5L437.7 1223.3L439.0 1223.3L440.2 1225.8L444.0 1225.8L445.2 1228.5L446.5 1231.4L451.4 1231.4L452.7 1234.5L455.2 1234.5L456.4 1237.7L457.7 1237.7L458.9 1241.3L462.7 1241.3L463.9 1245.1L472.6 1245.1L473.9 1249.2L476.4 1249.2L477.6 1253.7L478.9 1253.7L480.1 1258.7L483.9 1258.7L485.1 1264.3L508.8 1264.3L510.0 1270.6L521.2 1270.6L522.5 1277.9L532.5 1277.9L533.7 1286.6L542.4 1286.6L543.7 1297.2L579.8 1297.2L581.1 1310.8L603.5 1310.8L604.8 1330.2L640.9 1330.2L642.2 1365.4L806.7 1365.4"/>
<path class="b" d="M325.5 938.2L326.8 975.2L328.0 999.6L329.3 1016.3L330.5 1027.4L331.8 1031.3L333.0 1035.5L334.3 1041.7L335.5 1047.1L336.8 1054.8L338.0 1057.8L339.3 1063.5L340.5 1072.0L341.8 1076.3L343.0 1082.3L344.2 1083.9L345.5 1088.3L346.7 1092.9L348.0 1095.8L349.2 1099.4L350.5 1102.8L351.7 1105.6L353.0 1108.9L354.2 1110.0L355.5 1115.8L356.7 1119.3L358.0 1120.2L359.2 1120.8L360.4 1125.3L361.7 1126.9L362.9 1129.6L364.2 1129.6L365.4 1133.9L366.7 1134.7L367.9 1135.9L369.2 1138.3L372.9 1138.3L374.2 1139.1L375.4 1143.6L376.7 1145.9L377.9 1146.9L379.1 1150.6L380.4 1152.2L381.6 1156.3L382.9 1159.4L384.1 1163.5L385.4 1163.5L386.6 1164.2L387.9 1167.2L389.1 1169.5L390.4 1172.9L391.6 1173.7L392.9 1178.3L395.4 1178.3L396.6 1180.3L397.8 1180.3L399.1 1182.4L400.3 1184.5L401.6 1184.5L402.8 1185.6L404.1 1188.0L405.3 1189.2L406.6 1189.2L407.8 1193.0L411.6 1193.0L412.8 1195.7L417.8 1195.7L419.0 1198.5L424.0 1198.5L425.3 1200.0L426.5 1201.6L427.8 1203.2L429.0 1206.6L430.3 1206.6L431.5 1210.2L432.7 1210.2L434.0 1214.2L435.2 1216.3L445.2 1216.3L446.5 1218.5L447.7 1218.5L448.9 1223.3L450.2 1225.8L451.4 1228.5L457.7 1228.5L458.9 1231.4L462.7 1231.4L463.9 1234.5L466.4 1234.5L467.6 1237.7L480.1 1237.7L481.4 1241.3L486.3 1241.3L487.6 1245.1L488.8 1245.1L490.1 1249.2L495.1 1249.2L496.3 1253.7L497.6 1253.7L498.8 1258.7L500.1 1258.7L501.3 1264.3L528.7 1264.3L530.0 1270.6L536.2 1270.6L537.5 1277.9L544.9 1277.9L546.2 1286.6L567.4 1286.6L568.6 1297.2L606.0 1297.2L607.3 1310.8L638.4 1310.8L639.7 1330.2L680.8 1330.2L682.0 1365.4L854.1 1365.4"/>
<path class="b" d="M325.5 948.9L326.8 983.9L328.0 1006.5L329.3 1018.6L330.5 1029.8L331.8 1036.1L333.0 1042.7L334.3 1046.9L335.5 1052.1L336.8 1057.3L338.0 1062.6L339.3 1068.2L340.5 1072.1L341.8 1078.2L343.0 1083.4L344.2 1087.0L345.5 1092.7L346.7 1096.0L348.0 1096.2L349.2 1102.8L350.5 1107.3L351.7 1112.8L353.0 1115.6L354.2 1119.6L355.5 1122.8L356.7 1124.3L358.0 1126.6L359.2 1129.9L360.4 1131.0L361.7 1131.3L362.9 1136.7L364.2 1137.5L365.4 1143.6L366.7 1145.9L367.9 1150.0L369.2 1153.9L370.4 1156.3L371.7 1161.4L376.7 1161.4L377.9 1162.1L379.1 1163.5L380.4 1164.9L381.6 1167.2L382.9 1169.5L384.1 1169.5L385.4 1173.7L386.6 1174.6L389.1 1174.6L390.4 1175.5L391.6 1177.4L392.9 1177.4L394.1 1178.3L395.4 1179.3L399.1 1179.3L400.3 1183.4L401.6 1184.5L402.8 1185.6L404.1 1189.2L405.3 1193.0L407.8 1193.0L409.1 1194.3L411.6 1194.3L412.8 1197.1L414.0 1198.5L415.3 1198.5L416.5 1200.0L417.8 1201.6L419.0 1203.2L420.3 1206.6L424.0 1206.6L425.3 1208.4L426.5 1210.2L427.8 1214.2L429.0 1216.3L432.7 1216.3L434.0 1218.5L435.2 1220.8L437.7 1220.8L439.0 1223.3L440.2 1223.3L441.5 1225.8L456.4 1225.8L457.7 1228.5L458.9 1231.4L460.2 1231.4L461.4 1234.5L462.7 1237.7L477.6 1237.7L478.9 1241.3L480.1 1241.3L481.4 1245.1L483.9 1245.1L485.1 1249.2L493.8 1249.2L495.1 1253.7L496.3 1258.7L503.8 1258.7L505.0 1264.3L510.0 1264.3L511.3 1270.6L525.0 1270.6L526.2 1277.9L533.7 1277.9L535.0 1286.6L569.9 1286.6L571.1 1297.2L582.3 1297.2L583.6 1310.8L626.0 1310.8L627.2 1330.2L680.8 1330.2L682.0 1365.4L845.3 1365.4"/>
<path class="b" d="M325.5 925.2L326.8 970.0L328.0 993.1L329.3 1007.9L330.5 1020.8L331.8 1029.1L333.0 1035.2L334.3 1043.9L335.5 1047.9L336.8 1052.2L338.0 1056.3L339.3 1059.0L340.5 1065.2L341.8 1068.4L343.0 1074.8L344.2 1081.1L345.5 1084.6L346.7 1086.3L348.0 1086.7L349.2 1093.2L350.5 1097.7L351.7 1099.6L353.0 1100.3L354.2 1102.4L355.5 1103.8L356.7 1108.2L358.0 1108.6L359.2 1109.5L360.4 1111.6L361.7 1114.1L362.9 1114.1L364.2 1116.4L365.4 1118.5L366.7 1120.2L367.9 1120.2L369.2 1121.6L370.4 1122.2L371.7 1126.9L372.9 1129.9L374.2 1135.1L375.4 1139.1L376.7 1142.2L377.9 1142.2L379.1 1143.6L380.4 1146.9L381.6 1146.9L382.9 1151.1L384.1 1151.7L385.4 1155.1L386.6 1157.5L387.9 1158.8L389.1 1164.2L390.4 1164.9L391.6 1165.7L394.1 1165.7L395.4 1170.3L396.6 1170.3L397.8 1172.9L399.1 1177.4L402.8 1177.4L404.1 1180.3L405.3 1181.3L406.6 1181.3L407.8 1184.5L409.1 1188.0L410.3 1188.0L411.6 1189.2L412.8 1190.4L415.3 1190.4L416.5 1194.3L417.8 1194.3L419.0 1195.7L421.5 1195.7L422.8 1197.1L424.0 1198.5L425.3 1200.0L429.0 1200.0L430.3 1201.6L431.5 1201.6L432.7 1204.9L435.2 1204.9L436.5 1206.6L437.7 1206.6L439.0 1208.4L440.2 1208.4L441.5 1210.2L442.7 1212.2L444.0 1216.3L445.2 1216.3L446.5 1220.8L452.7 1220.8L453.9 1223.3L455.2 1225.8L456.4 1228.5L457.7 1228.5L458.9 1231.4L468.9 1231.4L470.1 1234.5L471.4 1234.5L472.6 1237.7L476.4 1237.7L477.6 1241.3L478.9 1241.3L480.1 1245.1L482.6 1245.1L483.9 1249.2L487.6 1249.2L488.8 1253.7L490.1 1253.7L491.3 1258.7L505.0 1258.7L506.3 1264.3L520.0 1264.3L521.2 1270.6L536.2 1270.6L537.5 1277.9L551.2 1277.9L552.4 1286.6L574.8 1286.6L576.1 1297.2L588.6 1297.2L589.8 1310.8L633.4 1310.8L634.7 1330.2L682.0 1330.2L683.3 1365.4L862.8 1365.4"/>
<path class="b" d="M325.5 954.9L326.8 987.1L328.0 1005.5L329.3 1021.5L330.5 1030.3L331.8 1037.3L333.0 1043.7L334.3 1047.8L335.5 1050.8L336.8 1057.7L338.0 1064.0L339.3 1068.2L340.5 1072.4L341.8 1073.8L343.0 1078.2L344.2 1081.4L345.5 1083.5L346.7 1085.1L348.0 1092.2L349.2 1094.3L350.5 1098.3L351.7 1103.4L353.0 1105.2L354.2 1107.8L355.5 1111.6L356.7 1118.5L358.0 1121.0L359.2 1123.7L360.4 1127.9L361.7 1129.6L362.9 1131.0L364.2 1134.3L365.4 1136.7L366.7 1139.1L367.9 1144.5L369.2 1144.5L370.4 1145.0L371.7 1147.4L372.9 1148.5L374.2 1151.7L375.4 1151.7L376.7 1153.9L377.9 1155.7L379.1 1158.1L381.6 1158.1L382.9 1160.1L384.1 1163.5L385.4 1165.7L389.1 1165.7L390.4 1166.4L391.6 1168.7L392.9 1168.7L394.1 1171.2L395.4 1172.0L396.6 1172.9L397.8 1176.4L399.1 1178.3L400.3 1183.4L401.6 1188.0L407.8 1188.0L409.1 1189.2L410.3 1193.0L411.6 1194.3L412.8 1195.7L414.0 1198.5L415.3 1198.5L416.5 1200.0L417.8 1201.6L420.3 1201.6L421.5 1203.2L422.8 1206.6L425.3 1206.6L426.5 1208.4L429.0 1208.4L430.3 1212.2L431.5 1212.2L432.7 1214.2L434.0 1218.5L436.5 1218.5L437.7 1220.8L440.2 1220.8L441.5 1223.3L442.7 1225.8L444.0 1228.5L453.9 1228.5L455.2 1231.4L456.4 1234.5L457.7 1234.5L458.9 1237.7L466.4 1237.7L467.6 1241.3L468.9 1241.3L470.1 1245.1L477.6 1245.1L478.9 1249.2L482.6 1249.2L483.9 1253.7L497.6 1253.7L498.8 1258.7L500.1 1258.7L501.3 1264.3L506.3 1264.3L507.5 1270.6L518.8 1270.6L520.0 1277.9L526.2 1277.9L527.5 1286.6L547.4 1286.6L548.7 1297.2L587.3 1297.2L588.6 1310.8L611.0 1310.8L612.2 1330.2L682.0 1330.2L683.3 1365.4L832.9 1365.4"/>
<path class="b" d="M325.5 983.8L326.8 1001.3L328.0 1013.5L329.3 1021.4L330.5 1029.2L331.8 1034.8L333.0 1039.5L334.3 1045.8L335.5 1050.0L336.8 1054.1L338.0 1057.5L339.3 1063.1L340.5 1066.0L341.8 1073.5L343.0 1076.2L344.2 1080.9L345.5 1082.6L346.7 1087.3L348.0 1089.5L349.2 1094.8L350.5 1099.6L351.7 1104.6L353.0 1107.3L354.2 1109.8L355.5 1114.3L356.7 1119.3L358.0 1119.9L359.2 1122.2L360.4 1126.2L361.7 1127.5L362.9 1131.7L364.2 1134.7L365.4 1137.1L366.7 1138.7L367.9 1140.4L369.2 1145.0L370.4 1145.0L371.7 1146.9L372.9 1148.5L374.2 1148.5L375.4 1149.0L376.7 1150.0L377.9 1150.6L379.1 1153.9L380.4 1153.9L381.6 1158.1L382.9 1158.1L384.1 1160.1L385.4 1161.4L386.6 1162.1L387.9 1162.1L389.1 1163.5L390.4 1166.4L391.6 1168.7L392.9 1171.2L394.1 1173.7L401.6 1173.7L402.8 1177.4L404.1 1179.3L405.3 1181.3L406.6 1185.6L407.8 1189.2L409.1 1190.4L416.5 1190.4L417.8 1194.3L420.3 1194.3L421.5 1195.7L424.0 1195.7L425.3 1201.6L426.5 1203.2L427.8 1204.9L429.0 1204.9L430.3 1208.4L431.5 1210.2L432.7 1210.2L434.0 1214.2L439.0 1214.2L440.2 1216.3L441.5 1216.3L442.7 1218.5L446.5 1218.5L447.7 1220.8L448.9 1220.8L450.2 1223.3L451.4 1225.8L453.9 1225.8L455.2 1228.5L456.4 1228.5L457.7 1231.4L458.9 1231.4L460.2 1234.5L471.4 1234.5L472.6 1237.7L475.1 1237.7L476.4 1241.3L478.9 1241.3L480.1 1245.1L486.3 1245.1L487.6 1249.2L492.6 1249.2L493.8 1253.7L498.8 1253.7L500.1 1258.7L512.5 1258.7L513.8 1264.3L531.2 1264.3L532.5 1270.6L539.9 1270.6L541.2 1277.9L556.1 1277.9L557.4 1286.6L566.1 1286.6L567.4 1297.2L607.3 1297.2L608.5 1310.8L639.7 1310.8L640.9 1330.2L716.9 1330.2L718.2 1365.4L890.2 1365.4"/>
<path class="b" d="M325.5 942.4L326.8 980.8L328.0 1002.9L329.3 1015.9L330.5 1025.0L331.8 1035.8L333.0 1042.0L334.3 1049.6L335.5 1053.6L336.8 1057.6L338.0 1064.5L339.3 1066.1L340.5 1069.6L341.8 1071.7L343.0 1073.8L344.2 1074.9L345.5 1080.2L346.7 1081.8L348.0 1087.3L349.2 1092.7L350.5 1093.8L351.7 1095.2L353.0 1098.1L354.2 1100.1L355.5 1102.8L356.7 1107.8L359.2 1107.8L360.4 1108.0L361.7 1109.1L362.9 1112.6L364.2 1115.1L365.4 1117.4L366.7 1118.5L367.9 1120.8L369.2 1123.4L370.4 1127.5L371.7 1130.6L372.9 1132.4L374.2 1132.4L375.4 1133.2L376.7 1135.9L377.9 1139.1L379.1 1143.1L380.4 1145.9L381.6 1145.9L382.9 1146.9L384.1 1147.4L385.4 1147.4L386.6 1151.1L387.9 1153.9L389.1 1156.3L390.4 1157.5L391.6 1159.4L392.9 1162.8L394.1 1162.8L395.4 1167.9L397.8 1167.9L399.1 1170.3L400.3 1173.7L402.8 1173.7L404.1 1174.6L405.3 1177.4L406.6 1177.4L407.8 1181.3L409.1 1183.4L410.3 1184.5L411.6 1186.8L412.8 1188.0L415.3 1188.0L416.5 1193.0L419.0 1193.0L420.3 1194.3L421.5 1197.1L424.0 1197.1L425.3 1200.0L426.5 1201.6L427.8 1203.2L429.0 1203.2L430.3 1206.6L431.5 1208.4L432.7 1210.2L434.0 1212.2L435.2 1214.2L439.0 1214.2L440.2 1216.3L441.5 1218.5L445.2 1218.5L446.5 1220.8L448.9 1220.8L450.2 1223.3L451.4 1223.3L452.7 1225.8L455.2 1225.8L456.4 1228.5L457.7 1228.5L458.9 1231.4L460.2 1231.4L461.4 1234.5L462.7 1237.7L476.4 1237.7L477.6 1241.3L478.9 1245.1L480.1 1249.2L506.3 1249.2L507.5 1253.7L508.8 1253.7L510.0 1258.7L522.5 1258.7L523.7 1264.3L526.2 1264.3L527.5 1270.6L538.7 1270.6L539.9 1277.9L553.7 1277.9L554.9 1286.6L568.6 1286.6L569.9 1297.2L584.8 1297.2L586.1 1310.8L634.7 1310.8L635.9 1330.2L716.9 1330.2L718.2 1365.4L898.9 1365.4"/>
<path class="b" d="M325.5 929.5L326.8 972.3L328.0 995.1L329.3 1008.7L330.5 1022.3L331.8 1031.7L333.0 1040.4L334.3 1047.8L335.5 1051.7L336.8 1055.2L338.0 1060.6L339.3 1066.5L340.5 1070.7L341.8 1077.2L343.0 1083.1L344.2 1086.3L345.5 1092.6L346.7 1100.9L348.0 1103.8L349.2 1107.3L350.5 1112.1L351.7 1115.1L353.0 1119.9L354.2 1122.8L355.5 1125.6L356.7 1127.9L358.0 1132.8L359.2 1136.7L360.4 1140.4L361.7 1140.4L362.9 1143.1L364.2 1145.5L365.4 1146.4L366.7 1147.4L367.9 1148.5L369.2 1150.6L370.4 1152.2L371.7 1153.3L374.2 1153.3L375.4 1156.9L376.7 1160.7L377.9 1164.9L379.1 1167.9L381.6 1167.9L382.9 1172.0L384.1 1173.7L385.4 1177.4L386.6 1179.3L387.9 1180.3L389.1 1182.4L390.4 1183.4L392.9 1183.4L394.1 1185.6L396.6 1185.6L397.8 1186.8L399.1 1189.2L405.3 1189.2L406.6 1190.4L407.8 1193.0L409.1 1194.3L410.3 1197.1L411.6 1197.1L412.8 1198.5L421.5 1198.5L422.8 1201.6L424.0 1201.6L425.3 1204.9L427.8 1204.9L429.0 1208.4L431.5 1208.4L432.7 1210.2L434.0 1210.2L435.2 1216.3L439.0 1216.3L440.2 1218.5L447.7 1218.5L448.9 1220.8L458.9 1220.8L460.2 1225.8L465.2 1225.8L466.4 1228.5L467.6 1228.5L468.9 1231.4L473.9 1231.4L475.1 1234.5L478.9 1234.5L480.1 1237.7L481.4 1237.7L482.6 1241.3L490.1 1241.3L491.3 1245.1L496.3 1245.1L497.6 1249.2L507.5 1249.2L508.8 1253.7L523.7 1253.7L525.0 1258.7L530.0 1258.7L531.2 1264.3L551.2 1264.3L552.4 1270.6L559.9 1270.6L561.1 1277.9L578.6 1277.9L579.8 1286.6L586.1 1286.6L587.3 1297.2L638.4 1297.2L639.7 1310.8L673.3 1310.8L674.6 1330.2L749.4 1330.2L750.6 1365.4L941.3 1365.4"/>
<path class="b" d="M325.5 960.9L326.8 987.5L328.0 1005.8L329.3 1017.2L330.5 1028.4L331.8 1034.1L333.0 1039.2L334.3 1045.4L335.5 1052.1L336.8 1055.7L338.0 1055.8L339.3 1061.2L340.5 1064.9L341.8 1068.6L343.0 1072.9L344.2 1075.8L345.5 1079.6L346.7 1082.2L348.0 1084.4L349.2 1089.6L350.5 1091.9L351.7 1094.5L353.0 1098.5L354.2 1103.6L355.5 1104.4L356.7 1111.6L358.0 1113.6L359.2 1115.6L360.4 1117.7L361.7 1122.8L362.9 1123.4L364.2 1126.6L365.4 1129.2L366.7 1133.2L367.9 1135.5L369.2 1138.3L371.7 1138.3L372.9 1140.4L374.2 1142.2L375.4 1146.9L376.7 1149.0L377.9 1152.2L379.1 1155.7L380.4 1158.8L381.6 1161.4L382.9 1161.4L384.1 1162.8L385.4 1163.5L386.6 1163.5L387.9 1167.9L390.4 1167.9L391.6 1169.5L392.9 1171.2L394.1 1172.9L395.4 1173.7L396.6 1173.7L397.8 1176.4L399.1 1177.4L401.6 1177.4L402.8 1180.3L406.6 1180.3L407.8 1185.6L409.1 1185.6L410.3 1186.8L411.6 1188.0L412.8 1190.4L414.0 1194.3L415.3 1195.7L416.5 1195.7L417.8 1198.5L421.5 1198.5L422.8 1200.0L425.3 1200.0L426.5 1201.6L427.8 1204.9L429.0 1206.6L435.2 1206.6L436.5 1208.4L439.0 1208.4L440.2 1210.2L441.5 1214.2L442.7 1216.3L444.0 1218.5L445.2 1220.8L450.2 1220.8L451.4 1223.3L458.9 1223.3L460.2 1225.8L470.1 1225.8L471.4 1228.5L472.6 1228.5L473.9 1231.4L475.1 1231.4L476.4 1234.5L477.6 1234.5L478.9 1237.7L482.6 1237.7L483.9 1241.3L485.1 1245.1L497.6 1245.1L498.8 1249.2L502.5 1249.2L503.8 1253.7L516.3 1253.7L517.5 1258.7L518.8 1258.7L520.0 1264.3L526.2 1264.3L527.5 1270.6L549.9 1270.6L551.2 1277.9L558.6 1277.9L559.9 1286.6L577.3 1286.6L578.6 1297.2L613.5 1297.2L614.7 1310.8L659.6 1310.8L660.9 1330.2L749.4 1330.2L750.6 1365.4L951.3 1365.4"/>
<path class="b" d="M325.5 992.0L326.8 1007.5L328.0 1016.9L329.3 1027.3L330.5 1030.7L331.8 1036.9L333.0 1039.5L334.3 1047.9L335.5 1052.2L336.8 1058.3L338.0 1063.2L339.3 1067.0L340.5 1072.5L341.8 1076.6L343.0 1081.3L344.2 1086.2L345.5 1092.4L346.7 1094.5L348.0 1098.5L349.2 1102.4L350.5 1104.8L351.7 1107.8L353.0 1109.5L354.2 1112.6L355.5 1114.3L356.7 1117.2L358.0 1119.3L359.2 1125.6L360.4 1131.0L361.7 1133.2L362.9 1135.5L364.2 1140.0L365.4 1140.0L366.7 1141.3L367.9 1145.5L369.2 1149.0L370.4 1152.8L371.7 1157.5L372.9 1158.1L374.2 1158.8L375.4 1158.8L376.7 1159.4L377.9 1164.2L379.1 1165.7L380.4 1167.9L381.6 1167.9L382.9 1168.7L384.1 1172.9L390.4 1172.9L391.6 1174.6L392.9 1176.4L394.1 1178.3L396.6 1178.3L397.8 1179.3L399.1 1181.3L400.3 1182.4L401.6 1184.5L402.8 1185.6L404.1 1186.8L405.3 1188.0L406.6 1188.0L407.8 1190.4L409.1 1190.4L410.3 1193.0L414.0 1193.0L415.3 1195.7L421.5 1195.7L422.8 1198.5L424.0 1200.0L429.0 1200.0L430.3 1203.2L431.5 1203.2L432.7 1204.9L436.5 1204.9L437.7 1206.6L439.0 1206.6L440.2 1210.2L442.7 1210.2L444.0 1212.2L445.2 1212.2L446.5 1214.2L448.9 1214.2L450.2 1218.5L455.2 1218.5L456.4 1223.3L457.7 1223.3L458.9 1225.8L462.7 1225.8L463.9 1228.5L465.2 1231.4L470.1 1231.4L471.4 1234.5L482.6 1234.5L483.9 1237.7L496.3 1237.7L497.6 1241.3L498.8 1241.3L500.1 1245.1L505.0 1245.1L506.3 1249.2L520.0 1249.2L521.2 1253.7L522.5 1258.7L548.7 1258.7L549.9 1264.3L557.4 1264.3L558.6 1270.6L579.8 1270.6L581.1 1277.9L592.3 1277.9L593.5 1286.6L613.5 1286.6L614.7 1297.2L650.9 1297.2L652.1 1310.8L703.2 1310.8L704.5 1330.2L758.1 1330.2L759.3 1365.4L972.5 1365.4"/>
<path class="b" d="M325.5 984.4L326.8 1001.7L328.0 1014.9L329.3 1024.4L330.5 1031.8L331.8 1039.9L333.0 1043.4L334.3 1050.9L335.5 1055.7L336.8 1060.2L338.0 1063.7L339.3 1068.8L340.5 1076.4L341.8 1081.1L343.0 1090.5L344.2 1095.5L345.5 1100.3L346.7 1102.6L348.0 1107.8L349.2 1112.3L350.5 1119.1L351.7 1121.6L353.0 1127.2L354.2 1130.6L355.5 1133.2L356.7 1135.5L358.0 1140.9L359.2 1147.4L360.4 1151.1L361.7 1156.3L362.9 1159.4L365.4 1159.4L366.7 1160.1L367.9 1163.5L369.2 1167.2L374.2 1167.2L375.4 1172.9L376.7 1175.5L377.9 1175.5L379.1 1176.4L381.6 1176.4L382.9 1178.3L384.1 1178.3L385.4 1181.3L386.6 1182.4L387.9 1182.4L389.1 1184.5L390.4 1186.8L391.6 1186.8L392.9 1189.2L400.3 1189.2L401.6 1190.4L402.8 1190.4L404.1 1191.7L405.3 1191.7L406.6 1193.0L407.8 1195.7L409.1 1195.7L410.3 1198.5L421.5 1198.5L422.8 1200.0L424.0 1200.0L425.3 1203.2L430.3 1203.2L431.5 1204.9L437.7 1204.9L439.0 1206.6L440.2 1210.2L442.7 1210.2L444.0 1212.2L445.2 1212.2L446.5 1216.3L447.7 1216.3L448.9 1220.8L455.2 1220.8L456.4 1223.3L466.4 1223.3L467.6 1225.8L470.1 1225.8L471.4 1228.5L477.6 1228.5L478.9 1234.5L486.3 1234.5L487.6 1237.7L498.8 1237.7L500.1 1241.3L502.5 1241.3L503.8 1245.1L512.5 1245.1L513.8 1249.2L515.0 1249.2L516.3 1253.7L528.7 1253.7L530.0 1258.7L542.4 1258.7L543.7 1264.3L554.9 1264.3L556.1 1270.6L576.1 1270.6L577.3 1277.9L598.5 1277.9L599.8 1286.6L628.4 1286.6L629.7 1297.2L669.6 1297.2L670.8 1310.8L719.4 1310.8L720.7 1330.2L775.5 1330.2L776.8 1365.4L973.7 1365.4"/>
<path class="b" d="M325.5 982.0L326.8 998.2L328.0 1009.9L329.3 1021.4L330.5 1029.0L331.8 1035.3L333.0 1040.8L334.3 1046.8L335.5 1051.3L336.8 1055.3L338.0 1061.7L339.3 1063.8L340.5 1069.0L341.8 1071.5L343.0 1077.2L344.2 1082.5L345.5 1087.5L346.7 1089.9L348.0 1092.4L349.2 1095.5L350.5 1097.6L351.7 1101.0L353.0 1103.4L354.2 1110.2L355.5 1115.3L356.7 1119.1L358.0 1124.3L359.2 1126.6L360.4 1128.9L361.7 1132.4L362.9 1132.8L364.2 1137.9L365.4 1142.2L366.7 1142.6L367.9 1147.4L369.2 1148.5L370.4 1149.5L371.7 1153.3L372.9 1156.3L374.2 1156.9L375.4 1160.7L376.7 1164.2L377.9 1166.4L379.1 1167.9L380.4 1172.0L381.6 1174.6L382.9 1175.5L385.4 1175.5L386.6 1177.4L387.9 1179.3L389.1 1181.3L391.6 1181.3L392.9 1182.4L394.1 1184.5L395.4 1188.0L396.6 1191.7L397.8 1197.1L399.1 1198.5L400.3 1201.6L401.6 1204.9L402.8 1204.9L404.1 1208.4L410.3 1208.4L411.6 1210.2L414.0 1210.2L415.3 1214.2L416.5 1214.2L417.8 1216.3L419.0 1218.5L420.3 1218.5L421.5 1220.8L424.0 1220.8L425.3 1223.3L426.5 1225.8L429.0 1225.8L430.3 1228.5L431.5 1234.5L437.7 1234.5L439.0 1237.7L440.2 1241.3L445.2 1241.3L446.5 1245.1L447.7 1249.2L450.2 1249.2L451.4 1253.7L455.2 1253.7L456.4 1258.7L468.9 1258.7L470.1 1264.3L473.9 1264.3L475.1 1270.6L477.6 1270.6L478.9 1277.9L483.9 1277.9L485.1 1286.6L496.3 1286.6L497.6 1297.2L517.5 1297.2L518.8 1310.8L538.7 1310.8L539.9 1330.2L572.4 1330.2L573.6 1365.4L622.2 1365.4"/>
<path class="b" d="M325.5 978.5L326.8 999.0L328.0 1013.7L329.3 1023.7L330.5 1036.4L331.8 1043.3L333.0 1049.0L334.3 1054.2L335.5 1057.7L336.8 1060.0L338.0 1064.8L339.3 1069.3L340.5 1073.8L341.8 1079.4L343.0 1088.0L344.2 1090.2L345.5 1095.2L346.7 1101.0L348.0 1106.3L349.2 1112.6L350.5 1119.3L351.7 1124.0L353.0 1130.3L354.2 1134.7L355.5 1140.0L356.7 1142.6L358.0 1146.4L359.2 1149.0L360.4 1152.2L361.7 1154.5L362.9 1158.8L364.2 1164.9L365.4 1164.9L366.7 1167.2L367.9 1170.3L369.2 1174.6L370.4 1175.5L371.7 1178.3L372.9 1182.4L374.2 1183.4L376.7 1183.4L377.9 1184.5L379.1 1188.0L380.4 1190.4L381.6 1191.7L382.9 1193.0L384.1 1194.3L385.4 1194.3L386.6 1195.7L387.9 1201.6L389.1 1201.6L390.4 1204.9L399.1 1204.9L400.3 1208.4L402.8 1208.4L404.1 1210.2L407.8 1210.2L409.1 1212.2L410.3 1214.2L411.6 1216.3L412.8 1216.3L414.0 1218.5L415.3 1220.8L416.5 1220.8L417.8 1223.3L419.0 1223.3L420.3 1225.8L421.5 1228.5L422.8 1228.5L424.0 1234.5L426.5 1234.5L427.8 1237.7L429.0 1241.3L435.2 1241.3L436.5 1245.1L441.5 1245.1L442.7 1249.2L444.0 1253.7L453.9 1253.7L455.2 1258.7L457.7 1258.7L458.9 1264.3L460.2 1270.6L472.6 1270.6L473.9 1277.9L485.1 1277.9L486.3 1286.6L495.1 1286.6L496.3 1297.2L515.0 1297.2L516.3 1310.8L542.4 1310.8L543.7 1330.2L594.8 1330.2L596.0 1365.4L644.7 1365.4"/>
<path class="b" d="M325.5 958.5L326.8 988.6L328.0 1004.5L329.3 1018.8L330.5 1026.5L331.8 1035.9L333.0 1038.9L334.3 1045.1L335.5 1048.8L336.8 1054.6L338.0 1054.9L339.3 1057.6L340.5 1062.7L341.8 1071.4L343.0 1073.4L344.2 1081.3L345.5 1084.8L346.7 1088.9L348.0 1092.1L349.2 1096.9L350.5 1099.4L351.7 1103.0L353.0 1106.7L354.2 1109.8L355.5 1110.5L356.7 1112.1L358.0 1114.6L359.2 1118.0L360.4 1122.5L361.7 1124.3L362.9 1129.6L364.2 1133.9L365.4 1134.3L366.7 1135.5L367.9 1135.5L369.2 1136.3L370.4 1138.7L371.7 1143.6L372.9 1145.0L374.2 1145.5L375.4 1149.0L376.7 1151.7L377.9 1155.1L379.1 1156.3L380.4 1159.4L381.6 1162.8L382.9 1163.5L384.1 1167.2L385.4 1169.5L386.6 1172.0L387.9 1173.7L389.1 1173.7L390.4 1174.6L391.6 1174.6L392.9 1178.3L394.1 1182.4L395.4 1183.4L396.6 1188.0L397.8 1188.0L399.1 1189.2L400.3 1190.4L401.6 1190.4L402.8 1194.3L404.1 1195.7L405.3 1197.1L406.6 1200.0L407.8 1201.6L409.1 1204.9L410.3 1206.6L411.6 1208.4L412.8 1208.4L414.0 1210.2L415.3 1212.2L416.5 1212.2L417.8 1216.3L419.0 1216.3L420.3 1218.5L422.8 1218.5L424.0 1220.8L425.3 1220.8L426.5 1223.3L427.8 1225.8L429.0 1225.8L430.3 1228.5L446.5 1228.5L447.7 1231.4L448.9 1231.4L450.2 1237.7L453.9 1237.7L455.2 1241.3L456.4 1241.3L457.7 1245.1L461.4 1245.1L462.7 1249.2L465.2 1249.2L466.4 1253.7L473.9 1253.7L475.1 1258.7L476.4 1258.7L477.6 1264.3L482.6 1264.3L483.9 1270.6L491.3 1270.6L492.6 1277.9L500.1 1277.9L501.3 1286.6L515.0 1286.6L516.3 1297.2L532.5 1297.2L533.7 1310.8L562.4 1310.8L563.6 1330.2L619.7 1330.2L621.0 1365.4L669.6 1365.4"/>
<path class="b" d="M325.5 978.6L326.8 994.4L328.0 1007.8L329.3 1017.0L330.5 1023.4L331.8 1029.3L333.0 1037.6L334.3 1042.0L335.5 1048.2L336.8 1053.0L338.0 1058.4L339.3 1064.6L340.5 1072.2L341.8 1078.2L343.0 1082.7L344.2 1086.2L345.5 1091.5L346.7 1095.3L348.0 1101.0L349.2 1106.5L350.5 1110.0L351.7 1114.1L353.0 1118.2L354.2 1121.6L355.5 1122.8L356.7 1126.9L358.0 1131.7L359.2 1132.8L360.4 1137.1L361.7 1139.6L362.9 1142.6L364.2 1144.5L365.4 1145.0L366.7 1147.9L367.9 1147.9L369.2 1150.0L370.4 1151.7L371.7 1151.7L372.9 1154.5L374.2 1158.1L375.4 1160.7L376.7 1163.5L377.9 1166.4L379.1 1167.2L380.4 1171.2L381.6 1171.2L382.9 1172.9L384.1 1173.7L385.4 1177.4L386.6 1178.3L387.9 1181.3L389.1 1182.4L390.4 1184.5L394.1 1184.5L395.4 1188.0L396.6 1190.4L401.6 1190.4L402.8 1193.0L404.1 1193.0L405.3 1195.7L406.6 1195.7L407.8 1197.1L409.1 1200.0L410.3 1200.0L411.6 1201.6L412.8 1203.2L414.0 1204.9L416.5 1204.9L417.8 1206.6L419.0 1208.4L420.3 1208.4L421.5 1210.2L424.0 1210.2L425.3 1212.2L426.5 1212.2L427.8 1214.2L430.3 1214.2L431.5 1216.3L432.7 1216.3L434.0 1220.8L435.2 1220.8L436.5 1223.3L437.7 1228.5L439.0 1228.5L440.2 1231.4L453.9 1231.4L455.2 1234.5L457.7 1234.5L458.9 1237.7L462.7 1237.7L463.9 1245.1L467.6 1245.1L468.9 1249.2L478.9 1249.2L480.1 1253.7L481.4 1258.7L483.9 1258.7L485.1 1264.3L495.1 1264.3L496.3 1270.6L505.0 1270.6L506.3 1277.9L515.0 1277.9L516.3 1286.6L537.5 1286.6L538.7 1297.2L584.8 1297.2L586.1 1310.8L602.3 1310.8L603.5 1330.2L640.9 1330.2L642.2 1365.4L690.8 1365.4"/>
<path class="b" d="M325.5 949.5L326.8 981.9L328.0 1003.4L329.3 1015.6L330.5 1024.3L331.8 1032.8L333.0 1038.2L334.3 1044.3L335.5 1049.7L336.8 1053.7L338.0 1057.3L339.3 1059.4L340.5 1064.7L341.8 1069.8L343.0 1072.4L344.2 1072.5L345.5 1077.8L346.7 1079.8L348.0 1079.8L349.2 1085.9L350.5 1091.6L351.7 1094.8L353.0 1099.0L354.2 1100.9L355.5 1104.0L356.7 1104.6L359.2 1104.6L360.4 1108.0L361.7 1111.6L362.9 1115.8L364.2 1120.8L365.4 1124.0L366.7 1127.5L367.9 1131.0L369.2 1133.5L370.4 1136.3L371.7 1139.1L372.9 1141.7L374.2 1145.5L375.4 1146.9L376.7 1152.8L377.9 1152.8L379.1 1154.5L380.4 1155.7L381.6 1155.7L382.9 1156.3L384.1 1160.1L385.4 1160.1L386.6 1162.1L387.9 1164.9L389.1 1165.7L390.4 1166.4L391.6 1167.2L392.9 1167.9L394.1 1171.2L395.4 1172.9L396.6 1173.7L397.8 1173.7L399.1 1174.6L400.3 1176.4L401.6 1180.3L402.8 1180.3L404.1 1181.3L406.6 1181.3L407.8 1183.4L409.1 1184.5L410.3 1184.5L411.6 1186.8L412.8 1188.0L414.0 1188.0L415.3 1190.4L416.5 1193.0L417.8 1195.7L419.0 1195.7L420.3 1197.1L421.5 1198.5L422.8 1201.6L424.0 1204.9L425.3 1204.9L426.5 1206.6L427.8 1206.6L429.0 1208.4L430.3 1210.2L431.5 1212.2L432.7 1214.2L434.0 1214.2L435.2 1216.3L436.5 1216.3L437.7 1218.5L439.0 1220.8L440.2 1220.8L441.5 1223.3L444.0 1223.3L445.2 1225.8L446.5 1228.5L447.7 1228.5L448.9 1231.4L455.2 1231.4L456.4 1234.5L462.7 1234.5L463.9 1237.7L472.6 1237.7L473.9 1245.1L475.1 1245.1L476.4 1249.2L483.9 1249.2L485.1 1253.7L486.3 1258.7L496.3 1258.7L497.6 1264.3L506.3 1264.3L507.5 1270.6L516.3 1270.6L517.5 1277.9L525.0 1277.9L526.2 1286.6L544.9 1286.6L546.2 1297.2L578.6 1297.2L579.8 1310.8L609.7 1310.8L611.0 1330.2L680.8 1330.2L682.0 1365.4L730.7 1365.4"/>
<path class="b" d="M325.5 927.3L326.8 970.7L328.0 997.7L329.3 1013.4L330.5 1022.0L331.8 1030.8L333.0 1036.9L334.3 1045.6L335.5 1051.1L336.8 1055.2L338.0 1058.0L339.3 1063.3L340.5 1067.6L341.8 1070.4L343.0 1072.3L344.2 1077.6L345.5 1082.7L346.7 1084.8L348.0 1089.8L349.2 1093.0L350.5 1097.0L351.7 1098.8L353.0 1102.2L354.2 1104.6L355.5 1105.2L356.7 1108.6L358.0 1113.3L359.2 1116.1L360.4 1116.1L361.7 1116.9L362.9 1118.8L364.2 1118.8L365.4 1122.8L366.7 1127.2L367.9 1129.2L369.2 1129.2L370.4 1131.7L371.7 1135.1L372.9 1139.6L374.2 1139.6L375.4 1141.7L376.7 1141.7L377.9 1142.2L379.1 1144.0L380.4 1147.9L381.6 1149.5L382.9 1153.9L384.1 1158.8L385.4 1161.4L386.6 1161.4L387.9 1162.1L389.1 1164.2L390.4 1164.9L391.6 1166.4L392.9 1167.2L394.1 1167.2L395.4 1167.9L396.6 1171.2L397.8 1173.7L399.1 1174.6L400.3 1176.4L401.6 1179.3L404.1 1179.3L405.3 1180.3L406.6 1182.4L407.8 1184.5L410.3 1184.5L411.6 1185.6L412.8 1189.2L414.0 1189.2L415.3 1190.4L416.5 1190.4L417.8 1191.7L419.0 1193.0L420.3 1198.5L421.5 1203.2L422.8 1203.2L424.0 1206.6L426.5 1206.6L427.8 1210.2L429.0 1210.2L430.3 1214.2L431.5 1218.5L435.2 1218.5L436.5 1220.8L437.7 1223.3L442.7 1223.3L444.0 1225.8L451.4 1225.8L452.7 1228.5L453.9 1228.5L455.2 1231.4L458.9 1231.4L460.2 1234.5L466.4 1234.5L467.6 1237.7L468.9 1237.7L470.1 1241.3L471.4 1241.3L472.6 1245.1L473.9 1245.1L475.1 1249.2L478.9 1249.2L480.1 1253.7L492.6 1253.7L493.8 1258.7L496.3 1258.7L497.6 1264.3L513.8 1264.3L515.0 1270.6L530.0 1270.6L531.2 1277.9L537.5 1277.9L538.7 1286.6L541.2 1286.6L542.4 1297.2L563.6 1297.2L564.9 1310.8L612.2 1310.8L613.5 1330.2L682.0 1330.2L683.3 1365.4L731.9 1365.4"/>
<path class="b" d="M325.5 966.8L326.8 993.1L328.0 1010.2L329.3 1022.6L330.5 1031.4L331.8 1038.0L333.0 1045.1L334.3 1050.6L335.5 1055.5L336.8 1058.7L338.0 1063.9L339.3 1067.8L340.5 1072.2L341.8 1077.2L343.0 1081.9L344.2 1085.0L345.5 1089.8L346.7 1094.2L348.0 1098.1L349.2 1100.9L350.5 1107.3L351.7 1110.5L353.0 1113.6L354.2 1116.6L355.5 1120.8L356.7 1120.8L358.0 1124.6L359.2 1125.6L360.4 1128.5L361.7 1131.3L362.9 1134.3L364.2 1135.5L365.4 1136.3L366.7 1138.7L367.9 1139.6L369.2 1141.7L370.4 1146.9L371.7 1148.5L372.9 1149.5L374.2 1152.8L375.4 1155.1L376.7 1156.9L377.9 1156.9L379.1 1158.1L380.4 1160.1L381.6 1160.1L382.9 1162.1L384.1 1162.8L385.4 1164.2L386.6 1167.9L389.1 1167.9L390.4 1170.3L391.6 1172.9L392.9 1177.4L394.1 1178.3L395.4 1178.3L396.6 1179.3L397.8 1180.3L399.1 1181.3L400.3 1184.5L401.6 1185.6L402.8 1186.8L404.1 1186.8L405.3 1189.2L406.6 1190.4L407.8 1191.7L409.1 1194.3L410.3 1195.7L411.6 1198.5L412.8 1200.0L417.8 1200.0L419.0 1203.2L421.5 1203.2L422.8 1206.6L424.0 1208.4L425.3 1210.2L426.5 1214.2L431.5 1214.2L432.7 1216.3L437.7 1216.3L439.0 1220.8L444.0 1220.8L445.2 1223.3L446.5 1223.3L447.7 1225.8L448.9 1228.5L456.4 1228.5L457.7 1231.4L460.2 1231.4L461.4 1234.5L462.7 1234.5L463.9 1237.7L473.9 1237.7L475.1 1241.3L477.6 1241.3L478.9 1245.1L490.1 1245.1L491.3 1249.2L493.8 1249.2L495.1 1253.7L498.8 1253.7L500.1 1258.7L508.8 1258.7L510.0 1264.3L527.5 1264.3L528.7 1270.6L556.1 1270.6L557.4 1277.9L567.4 1277.9L568.6 1286.6L576.1 1286.6L577.3 1297.2L607.3 1297.2L608.5 1310.8L645.9 1310.8L647.1 1330.2L716.9 1330.2L718.2 1365.4L766.8 1365.4"/>
<path class="b" d="M325.5 964.4L326.8 993.3L328.0 1010.6L329.3 1023.7L330.5 1028.7L331.8 1035.3L333.0 1043.9L334.3 1049.0L335.5 1052.6L336.8 1056.9L338.0 1062.8L339.3 1065.8L340.5 1069.3L341.8 1070.9L343.0 1072.9L344.2 1077.7L345.5 1081.2L346.7 1081.8L348.0 1085.4L349.2 1086.0L350.5 1091.0L351.7 1093.2L353.0 1097.7L354.2 1099.0L355.5 1102.4L356.7 1104.8L358.0 1108.4L359.2 1111.9L360.4 1116.6L361.7 1117.7L362.9 1120.8L364.2 1123.4L365.4 1123.4L366.7 1124.6L367.9 1127.5L370.4 1127.5L371.7 1129.2L372.9 1133.9L374.2 1135.1L375.4 1135.5L376.7 1137.1L379.1 1137.1L380.4 1141.3L381.6 1144.0L382.9 1146.9L384.1 1148.5L385.4 1148.5L386.6 1151.1L387.9 1155.1L389.1 1155.7L392.9 1155.7L394.1 1158.1L395.4 1158.1L396.6 1161.4L397.8 1161.4L399.1 1163.5L400.3 1166.4L401.6 1170.3L402.8 1172.0L404.1 1174.6L405.3 1175.5L406.6 1175.5L407.8 1178.3L409.1 1178.3L410.3 1179.3L411.6 1179.3L412.8 1181.3L414.0 1182.4L416.5 1182.4L417.8 1183.4L419.0 1185.6L420.3 1185.6L421.5 1186.8L422.8 1188.0L424.0 1189.2L425.3 1189.2L426.5 1190.4L427.8 1191.7L429.0 1193.0L431.5 1193.0L432.7 1197.1L434.0 1201.6L435.2 1201.6L436.5 1203.2L437.7 1203.2L439.0 1204.9L440.2 1206.6L441.5 1206.6L442.7 1208.4L446.5 1208.4L447.7 1210.2L448.9 1210.2L450.2 1212.2L451.4 1212.2L452.7 1214.2L453.9 1216.3L455.2 1218.5L457.7 1218.5L458.9 1220.8L460.2 1223.3L472.6 1223.3L473.9 1225.8L476.4 1225.8L477.6 1228.5L478.9 1228.5L480.1 1231.4L481.4 1231.4L482.6 1234.5L492.6 1234.5L493.8 1237.7L496.3 1237.7L497.6 1241.3L502.5 1241.3L503.8 1245.1L511.3 1245.1L512.5 1249.2L517.5 1249.2L518.8 1253.7L530.0 1253.7L531.2 1258.7L539.9 1258.7L541.2 1264.3L546.2 1264.3L547.4 1270.6L548.7 1270.6L549.9 1277.9L582.3 1277.9L583.6 1286.6L618.5 1286.6L619.7 1297.2L649.6 1297.2L650.9 1310.8L699.5 1310.8L700.7 1330.2L749.4 1330.2L750.6 1365.4L799.2 1365.4"/>
<path class="b" d="M325.5 919.4L326.8 969.8L328.0 998.5L329.3 1016.6L330.5 1030.1L331.8 1035.3L333.0 1043.4L334.3 1050.1L335.5 1056.6L336.8 1062.5L338.0 1067.4L339.3 1072.0L340.5 1076.2L341.8 1081.8L343.0 1090.2L344.2 1094.0L345.5 1099.6L346.7 1105.2L348.0 1108.9L349.2 1113.6L350.5 1118.0L351.7 1120.2L353.0 1123.7L354.2 1126.9L355.5 1129.6L356.7 1135.1L358.0 1139.1L359.2 1141.7L360.4 1143.1L361.7 1143.6L362.9 1145.5L364.2 1152.8L365.4 1157.5L366.7 1160.7L367.9 1162.1L369.2 1163.5L370.4 1164.2L371.7 1165.7L372.9 1166.4L374.2 1169.5L377.9 1169.5L379.1 1171.2L380.4 1172.0L381.6 1173.7L382.9 1174.6L384.1 1174.6L385.4 1175.5L386.6 1179.3L389.1 1179.3L390.4 1181.3L392.9 1181.3L394.1 1182.4L395.4 1185.6L400.3 1185.6L401.6 1188.0L404.1 1188.0L405.3 1191.7L406.6 1191.7L407.8 1193.0L411.6 1193.0L412.8 1195.7L414.0 1197.1L415.3 1200.0L416.5 1200.0L417.8 1201.6L419.0 1201.6L420.3 1204.9L424.0 1204.9L425.3 1206.6L427.8 1206.6L429.0 1208.4L434.0 1208.4L435.2 1210.2L439.0 1210.2L440.2 1212.2L441.5 1214.2L442.7 1216.3L452.7 1216.3L453.9 1218.5L455.2 1218.5L456.4 1220.8L457.7 1220.8L458.9 1223.3L460.2 1225.8L473.9 1225.8L475.1 1228.5L478.9 1228.5L480.1 1231.4L482.6 1231.4L483.9 1234.5L486.3 1234.5L487.6 1237.7L488.8 1237.7L490.1 1241.3L491.3 1241.3L492.6 1245.1L507.5 1245.1L508.8 1249.2L511.3 1249.2L512.5 1253.7L520.0 1253.7L521.2 1258.7L543.7 1258.7L544.9 1264.3L561.1 1264.3L562.4 1270.6L569.9 1270.6L571.1 1277.9L579.8 1277.9L581.1 1286.6L606.0 1286.6L607.3 1297.2L635.9 1297.2L637.2 1310.8L702.0 1310.8L703.2 1330.2L758.1 1330.2L759.3 1365.4L807.9 1365.4"/>
<path class="b" d="M325.5 976.5L326.8 997.4L328.0 1010.9L329.3 1019.5L330.5 1027.5L331.8 1034.4L333.0 1040.5L334.3 1048.1L335.5 1052.8L336.8 1058.1L338.0 1060.1L339.3 1066.0L340.5 1068.2L341.8 1072.5L343.0 1078.5L344.2 1084.0L345.5 1091.8L346.7 1094.8L348.0 1097.7L349.2 1101.6L350.5 1107.5L351.7 1113.3L353.0 1117.2L354.2 1120.8L355.5 1124.0L356.7 1126.9L358.0 1129.6L359.2 1131.3L360.4 1135.1L361.7 1136.3L362.9 1136.7L364.2 1139.1L365.4 1141.3L366.7 1145.5L367.9 1146.9L369.2 1150.6L370.4 1152.8L371.7 1155.1L372.9 1160.1L374.2 1163.5L375.4 1166.4L376.7 1167.2L377.9 1168.7L381.6 1168.7L382.9 1170.3L384.1 1172.0L385.4 1172.9L386.6 1174.6L387.9 1177.4L389.1 1178.3L390.4 1178.3L391.6 1179.3L392.9 1180.3L396.6 1180.3L397.8 1181.3L399.1 1182.4L400.3 1186.8L401.6 1188.0L402.8 1189.2L404.1 1189.2L405.3 1190.4L406.6 1194.3L407.8 1194.3L409.1 1195.7L410.3 1197.1L412.8 1197.1L414.0 1198.5L415.3 1200.0L416.5 1203.2L417.8 1203.2L419.0 1204.9L426.5 1204.9L427.8 1206.6L437.7 1206.6L439.0 1208.4L440.2 1214.2L441.5 1216.3L448.9 1216.3L450.2 1218.5L451.4 1218.5L452.7 1220.8L455.2 1220.8L456.4 1223.3L465.2 1223.3L466.4 1225.8L472.6 1225.8L473.9 1228.5L475.1 1228.5L476.4 1231.4L483.9 1231.4L485.1 1234.5L486.3 1234.5L487.6 1237.7L500.1 1237.7L501.3 1241.3L502.5 1245.1L507.5 1245.1L508.8 1249.2L510.0 1249.2L511.3 1253.7L512.5 1253.7L513.8 1258.7L531.2 1258.7L532.5 1264.3L543.7 1264.3L544.9 1270.6L556.1 1270.6L557.4 1277.9L583.6 1277.9L584.8 1286.6L599.8 1286.6L601.0 1297.2L639.7 1297.2L640.9 1310.8L698.2 1310.8L699.5 1330.2L775.5 1330.2L776.8 1365.4L825.4 1365.4"/>
<path class="b" d="M325.5 929.1L326.8 973.9L328.0 999.8L329.3 1014.4L330.5 1024.7L331.8 1032.2L333.0 1039.8L334.3 1045.5L335.5 1049.3L336.8 1052.5L338.0 1058.2L339.3 1061.7L340.5 1062.8L341.8 1065.9L343.0 1068.4L344.2 1070.2L345.5 1075.1L346.7 1078.1L348.0 1080.4L349.2 1082.5L350.5 1083.9L351.7 1085.9L353.0 1089.3L354.2 1092.1L355.5 1094.5L356.7 1096.7L358.0 1098.8L359.2 1100.1L360.4 1104.0L361.7 1105.8L362.9 1106.5L364.2 1108.2L365.4 1109.3L366.7 1111.9L367.9 1114.6L369.2 1118.5L370.4 1119.9L371.7 1121.3L372.9 1122.2L374.2 1123.7L375.4 1126.6L376.7 1128.9L377.9 1132.4L379.1 1133.5L380.4 1135.9L381.6 1137.9L382.9 1139.1L384.1 1141.3L385.4 1141.7L386.6 1145.5L387.9 1146.9L389.1 1150.6L390.4 1152.8L391.6 1153.9L392.9 1156.3L394.1 1157.5L395.4 1158.1L396.6 1160.7L397.8 1161.4L399.1 1162.8L400.3 1164.2L401.6 1164.9L402.8 1167.9L407.8 1167.9L409.1 1168.7L410.3 1169.5L411.6 1171.2L412.8 1172.9L414.0 1174.6L415.3 1176.4L416.5 1177.4L417.8 1177.4L419.0 1180.3L420.3 1180.3L421.5 1182.4L422.8 1184.5L424.0 1185.6L425.3 1188.0L426.5 1189.2L427.8 1190.4L429.0 1191.7L430.3 1191.7L431.5 1193.0L432.7 1193.0L434.0 1194.3L435.2 1195.7L436.5 1197.1L437.7 1197.1L439.0 1198.5L440.2 1200.0L446.5 1200.0L447.7 1201.6L448.9 1201.6L450.2 1204.9L451.4 1204.9L452.7 1206.6L453.9 1208.4L455.2 1210.2L456.4 1212.2L457.7 1212.2L458.9 1214.2L460.2 1214.2L461.4 1216.3L466.4 1216.3L467.6 1218.5L470.1 1218.5L471.4 1220.8L473.9 1220.8L475.1 1223.3L476.4 1225.8L481.4 1225.8L482.6 1228.5L485.1 1228.5L486.3 1231.4L488.8 1231.4L490.1 1234.5L497.6 1234.5L498.8 1237.7L500.1 1237.7L501.3 1241.3L502.5 1245.1L510.0 1245.1L511.3 1249.2L526.2 1249.2L527.5 1253.7L532.5 1253.7L533.7 1258.7L541.2 1258.7L542.4 1264.3L556.1 1264.3L557.4 1270.6L578.6 1270.6L579.8 1277.9L606.0 1277.9L607.3 1286.6L623.5 1286.6L624.7 1297.2L660.9 1297.2L662.1 1310.8L725.7 1310.8L726.9 1330.2L881.5 1330.2L882.7 1365.4L1067.2 1365.4"/>
<path class="b" d="M325.5 916.3L326.8 1125.3L328.0 1161.4L329.3 1193.0L330.5 1216.3L331.8 1245.1L333.0 1270.6L334.3 1286.6L335.5 1297.2L336.8 1310.8L340.5 1310.8L341.8 1330.2L348.0 1330.2L349.2 1365.4L377.9 1365.4"/>
</g>
<path class="ax" d="M324.3 857.5V1437.1H1110.0"/>
<path class="ax" d="M324.3 890.2h10.5M324.3 1000.5h10.5M324.3 1109.5h10.5M324.3 1217.6h10.5M324.3 1326.9h10.5M448.9 1437.1v-11.5M573.6 1437.1v-11.5M698.2 1437.1v-11.5M822.9 1437.1v-11.5M947.5 1437.1v-11.5M1072.2 1437.1v-11.5"/>
<text x="306.9" y="903.9" text-anchor="end">100</text>
<text x="306.9" y="1014.2" text-anchor="end">10</text>
<text x="306.9" y="1123.2" text-anchor="end">1</text>
<text x="306.9" y="1231.3" text-anchor="end">0.1</text>
<text x="306.9" y="1340.6" text-anchor="end">0.01</text>
<text x="306.9" y="1450.8" text-anchor="end">0.001</text>
<text x="324.3" y="1484.3" text-anchor="middle">0</text>
<text x="448.9" y="1484.3" text-anchor="middle">100</text>
<text x="573.6" y="1484.3" text-anchor="middle">200</text>
<text x="698.2" y="1484.3" text-anchor="middle">300</text>
<text x="822.9" y="1484.3" text-anchor="middle">400</text>
<text x="947.5" y="1484.3" text-anchor="middle">500</text>
<text x="1072.2" y="1484.3" text-anchor="middle">600</text>
<text x="137.6" y="887">B</text>
<text transform="translate(176 1148.5) rotate(-90)" text-anchor="middle" class="cj">相对丰度 (%)</text>
<text x="717" y="1539.4" text-anchor="middle" class="cj" style="letter-spacing:.7px">OTU水平等级</text>
<path d="M352.7 872H415.2" stroke="#e71d36" stroke-width="5" fill="none"/>
<path d="M352.7 923.8H415.2" stroke="#2148e0" stroke-width="5" fill="none"/>
<text x="432" y="887">D0</text>
<text x="432" y="937">D28</text>
</svg></body></html>
